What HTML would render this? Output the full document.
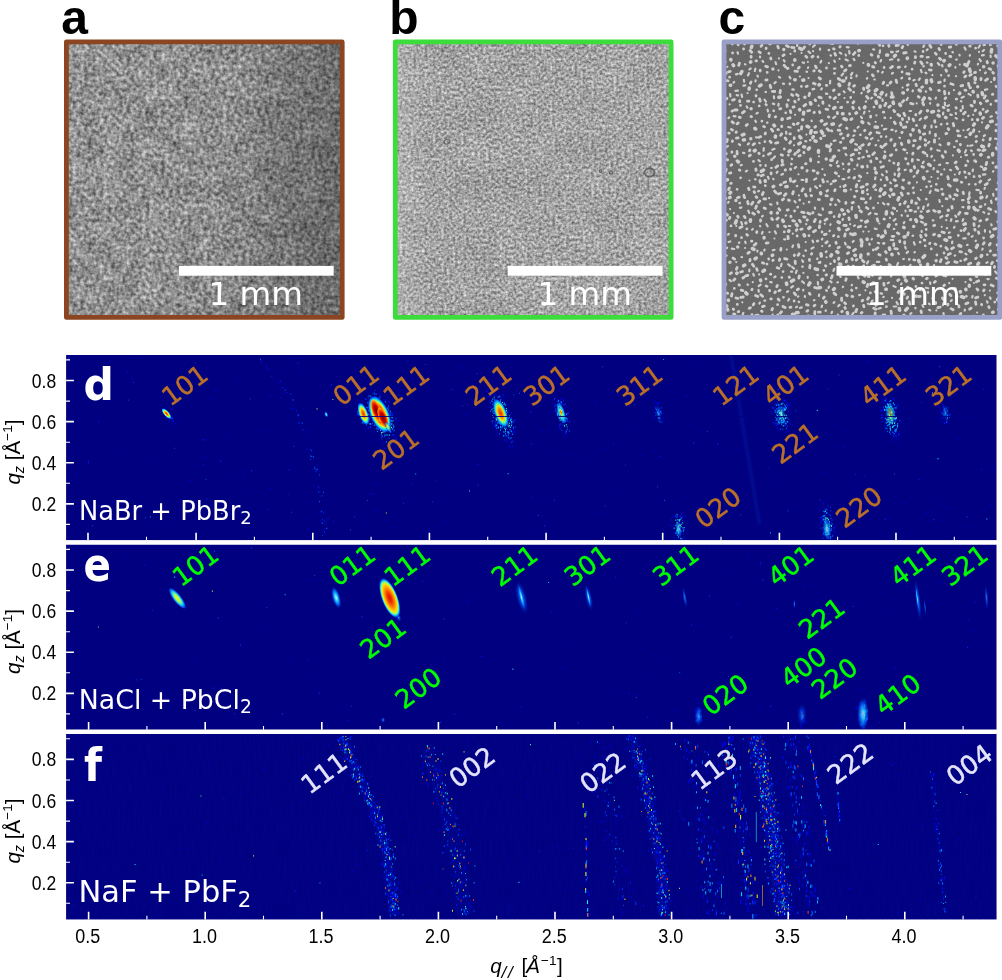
<!DOCTYPE html><html><head><meta charset="utf-8"><title>Figure</title><style>
html,body{margin:0;padding:0;background:#fff;}svg{display:block;}
.lb{font-family:"Liberation Sans",sans-serif;font-weight:bold;font-size:48px;fill:#000;}
.dj{font-family:"DejaVu Sans","Liberation Sans",sans-serif;}
.tk{font-family:"Liberation Sans",sans-serif;font-size:19.4px;fill:#000;}
</style></head><body>
<svg width="1002" height="980" viewBox="0 0 1002 980">
<defs>
<filter id="na" x="0" y="0" width="100%" height="100%" color-interpolation-filters="sRGB">
<feTurbulence type="fractalNoise" baseFrequency="0.26" numOctaves="2" seed="3"/>
<feColorMatrix values="1 0 0 0 0  1 0 0 0 0  1 0 0 0 0  0 0 0 0 1" result="f"/>
<feTurbulence type="fractalNoise" baseFrequency="0.05" numOctaves="2" seed="8"/>
<feColorMatrix values="1 0 0 0 0  1 0 0 0 0  1 0 0 0 0  0 0 0 0 1" result="c"/>
<feComposite in="f" in2="c" operator="arithmetic" k1="0" k2="0.75" k3="0.2" k4="0.10"/></filter>
<filter id="nb" x="0" y="0" width="100%" height="100%" color-interpolation-filters="sRGB">
<feTurbulence type="fractalNoise" baseFrequency="0.36" numOctaves="2" seed="11"/>
<feColorMatrix values="1 0 0 0 0  1 0 0 0 0  1 0 0 0 0  0 0 0 0 1" result="f"/>
<feTurbulence type="fractalNoise" baseFrequency="0.03" numOctaves="2" seed="4"/>
<feColorMatrix values="1 0 0 0 0  1 0 0 0 0  1 0 0 0 0  0 0 0 0 1" result="c"/>
<feComposite in="f" in2="c" operator="arithmetic" k1="0" k2="0.7" k3="0.1" k4="0.24"/></filter>
<filter id="nf" x="0" y="0" width="100%" height="100%" color-interpolation-filters="sRGB">
<feTurbulence type="fractalNoise" baseFrequency="0.6 0.05" numOctaves="1" seed="2"/>
<feColorMatrix values="0 0 0 0 0.05  0 0 0 0 0.08  0 0 0 0 0.62  0.9 0 0 0 -0.2"/></filter>
<radialGradient id="gHot"><stop offset="0" stop-color="#800000" stop-opacity="1"/><stop offset="0.33" stop-color="#d00000" stop-opacity="1"/><stop offset="0.5" stop-color="#ff5000" stop-opacity="1"/><stop offset="0.62" stop-color="#ffd000" stop-opacity="1"/><stop offset="0.72" stop-color="#80ff80" stop-opacity="1"/><stop offset="0.82" stop-color="#00d0ff" stop-opacity="1"/><stop offset="0.92" stop-color="#0050ff" stop-opacity="0.9"/><stop offset="1" stop-color="#0010a0" stop-opacity="0"/></radialGradient>
<radialGradient id="gWarm"><stop offset="0" stop-color="#ff2000" stop-opacity="1"/><stop offset="0.28" stop-color="#ff8000" stop-opacity="1"/><stop offset="0.48" stop-color="#ffe000" stop-opacity="1"/><stop offset="0.63" stop-color="#80ff80" stop-opacity="1"/><stop offset="0.77" stop-color="#00c8ff" stop-opacity="1"/><stop offset="0.9" stop-color="#0050ff" stop-opacity="0.85"/><stop offset="1" stop-color="#0010a0" stop-opacity="0"/></radialGradient>
<radialGradient id="gHot2"><stop offset="0" stop-color="#d81800" stop-opacity="1"/><stop offset="0.22" stop-color="#f03000" stop-opacity="1"/><stop offset="0.45" stop-color="#ff8000" stop-opacity="1"/><stop offset="0.66" stop-color="#ffd800" stop-opacity="1"/><stop offset="0.76" stop-color="#b0ff50" stop-opacity="1"/><stop offset="0.84" stop-color="#30e0e0" stop-opacity="1"/><stop offset="0.92" stop-color="#0060ff" stop-opacity="0.9"/><stop offset="1" stop-color="#0010a0" stop-opacity="0"/></radialGradient>
<radialGradient id="gCore"><stop offset="0" stop-color="#800000" stop-opacity="1"/><stop offset="0.45" stop-color="#c80000" stop-opacity="1"/><stop offset="0.7" stop-color="#ff4000" stop-opacity="1"/><stop offset="0.88" stop-color="#ffb000" stop-opacity="0.85"/><stop offset="1" stop-color="#ffe000" stop-opacity="0"/></radialGradient>
<radialGradient id="gYel"><stop offset="0" stop-color="#fff000" stop-opacity="1"/><stop offset="0.35" stop-color="#a0ff60" stop-opacity="1"/><stop offset="0.6" stop-color="#20d0f0" stop-opacity="1"/><stop offset="0.85" stop-color="#0058ff" stop-opacity="0.8"/><stop offset="1" stop-color="#0010a0" stop-opacity="0"/></radialGradient>
<radialGradient id="gCy"><stop offset="0" stop-color="#d0ffff" stop-opacity="1"/><stop offset="0.3" stop-color="#30d0ff" stop-opacity="1"/><stop offset="0.65" stop-color="#0070ff" stop-opacity="0.85"/><stop offset="1" stop-color="#0018b0" stop-opacity="0"/></radialGradient>
<radialGradient id="gBl"><stop offset="0" stop-color="#40a0ff" stop-opacity="0.95"/><stop offset="0.5" stop-color="#0050f0" stop-opacity="0.7"/><stop offset="1" stop-color="#0018b0" stop-opacity="0"/></radialGradient>
<linearGradient id="vb" x1="0" y1="0" x2="1" y2="0"><stop offset="0" stop-color="#fff" stop-opacity="0.18"/><stop offset="0.12" stop-color="#fff" stop-opacity="0"/><stop offset="1" stop-color="#fff" stop-opacity="0"/></linearGradient><linearGradient id="va" x1="0" y1="0" x2="1" y2="0.1"><stop offset="0" stop-color="#000" stop-opacity="0"/><stop offset="0.6" stop-color="#000" stop-opacity="0.03"/><stop offset="0.85" stop-color="#000" stop-opacity="0.2"/><stop offset="1" stop-color="#000" stop-opacity="0.28"/></linearGradient>
<clipPath id="cc"><rect x="723.3" y="41.5" width="276.6" height="276.3"/></clipPath>
<filter id="ncb" x="0" y="0" width="100%" height="100%" color-interpolation-filters="sRGB"><feTurbulence type="fractalNoise" baseFrequency="0.5" numOctaves="1" seed="5"/><feColorMatrix values="0 0 0 0 0.5  0 0 0 0 0.5  0 0 0 0 0.5  0.5 0 0 0 -0.2"/></filter>
</defs>
<rect width="1002" height="980" fill="#fff"/>
<rect x="66.0" y="41.5" width="276.6" height="276.3" fill="#808080"/>
<rect x="66.0" y="41.5" width="276.6" height="276.3" filter="url(#na)"/>
<rect x="66" y="41.5" width="276.6" height="276.3" fill="url(#va)"/>
<rect x="66.4" y="41.9" width="275.8" height="275.5" fill="none" stroke="#8b4520" stroke-width="4.8" stroke-linejoin="round"/>
<rect x="178.9" y="265.9" width="154.8" height="9.8" fill="#fff"/>
<text class="dj" x="255.8" y="305.3" font-size="32.6" fill="#fff" text-anchor="middle">1 mm</text>
<text class="lb" x="61.3" y="34.3">a</text>
<rect x="394.9" y="41.5" width="276.6" height="276.3" fill="#a6a6a6"/>
<rect x="394.9" y="41.5" width="276.6" height="276.3" filter="url(#nb)"/>
<g fill="none" stroke="#555" stroke-width="1.2" opacity="0.8"><ellipse cx="447" cy="141.5" rx="3" ry="2.4" transform="rotate(-30 447 141.5)"/><ellipse cx="649.5" cy="172.5" rx="5" ry="4" stroke-width="1.8"/><circle cx="611" cy="172.5" r="1.6"/><circle cx="600.5" cy="171" r="1.3"/></g><circle cx="544.5" cy="304" r="2.2" fill="#fff" opacity="0.8"/><rect x="395" y="41.5" width="276.6" height="276.3" fill="url(#vb)"/>
<rect x="395.29999999999995" y="41.9" width="275.8" height="275.5" fill="none" stroke="#3ddc3d" stroke-width="4.8" stroke-linejoin="round"/>
<rect x="507.79999999999995" y="265.9" width="154.8" height="9.8" fill="#fff"/>
<text class="dj" x="584.7" y="305.3" font-size="32.6" fill="#fff" text-anchor="middle">1 mm</text>
<text class="lb" x="389.3" y="34.3">b</text>
<rect x="723.6" y="41.5" width="276.6" height="276.3" fill="#676767"/>
<rect x="723.6" y="41.5" width="276.6" height="276.3" filter="url(#ncb)"/>
<g clip-path="url(#cc)" stroke="#cfcfcf" stroke-linecap="round" fill="none"><path stroke-width="2.2" d="M829.8 230.7l-0.3 0.4M872.6 300.6l-0.9 0.5M972.5 145.3l-2.3 0.5M766.4 224.2l1.2 2.1M984.9 187.9l-0.4 0.9M835.2 116.6l-1.9 1.4M942.3 206.2l0.0 0.0M815.2 186.4l1.8 1.6M764.5 99.6l1.4 2.0M775.6 62.4l0.5 1.7M803.6 203.6l0.0 0.0M834.3 268.7l-0.9 2.2M904.4 222.2l-0.6 0.8M947.1 227.9l-0.2 0.4M974.0 283.0l-0.0 0.0M941.3 189.1l0.9 0.3M966.9 155.1l-1.4 0.1M905.5 210.5l0.1 1.0M829.0 286.6l-0.5 1.3M915.4 307.8l0.1 0.5M905.2 246.8l0.5 1.7M962.7 106.1l0.0 2.4M940.3 164.6l-1.3 0.4M927.7 171.2l-1.0 0.3M870.5 212.9l-1.8 1.5M898.2 252.9l0.7 1.2M936.0 97.6l-0.4 0.9M985.3 204.2l-0.3 0.4M839.5 304.9l-1.3 1.3M951.8 300.2l-1.1 0.9M770.1 204.2l1.3 0.4M737.6 52.4l0.4 1.3M818.7 105.7l0.0 0.0M933.3 220.3l-0.5 0.1M770.3 282.0l1.3 0.4M921.7 211.6l-1.0 0.0M818.7 214.4l2.3 0.8M755.1 179.1l0.4 0.3M727.9 146.1l-1.6 0.9M949.2 283.2l-0.0 0.0M955.1 255.4l-0.4 0.3M758.5 160.1l1.3 1.2M891.3 129.8l1.4 0.1M952.5 52.0l0.4 0.3M729.6 279.9l1.3 1.3M865.4 290.3l0.0 0.0M902.6 87.6l-0.0 0.0M880.0 50.4l-0.3 2.4M886.3 136.4l-0.2 0.4M749.5 180.5l0.0 0.0M844.5 98.0l0.0 0.0M944.7 79.5l-0.2 1.4M955.7 113.0l0.3 0.9M868.7 231.5l-0.0 0.0M840.3 186.7l0.0 0.0M741.6 94.6l0.5 2.3M798.3 296.4l-0.4 0.3M794.6 201.2l0.9 1.1M805.7 242.1l0.0 0.0M755.9 137.3l2.4 0.2M796.1 166.9l-1.3 1.2M984.0 50.0l-1.3 1.2M954.1 146.9l0.5 0.1M772.9 103.6l1.3 0.5M965.4 253.6l1.1 0.8M973.2 114.8l-0.0 0.0M846.8 47.1l1.8 0.3M829.9 245.4l-0.7 0.7M972.6 236.1l-0.9 0.5M812.7 316.5l0.4 0.3M803.3 255.7l0.4 0.3M849.3 177.3l-0.9 0.4M803.4 272.9l-0.0 0.0M949.7 232.4l-0.8 0.5M999.0 236.6l-1.0 1.0M753.3 274.0l0.6 1.7M869.3 111.3l0.0 0.0M995.8 86.0l0.3 1.0M799.9 76.5l-0.0 0.0M784.3 316.6l-1.3 0.4M939.4 200.1l0.3 1.8M817.4 258.5l-0.2 0.4M727.4 66.8l0.0 0.0M749.0 73.2l-1.0 2.2M806.4 134.6l-0.0 0.0M975.8 276.5l1.3 0.4M890.8 240.0l2.4 0.1M877.8 242.8l1.3 0.5M956.9 189.3l0.9 1.6M730.1 209.1l-0.0 0.0M987.1 196.0l-0.7 1.7M953.9 90.1l0.0 0.0M913.9 242.3l0.8 2.3M977.1 312.5l-0.0 0.0M789.6 76.7l0.8 1.6M760.0 225.9l0.2 0.4M991.3 224.4l0.3 0.9M875.2 189.6l0.9 0.4M763.7 155.6l-0.4 0.4M876.4 115.4l0.0 0.0M822.1 305.7l-0.5 1.3M989.9 297.4l0.7 1.2M822.2 246.1l0.0 0.0M952.3 241.7l-0.2 1.4M980.8 166.5l1.3 0.6M843.1 286.7l-0.2 0.5M875.6 121.8l-0.0 0.0M826.6 251.4l-0.8 0.7M914.6 51.3l0.9 0.4M872.0 97.7l-0.8 0.6M837.9 314.6l-0.0 0.0M788.2 291.2l-1.2 0.7M965.7 238.3l-2.4 0.1M967.7 145.5l-0.0 0.5M955.3 215.7l0.8 1.1M925.7 91.3l0.4 0.3M783.8 60.2l0.8 1.1M786.1 215.4l-0.4 0.3M767.6 109.7l0.4 1.8M923.8 66.2l-0.5 0.1M914.6 79.8l-1.3 0.6M857.5 164.6l-0.2 1.0M774.9 231.3l1.1 2.1M858.5 206.3l0.7 1.6M989.9 290.6l-0.0 0.0M968.9 129.0l-1.4 1.1M886.4 94.4l-0.4 1.3M987.0 254.6l0.5 0.1M855.5 270.4l-1.9 1.5M987.1 268.6l2.2 1.0M802.2 266.6l0.5 0.1M825.9 93.7l1.4 0.1M825.0 135.7l-1.8 0.3M929.0 303.6l0.7 0.7M956.1 44.5l0.5 0.2M853.6 58.9l0.8 1.1M843.2 73.6l-1.6 1.8M830.2 80.9l-0.2 2.4M801.7 307.4l-1.7 0.6M786.8 249.5l-0.0 0.0M965.0 309.7l-0.4 0.9M772.6 314.5l0.3 1.8M745.0 64.2l0.4 0.2M830.5 55.4l0.5 0.2M773.9 96.4l0.2 1.8M892.9 72.9l-0.8 0.6M961.0 157.0l0.0 0.0M856.6 75.3l-0.1 1.0M959.8 64.6l-0.0 0.0M791.1 271.6l1.0 0.1M929.1 309.8l1.2 0.6M867.2 78.2l-0.3 0.4M936.4 310.4l0.0 0.0M963.3 219.2l-0.7 1.7M864.5 111.8l-0.6 1.7M939.2 138.5l-0.0 0.0M931.2 186.0l-0.3 0.4M831.5 183.6l-0.8 0.6M858.2 43.3l-0.4 0.3M879.3 261.8l-2.4 0.1M908.5 273.2l0.0 0.0M975.9 240.6l-0.3 0.4M747.5 93.1l-0.0 0.0M806.5 71.7l0.5 0.1M794.0 145.3l-0.0 0.0M828.9 63.2l0.0 0.0M866.1 101.3l-0.3 0.4M867.5 189.4l-0.5 0.9M729.6 104.4l0.0 0.0M881.9 174.3l0.9 1.1M932.0 156.0l-0.6 0.8M854.5 169.0l0.0 0.0M950.1 169.9l1.0 0.3M798.5 174.3l0.0 0.0M784.1 239.3l1.4 0.0M739.0 144.2l1.1 0.8M902.1 77.7l-0.7 0.7M934.1 265.1l-0.3 1.4M814.4 300.1l-0.4 0.2M893.5 162.7l0.7 0.7M972.9 169.7l-0.2 1.4M989.9 231.4l0.2 1.0M967.5 160.7l0.6 0.8M965.4 137.2l1.0 0.0M830.0 165.1l1.3 0.5M963.0 42.7l0.0 0.0M808.2 67.4l-0.2 0.5M760.0 56.7l0.1 0.5M817.8 274.9l-0.4 0.2M774.4 238.5l0.0 0.0M725.4 50.8l0.0 0.0M955.7 117.8l1.1 0.8M876.1 145.1l-0.5 0.2M883.7 296.9l-0.4 0.3M797.2 186.0l-0.4 0.2M956.0 76.2l0.0 0.0M788.2 127.0l2.3 0.5M913.1 235.7l-0.5 0.1M757.5 75.7l0.3 0.9M835.4 68.5l-1.4 0.2M892.1 297.9l-0.0 0.0M885.0 314.5l-2.4 0.4M860.1 294.8l-0.9 0.3M954.5 226.8l-0.5 0.9M737.9 90.6l-2.4 0.2M834.2 60.6l0.7 1.2M930.1 282.4l0.2 1.4M757.7 112.8l-1.2 0.7M995.2 138.6l1.7 0.4M814.2 88.9l-1.7 0.5M792.8 233.7l0.0 0.0M743.9 79.8l0.2 1.8M985.0 230.2l-0.1 1.4M928.7 181.5l1.4 0.1M976.4 189.9l2.4 0.2M837.9 199.8l1.6 1.8M965.5 282.1l-0.0 0.0M792.2 267.0l1.8 1.6M852.3 72.8l-1.2 2.1M920.8 190.0l-0.0 0.0M813.5 247.4l-2.0 1.3M979.5 59.2l1.3 2.0M790.5 53.9l0.0 0.0M807.7 276.8l0.0 1.0M995.2 271.4l1.5 1.9M872.5 138.1l-1.5 1.0M853.6 240.9l-0.9 1.0M929.8 131.7l-0.1 1.8M821.2 60.8l-0.7 1.7M796.7 270.6l-0.8 2.3M959.8 172.1l-0.6 1.7M749.4 269.5l-0.1 1.8M907.5 44.1l0.4 0.9M789.1 299.0l-0.9 1.5M816.2 178.5l-2.1 1.1M874.8 228.6l1.8 0.4M875.1 213.7l1.8 0.4M741.3 207.5l-1.3 0.4M820.1 48.7l-0.1 1.0M968.6 93.9l2.1 1.2M773.3 178.8l0.2 0.4M826.1 290.2l0.8 0.6M861.6 92.8l-0.2 0.5M774.5 148.8l-2.2 1.0M949.0 92.6l0.0 1.4M797.0 306.7l-0.9 0.5M802.2 281.4l1.8 1.6M764.6 249.6l-0.3 0.9M759.9 302.7l-0.5 0.8M765.5 91.9l0.5 0.1M983.8 55.1l-1.8 0.2M914.8 252.1l-0.4 0.3M858.6 126.7l-1.0 1.0M955.4 67.1l0.0 0.5M874.3 79.5l0.5 0.0M870.7 197.6l-0.4 1.3M907.8 97.9l-1.1 2.1M901.5 283.5l-0.4 0.9M979.9 45.5l-1.3 2.0M913.0 90.4l-0.4 0.9M745.1 248.0l-0.0 0.0M890.7 117.9l-0.0 0.0M774.5 249.8l-1.7 0.5M863.3 231.6l0.0 0.0M991.8 116.3l-1.3 0.5M920.9 70.0l0.7 2.3M867.3 165.7l0.2 1.4M743.0 152.7l1.3 0.4M913.5 187.3l-0.6 0.8M881.1 60.1l-0.5 1.3M964.5 47.4l1.1 2.1M968.5 115.7l-0.3 0.4M869.4 243.7l0.2 1.0M811.6 120.6l0.1 0.5M967.6 244.8l-0.5 0.2M843.6 169.0l-0.0 0.0M827.2 181.4l0.5 0.2M859.1 107.5l0.6 1.7M880.7 308.0l-2.3 0.7M886.3 128.8l-2.3 0.6M947.9 163.1l-1.4 0.0M952.9 155.4l0.0 0.0M944.8 102.7l0.2 2.4M868.2 261.3l-1.1 2.2M779.0 76.8l1.1 0.8M899.5 137.7l0.5 0.2M801.6 179.9l1.8 0.1M741.7 164.9l-0.9 0.4M922.5 305.2l0.8 1.6M928.6 57.1l-1.8 0.3M925.9 287.7l2.3 0.6M819.2 294.6l-0.3 1.4M747.1 170.6l-1.2 0.8M841.1 124.5l-1.8 1.6M777.5 171.6l-0.8 1.2M825.8 310.3l-0.1 0.5M845.6 153.9l0.8 1.2M985.3 174.3l-2.4 0.3M745.3 85.4l-1.8 0.3M893.7 306.5l2.4 0.0M829.2 105.5l0.4 0.3M765.7 165.0l-0.1 1.0M839.6 58.8l-0.0 0.0M762.6 232.0l-0.7 1.7M803.3 289.9l-0.1 0.5M863.3 62.9l-0.0 0.0M759.3 142.9l0.4 0.3M872.9 273.4l-0.5 2.3M957.7 221.2l-1.8 0.2M769.5 232.2l-0.0 0.0M966.0 150.2l-1.0 2.2M763.8 148.2l-0.2 2.4M850.8 189.6l0.0 0.0M765.3 300.6l-1.0 0.0M888.9 282.6l-1.2 0.6M969.5 192.4l-0.3 2.4M806.2 224.2l0.0 0.0M853.4 312.8l-1.2 2.1M894.7 173.5l0.1 1.4M897.0 211.0l-0.0 0.0M861.0 116.6l0.9 1.5M822.6 208.4l0.4 1.3M991.0 200.7l0.6 2.3M937.3 150.2l2.3 0.6M793.1 245.4l-0.7 1.6M934.4 160.4l0.0 0.0M824.8 223.8l-0.0 0.0M837.4 161.3l-0.6 1.7M927.0 62.5l0.5 0.2M748.9 143.4l-1.0 1.0M984.9 135.2l-1.1 0.8M768.0 176.9l0.6 1.7M830.5 224.3l-0.2 0.5M982.6 248.7l-0.3 1.0M891.4 275.4l-0.3 1.0M918.0 197.9l1.5 1.9M798.8 98.8l-0.2 1.0M729.2 117.5l-0.8 0.6M737.7 73.9l-1.7 0.5M943.6 302.8l-0.7 2.3M931.4 177.0l0.0 0.0M969.9 55.1l-0.1 0.5M867.8 71.5l-0.0 0.0M930.7 190.9l-1.0 2.2M730.1 94.0l0.3 2.4M918.4 207.4l-0.1 1.0M824.6 174.7l0.3 0.4M942.3 216.1l-1.9 1.4M790.2 226.0l-1.4 0.0M842.7 163.4l0.4 0.9M896.6 302.1l1.2 2.1M980.0 70.2l0.0 0.0M783.0 173.9l-1.6 0.8M791.7 158.6l0.3 0.4M982.0 122.4l-0.0 0.0M728.8 234.0l-0.8 0.6M808.5 78.1l-0.0 0.0M979.3 131.6l0.0 0.0M908.7 117.6l0.4 1.8M951.4 219.2l-0.5 1.7M854.2 135.4l-0.9 0.5M897.4 315.9l0.1 1.8M907.1 152.9l0.0 0.0M747.5 284.5l0.4 0.3M745.2 241.7l0.4 1.3M941.7 226.8l0.0 0.0M801.5 53.0l0.0 0.0M919.9 78.3l-1.0 1.5M781.5 263.9l-0.5 2.3M969.2 184.1l-0.4 0.3M863.9 265.3l-1.2 1.3M759.1 274.4l0.0 0.0M924.2 45.4l-0.9 1.5M846.3 77.3l-0.2 1.4M857.8 276.6l0.7 1.7M979.2 225.7l-0.5 0.8M949.0 105.2l-1.7 0.7M880.6 293.4l1.4 0.3M893.8 228.9l0.5 0.1M991.1 82.0l-0.0 0.0M908.0 251.6l-1.3 1.3M798.7 301.6l0.3 0.4M762.5 60.8l0.8 1.1M882.5 99.4l0.1 1.4M867.3 173.2l-0.0 0.0M755.3 120.7l0.7 1.2M896.1 131.0l-0.4 0.3M942.2 65.0l0.2 1.4M952.6 278.8l-0.0 0.0M810.3 188.7l-0.0 2.4M817.8 282.1l0.3 2.4M916.0 211.7l-1.4 0.0M883.0 203.0l1.3 1.3M838.3 150.3l1.0 0.3M962.1 200.1l1.4 0.1M905.6 66.5l-0.4 0.4M845.0 242.8l0.7 1.7M987.6 262.2l-1.2 0.7M914.4 176.1l-0.7 0.7M731.8 248.7l2.4 0.3M920.9 118.6l-1.2 1.3M743.3 313.0l-0.6 1.7M910.5 264.9l-0.7 1.6M959.5 54.9l0.1 0.5M868.3 122.9l1.3 1.3M726.5 255.5l-1.1 0.8M775.5 276.5l-1.2 0.8M792.3 89.4l1.4 0.3M886.4 171.2l0.4 0.9M866.7 150.8l0.2 1.0M878.0 203.1l-0.0 0.0M892.4 59.3l-2.3 0.5M911.4 313.1l-1.1 0.8M834.4 302.2l-0.8 0.6M822.3 238.7l-0.4 0.9M875.4 177.4l-0.4 1.8M898.1 262.9l-1.0 2.2M960.4 260.8l0.5 0.1M793.0 286.1l-1.9 1.5M826.6 257.3l-0.0 0.0M871.9 239.0l-0.3 0.4M741.3 222.1l0.8 2.3M807.9 62.0l-0.0 0.0M937.9 178.4l-0.0 0.0M859.6 180.7l-1.0 0.3M903.8 258.9l-0.5 0.2M830.7 263.6l-0.4 0.3M734.2 81.8l-0.6 0.8M783.0 83.7l1.0 0.1M956.7 59.5l-0.5 0.2M842.9 219.0l-0.3 1.0M927.1 154.8l0.1 1.4M997.1 124.5l-1.0 0.1M932.4 75.2l-0.0 0.0M972.5 296.0l-0.3 1.4M798.9 195.4l-0.0 0.0M993.3 171.2l-0.2 0.5M941.1 75.0l0.1 0.5M778.5 70.4l-0.0 0.0M838.6 176.1l0.4 0.2M850.2 224.2l0.0 0.0M963.5 130.3l-0.0 0.0M889.9 217.9l0.0 0.0M937.8 63.1l1.6 1.8M813.1 51.2l0.0 0.0M760.6 284.7l-1.9 1.4M777.3 202.5l0.1 1.4M746.7 106.5l0.7 1.2M739.3 242.5l-0.4 0.3M821.8 88.5l-0.6 0.8M724.6 271.9l-0.4 1.3M771.7 167.9l-0.5 0.2M880.9 179.5l-0.0 0.5M975.8 269.9l1.0 0.2M867.5 194.1l0.4 0.2M778.6 103.8l-0.2 1.8M954.8 174.5l0.0 0.0M889.1 195.4l1.0 1.5M840.2 276.7l0.5 0.2M884.8 151.5l0.2 0.5M877.1 304.7l-1.5 1.0M767.5 122.7l-0.5 0.0M843.7 91.3l0.9 1.1M893.4 286.0l2.2 0.9M931.5 125.7l0.0 1.8M921.6 230.8l0.1 1.0M736.3 226.0l0.0 0.0M851.9 284.8l-0.2 0.5M757.4 250.6l-0.0 1.0M736.7 95.1l1.4 0.3M728.7 201.8l-0.6 0.8M917.4 159.7l1.4 0.4M890.2 182.5l0.7 0.7M873.2 49.3l0.9 0.3M860.7 220.6l1.4 0.0M985.0 45.0l-1.4 0.1M881.9 125.7l-0.0 0.0M849.2 51.1l0.3 2.4M930.0 103.2l0.2 0.5M987.3 89.3l-2.3 0.6M916.7 103.4l-0.0 0.0M985.8 72.5l-0.8 0.6M742.3 302.3l-0.0 0.0M822.4 169.2l-0.0 0.0M786.1 131.9l0.2 1.8M812.6 240.6l0.5 1.7M999.2 91.0l-0.2 0.5M732.0 44.1l0.5 0.2M865.2 316.2l0.9 1.1M943.5 313.0l0.2 2.4M839.8 52.6l1.5 1.0M736.2 262.1l-0.0 0.0M961.0 101.1l0.4 0.3M878.4 140.5l-0.0 0.0M978.0 63.9l-0.1 0.5M909.6 111.0l1.4 0.0M882.8 71.9l-0.6 0.8M778.9 58.4l-0.0 0.0M895.5 219.0l-1.8 1.6M998.4 182.2l-0.6 0.8M925.6 72.7l0.8 0.5M775.7 82.1l-1.3 1.2M742.0 257.2l-0.5 0.0M971.0 150.4l0.8 0.6M837.4 282.3l0.5 0.1M916.9 182.4l0.0 0.0M808.5 51.5l1.8 1.6M939.5 144.4l1.1 0.8M999.2 158.1l-0.6 0.8M837.8 102.2l-0.0 0.0M838.2 271.5l-0.4 0.3M748.3 210.7l0.9 2.2M832.1 311.8l-0.6 1.3M845.6 59.5l2.2 1.0M983.4 212.1l0.9 0.5M762.8 215.8l-0.7 0.7M814.9 207.7l0.2 1.0M733.9 213.1l0.0 0.0M854.9 225.3l-0.8 0.6M950.3 114.6l1.4 0.3M730.3 241.5l-1.7 0.5M901.6 215.2l0.2 0.5M844.3 179.2l-1.8 0.0M795.1 114.8l0.0 0.0M988.8 279.1l-1.4 0.0M905.7 169.7l-1.0 0.3M889.2 160.6l0.5 0.1M943.3 112.5l-0.3 1.8M987.1 301.3l0.4 1.3M830.2 281.2l1.4 1.1M797.6 317.3l-0.0 1.0M990.5 55.5l0.2 1.4M929.3 141.8l-1.2 1.3M802.2 260.3l0.9 1.6M758.5 289.9l0.3 1.8M835.6 140.5l-1.8 0.4M863.7 157.0l-1.3 0.5M962.4 207.0l1.0 0.2M879.4 223.5l0.0 0.0M810.0 140.1l0.5 0.1M923.7 161.6l-1.0 1.5M887.4 301.4l-1.8 0.4M788.2 264.3l1.9 1.5M927.5 49.5l-0.8 0.6M769.1 198.2l0.0 0.0M923.7 206.6l-0.6 2.3M733.7 116.1l1.8 0.3M946.2 220.2l-0.0 0.0M819.0 156.3l0.0 0.0M944.3 169.4l-0.0 0.0M750.6 68.5l-1.2 0.8M759.0 190.8l-0.8 0.6M898.2 51.2l-1.7 0.5M973.6 315.8l0.9 0.3M933.7 168.2l-0.2 1.0M984.8 295.2l-0.0 0.0M755.6 80.4l-0.1 1.0M814.8 45.2l-1.8 1.6M804.9 296.1l-0.0 1.0M802.6 62.5l1.4 0.3M845.6 54.6l0.4 0.9M855.3 144.0l1.6 0.8M774.9 156.4l-1.6 1.8M979.0 51.9l0.0 0.0M993.2 193.9l0.2 1.8M755.4 68.7l-0.6 2.3M752.8 229.0l-0.7 0.7M995.4 211.2l0.6 0.8M963.8 96.7l-2.2 1.0M797.4 43.6l-0.3 2.4M852.0 207.1l-0.3 2.4M865.9 226.7l-0.5 0.2M887.1 85.3l1.0 0.1M921.0 221.7l2.2 1.0M928.3 204.3l-0.5 1.3M752.8 282.2l0.0 0.0M867.9 303.6l1.3 0.6M990.0 179.3l-1.4 1.1M805.3 141.2l1.0 0.1"/><path stroke-width="2.8" d="M835.6 97.5l-1.4 1.1M773.7 110.8l-0.0 0.0M859.1 158.5l-0.5 0.1M958.2 135.7l1.8 0.2M937.5 171.5l0.5 0.2M996.6 189.4l0.0 0.0M851.6 290.1l0.3 0.4M891.0 311.1l0.4 2.4M822.8 101.9l0.2 1.4M994.8 302.1l0.0 0.0M906.1 52.7l-2.4 0.3M730.9 172.8l-1.4 0.3M841.5 66.2l0.6 0.8M809.7 44.1l0.0 0.0M779.7 259.0l-0.3 1.4M739.7 100.6l0.1 1.0M795.3 153.6l-0.6 0.8M934.5 139.8l0.0 2.4M891.7 154.8l-1.2 0.7M751.0 82.0l-0.6 1.3M772.4 91.4l2.4 0.1M878.8 254.4l1.3 0.6M756.7 268.6l0.5 1.7M826.5 68.0l0.0 0.0M966.4 296.3l0.0 0.0M923.0 152.1l2.1 1.1M846.6 128.1l0.4 0.3M922.7 102.6l0.9 2.2M793.2 124.0l0.9 0.5M844.9 307.5l0.4 0.9M795.0 180.9l-1.6 0.8M802.1 229.0l-1.4 0.3M907.9 163.5l0.3 0.4M819.5 225.9l-0.1 1.8M777.7 225.4l0.1 1.0M771.7 218.5l0.8 1.1M834.5 73.4l0.0 0.0M870.7 42.9l-0.0 0.0M930.1 88.5l0.8 1.1M781.0 248.4l-0.3 1.8M730.2 71.4l-1.8 0.4M809.1 202.1l0.0 0.0M988.8 157.1l-0.5 0.2M826.0 195.7l1.4 0.1M805.7 250.6l0.0 0.0M997.3 260.7l0.0 0.0M834.1 89.9l-0.6 0.8M851.2 77.8l-0.0 0.0M760.4 165.3l-0.0 0.0M958.3 235.5l-0.0 0.0M799.7 200.0l0.0 0.0M856.3 288.1l0.0 0.0M969.0 173.5l0.5 0.2M790.4 169.0l0.3 0.4M728.7 133.2l0.5 0.0M860.4 134.8l-0.0 0.0M926.3 199.1l-0.0 0.0M845.2 233.8l-0.5 2.3M756.7 89.8l-0.0 0.0M878.4 97.0l1.7 0.5M904.0 266.7l0.0 0.0M746.9 228.9l-0.0 0.0M923.8 269.4l-0.8 0.6M765.8 66.3l1.7 0.6M933.7 210.5l1.6 0.9M818.0 57.0l0.0 0.0M990.3 243.4l-0.9 1.6M912.1 69.2l0.0 0.0M943.1 107.2l0.9 0.5M846.6 260.6l-0.3 1.4M827.1 128.7l1.7 1.7M737.0 151.5l0.2 2.4M807.2 86.2l-1.0 0.3M984.0 284.8l1.0 0.0M947.2 123.8l-0.0 0.0M816.5 132.4l-1.8 0.1M803.9 152.4l0.1 0.5M997.2 100.8l-1.4 0.1M880.5 162.0l0.0 0.0M780.1 290.2l-1.2 0.7M996.5 112.5l0.4 0.3M725.4 219.5l1.1 0.8M862.8 300.2l-0.7 0.7M760.8 294.7l1.8 1.6M788.5 200.0l0.9 0.4M781.8 277.6l0.0 0.0M873.9 107.1l-0.0 0.0M744.4 111.4l-1.9 1.5M935.5 134.4l0.0 1.4M732.6 53.0l0.0 0.0M738.2 123.0l-1.2 0.8M763.6 126.4l0.9 0.5M788.2 209.8l-1.0 0.3M827.7 190.5l-0.8 0.6M938.9 48.4l0.6 1.3M743.9 42.7l0.6 1.3M920.3 264.8l0.5 0.0M980.3 102.9l0.6 0.8M814.2 70.7l-0.4 0.3M965.5 213.4l1.8 0.1M791.4 164.1l-0.0 0.0M841.6 298.1l0.1 2.4M964.2 71.6l-0.5 0.9M743.2 297.0l-2.4 0.4M898.9 279.7l-1.2 0.8M777.4 285.4l-0.6 1.3M905.4 201.7l-0.9 1.5M784.5 226.1l1.2 0.7M997.7 46.0l0.0 0.0M931.2 148.7l-0.1 0.5M751.0 116.5l0.5 0.2M930.4 270.3l0.0 0.0M936.1 126.8l0.0 0.0M899.0 168.8l-0.6 1.3M765.5 133.0l-0.4 0.9M759.9 180.7l0.4 1.8M893.3 208.0l1.3 0.6M743.9 195.3l0.7 2.3M834.4 260.7l0.2 1.0M850.4 65.5l-1.0 0.1M778.2 299.1l0.9 1.1M756.0 243.6l-1.8 1.6M877.1 218.8l0.8 2.3M731.4 272.8l-1.2 0.8M793.3 191.6l-0.6 2.3M820.6 138.2l0.3 0.4M736.3 131.9l-0.3 0.4M975.5 301.9l0.4 2.4M947.5 215.2l-0.8 0.6M988.6 208.5l2.2 1.0M819.1 77.8l1.4 1.1M737.1 189.3l-0.0 0.0M814.9 305.2l-0.8 0.6M818.9 97.1l2.3 0.8M749.9 150.0l-0.4 0.9M963.1 192.3l0.4 1.3M827.0 218.9l-2.0 1.4M907.1 122.1l-0.0 0.0M994.4 78.2l-0.2 1.4M935.6 302.5l0.1 1.0M843.9 148.1l1.8 0.1M971.0 105.3l1.2 0.7M903.6 179.9l-0.4 0.3M784.1 54.8l-1.1 0.8M923.1 51.5l0.0 0.0M934.7 120.7l0.2 1.4M724.5 89.8l-0.0 0.0M729.4 187.9l-0.8 1.6M785.7 112.8l0.0 0.0M770.1 85.3l0.7 2.3M852.0 118.8l-1.2 0.7M908.2 84.7l-0.9 0.5M987.7 100.8l-1.4 0.4M756.9 231.6l-0.2 1.0M995.5 255.1l-1.8 0.1M870.8 132.8l-1.2 1.3M853.9 101.7l-0.9 1.1M992.9 162.9l0.0 0.0M863.6 305.4l0.3 1.4M988.7 213.8l-0.0 0.0M763.9 198.9l1.8 0.1M859.2 147.3l1.2 1.3M965.9 76.0l-1.1 0.9M974.7 160.7l1.1 0.9M873.3 250.0l-0.0 0.0M794.3 137.6l-0.1 1.0M935.4 53.2l0.8 1.1M781.3 184.7l-1.0 0.2M726.3 169.4l-0.7 2.3M791.6 47.3l2.4 0.3M848.8 88.5l1.7 1.7M910.5 134.4l0.3 0.9M807.4 219.8l-0.3 0.4M902.8 46.5l-0.7 1.2M981.5 304.3l0.1 0.5M920.2 296.5l-1.8 0.0M798.6 130.5l-0.0 0.0M978.1 149.8l1.4 0.3M890.3 106.0l-1.4 1.1M809.4 293.2l0.7 1.2M872.6 66.6l1.3 0.5M857.0 259.5l-0.8 0.6M831.4 130.7l0.4 0.3M954.9 194.7l2.3 0.7M945.3 151.6l0.2 0.5M798.4 244.7l0.5 2.4M883.8 283.3l0.2 1.8M733.6 313.9l1.3 0.5M790.3 110.8l0.5 1.7M889.0 264.5l1.5 1.0M966.0 165.2l-0.3 0.4M799.3 275.8l-0.5 2.3M938.8 90.4l0.5 0.2M851.9 296.4l1.0 0.2M822.0 232.0l-0.0 0.0M905.8 127.0l-2.4 0.4M771.6 159.7l0.0 0.0M935.7 189.8l2.3 0.7M891.8 212.8l0.9 1.1M931.3 248.9l-0.0 0.0M885.5 251.6l0.8 1.1M804.5 47.0l-0.8 1.1M958.7 305.6l0.3 1.4M785.6 182.0l-1.7 0.5M752.4 264.3l1.4 2.0M984.1 289.9l-0.5 0.9M799.3 67.3l-1.0 1.0M826.8 85.4l-0.5 0.0M731.2 183.2l-0.4 0.2M843.8 225.4l2.4 0.1M885.2 185.4l-0.5 0.1M747.6 201.5l0.6 2.3M886.1 143.9l-1.8 1.6M819.3 70.8l1.2 0.8M910.8 219.4l-0.3 0.4M844.7 214.0l-0.9 0.4M782.1 160.1l0.3 1.8M969.3 270.3l-2.0 1.3M940.3 82.2l-1.8 0.4M847.9 246.9l1.7 0.6M792.7 220.7l1.8 0.4M973.9 223.6l0.3 1.8M929.8 45.3l1.2 2.1M896.2 150.0l0.0 0.0M940.8 246.2l-0.0 0.0M951.0 308.6l2.1 1.2M973.9 129.8l-0.6 1.7M854.5 85.6l-0.8 0.6M803.7 216.8l1.4 0.3M884.0 243.3l-0.5 0.1M748.5 188.3l0.5 1.3M920.3 289.9l-0.0 0.0M999.2 309.2l-1.0 0.1M880.3 277.7l-0.8 0.6M899.7 240.9l0.2 1.0M818.5 162.1l-0.0 0.0M922.2 274.8l0.4 0.9M769.6 290.4l0.1 0.5M874.5 152.8l-1.7 1.6M968.5 83.3l0.5 2.3M803.3 188.8l-1.3 2.0M767.1 79.9l-1.4 0.1M783.1 271.6l-0.0 0.0M886.5 177.4l0.7 2.3M768.9 53.4l-0.0 0.0M847.6 102.2l0.0 0.0M778.9 208.6l0.9 1.5M809.4 259.3l0.1 1.0M938.5 110.7l0.4 0.4M908.0 287.1l-0.5 0.2M753.9 303.6l-0.6 1.3M774.6 191.1l1.6 1.8M921.0 111.2l-1.4 2.0M845.9 202.3l-0.1 1.0M758.9 153.2l0.3 0.4M925.6 234.6l0.5 0.9M780.4 90.4l-0.4 2.4M751.1 56.3l0.0 1.0M777.7 165.9l-1.9 1.4M739.2 197.1l-1.7 0.6M885.0 230.8l0.6 2.3M891.4 52.0l1.0 0.2M740.6 177.8l0.0 0.0M961.3 182.1l0.5 0.2M920.5 137.3l-0.3 1.8M777.9 142.6l-2.3 0.5M894.2 179.8l1.2 0.7M878.0 71.3l0.0 0.0M854.5 130.7l0.4 0.3M872.4 74.8l0.9 1.1M726.3 159.5l1.3 0.4M951.9 206.4l0.3 1.8M898.5 163.4l-0.4 1.4M941.2 42.7l-0.0 1.8M890.9 316.9l-0.0 0.0M874.8 168.0l0.3 1.4M945.9 247.5l1.5 1.8M939.4 58.2l1.3 1.2M942.4 298.1l1.5 1.8M888.7 45.3l0.3 0.9M838.4 236.7l0.0 0.0M863.3 186.7l-2.3 0.7M809.0 235.7l0.0 0.0M811.7 253.6l-0.2 0.5M781.2 154.7l1.3 0.5M750.4 307.7l-1.2 0.7M979.4 176.0l0.3 0.4M862.4 260.2l1.7 1.7M789.9 84.0l-0.0 0.0M942.0 232.0l2.3 0.7M850.7 97.5l-0.0 0.0M956.7 99.1l-0.5 0.0M913.0 278.3l0.6 0.8M783.1 164.6l-1.3 0.4M830.5 149.4l-0.4 1.8M840.2 46.5l-0.3 0.4M945.2 290.4l1.1 0.8M898.4 60.0l0.0 0.0M955.3 288.4l-0.1 1.0M847.7 210.5l0.9 1.1M873.7 282.6l-1.0 0.2M738.1 137.8l-1.7 0.4M856.8 184.6l-0.6 2.3M886.4 306.7l0.0 0.0M901.2 193.0l1.1 2.2M739.0 284.8l0.4 0.3M811.1 195.5l0.5 0.2M784.3 231.9l0.0 0.0M945.9 257.4l1.0 1.0M764.9 141.7l0.0 0.0M750.1 50.5l1.6 1.8M994.6 266.5l-0.2 1.0M785.2 138.0l1.0 1.5M805.8 104.5l-1.9 1.4M948.6 75.6l0.0 0.0M949.7 195.8l0.5 1.3M794.7 101.2l0.5 0.9M965.2 112.3l-1.7 1.7M859.3 153.1l0.0 0.0M990.4 44.9l-0.0 0.0M759.2 105.9l0.0 0.0M985.4 95.9l-1.2 2.1M914.3 166.5l0.3 1.4M998.9 75.2l1.0 1.0M814.3 112.3l-0.3 0.4M903.7 100.6l-1.2 1.3M765.3 185.7l0.0 0.0M806.4 304.7l1.7 0.4M768.7 259.0l-0.0 0.0M913.7 192.8l0.0 0.0M734.3 99.5l-1.7 0.6M756.5 206.0l-0.9 2.2M807.8 213.0l2.1 1.1M907.7 215.9l-0.0 0.0M868.6 297.8l-1.0 1.5M732.5 110.9l-0.4 0.3M952.9 271.9l1.7 0.4M985.1 149.9l-2.3 0.7M794.6 211.0l-0.0 0.0M846.2 278.7l-0.5 1.7M741.2 290.1l1.7 0.5M853.4 202.4l-1.3 0.4M914.9 62.2l-0.3 0.9M855.5 249.3l-1.9 1.4M761.9 45.2l-0.8 1.1M950.5 267.9l-0.0 0.0M803.4 316.8l-1.2 2.1M744.3 216.4l0.8 1.1M833.9 235.5l-0.4 0.3M922.0 283.1l0.0 0.0M896.1 80.2l0.6 2.3M924.3 240.0l0.5 0.2M945.6 53.5l-0.0 0.0M755.9 168.9l0.1 1.4M734.9 279.0l-1.3 1.2M880.2 196.2l-0.5 0.2M834.8 53.5l0.8 1.6M788.0 68.3l-0.5 0.2M772.5 308.5l-0.6 1.3M758.1 315.2l-2.4 0.3M848.6 252.8l-1.2 0.7M729.9 217.2l-0.5 1.3M849.1 163.8l-0.4 0.3M738.7 311.5l-0.5 0.2M875.2 312.9l-0.1 1.4M980.7 181.1l-0.9 1.1M747.3 124.5l-1.1 0.9M953.2 123.5l0.6 2.3M997.8 221.8l1.9 1.4M983.4 315.0l0.0 0.5M835.9 242.3l0.3 1.0M766.2 48.1l-0.1 0.5M954.8 261.8l2.3 0.6M864.9 130.3l-0.3 0.4M871.2 54.5l0.7 0.7M913.0 153.2l-0.3 0.9M809.6 110.5l-1.8 0.4M830.4 204.5l0.0 0.0M838.1 130.2l1.8 0.2M884.8 117.8l-0.0 0.0M724.6 314.5l0.0 0.0M780.8 108.6l-1.0 0.3M842.2 311.3l-0.4 0.3M828.4 116.9l0.5 0.1M817.7 241.0l-0.5 0.1M874.8 93.9l1.0 1.0M996.2 147.8l0.5 1.3M790.4 133.9l-0.5 0.0M908.3 232.7l-0.7 2.3M894.3 122.1l1.0 1.5M766.0 278.9l0.0 0.0M758.0 211.6l0.7 0.7M761.9 121.2l-0.0 0.0M983.6 117.4l-1.1 0.9M794.1 301.0l-0.0 0.0M909.2 301.8l0.6 2.3M972.2 119.7l-0.0 0.0M974.7 82.7l0.5 0.1M936.9 255.0l-0.0 0.0M941.2 259.6l-0.8 2.2M815.5 66.1l0.8 1.6M753.6 186.9l1.4 0.2M887.9 204.1l0.4 0.2M968.5 202.2l0.3 0.4M901.3 143.3l0.5 1.3M899.1 290.9l-1.0 1.5M869.5 143.7l-0.8 1.1M733.2 309.1l0.4 0.3M843.4 138.2l-0.5 0.1M904.6 242.0l0.1 1.4M787.9 236.3l0.4 2.4M947.8 176.6l0.5 2.3M814.7 287.5l2.3 0.7M783.5 297.3l0.0 0.0M813.1 56.2l-1.1 0.8M891.6 92.6l0.5 2.3M753.5 161.4l0.0 0.0M741.5 237.7l0.0 0.0M796.6 94.6l1.5 1.1M798.5 289.0l-1.2 0.7M834.1 216.7l-0.0 0.0M756.1 196.8l0.7 0.7M770.7 58.0l0.2 1.0M926.6 117.1l-1.4 1.1M960.0 212.3l-1.4 2.0M992.8 94.2l-0.4 0.2M875.1 185.0l-1.5 1.8M895.1 144.0l-0.7 1.7M810.5 159.0l0.2 1.8M848.5 229.0l-2.1 1.1M978.2 210.2l-0.4 0.3M828.9 50.1l-0.0 0.0M773.2 260.2l-0.4 0.3M969.5 197.3l-1.3 2.0M900.5 122.8l0.7 2.3M944.5 91.5l0.4 2.4M950.8 83.7l2.3 0.8M925.0 125.9l-0.5 1.7M831.2 316.3l-0.0 0.0M925.9 224.2l-0.9 0.5M763.3 175.0l-2.2 0.8M973.3 42.8l-1.4 0.2M974.0 176.7l-0.0 0.0M856.7 309.4l-0.9 2.2M965.4 228.5l-1.4 1.9M795.1 261.1l0.2 2.4M854.6 177.4l-0.6 0.8M822.7 179.7l0.7 2.3M791.6 94.6l1.2 0.8M978.4 232.0l0.5 1.3M805.5 194.4l0.7 1.6M881.1 136.6l-0.0 0.0M835.3 172.8l1.2 0.6M797.1 236.0l0.0 0.0M746.8 234.5l0.7 0.7M783.0 306.5l2.1 1.1M825.5 265.7l0.3 0.4M826.0 109.1l1.8 0.4M747.5 101.2l1.4 0.0M922.6 86.9l-0.9 0.4M806.5 179.3l-0.1 2.4M801.4 86.4l0.0 0.0M929.9 243.1l-0.2 0.5M737.7 216.3l0.5 0.9M859.3 175.7l1.4 1.2M956.0 107.6l0.2 0.5M848.7 317.2l0.0 0.0M977.7 95.1l0.3 1.8M831.1 144.0l-0.1 0.5M794.1 106.9l-1.0 0.3M886.2 259.2l0.3 1.0M778.4 129.7l-0.5 0.0M786.4 45.6l2.1 1.1M983.6 238.0l-0.0 0.0M953.6 199.2l-0.0 0.0M989.4 144.3l-0.6 1.7M764.2 306.1l-1.7 0.5M921.0 310.9l0.4 1.8M987.5 78.9l-1.9 1.4M762.5 262.8l1.3 0.5M807.8 310.6l-0.8 0.6M729.6 77.2l-0.0 0.0M883.4 166.5l-2.2 0.8M949.8 294.3l1.1 1.4M759.1 51.8l1.2 0.8M926.5 186.8l0.0 0.0M739.3 117.1l0.9 0.4M906.8 73.6l2.4 0.4M739.7 203.1l0.0 0.0M919.1 130.5l0.7 1.6M950.4 237.3l-1.4 0.1M893.9 236.3l-1.8 0.0M832.3 275.8l-0.9 2.2M870.2 316.8l1.1 1.4M724.6 126.7l0.0 0.0M956.2 162.0l-1.1 0.8M867.9 284.2l-0.8 2.3M875.3 291.5l0.9 1.1M990.8 104.4l-0.0 0.0M894.9 248.7l2.4 0.2M833.6 48.8l0.5 0.2M801.7 212.1l2.4 0.5M945.7 97.8l-0.6 0.8M810.0 265.5l-0.3 2.4M819.5 111.8l0.4 0.9M915.9 114.5l-0.1 0.5M740.5 105.4l-0.0 0.0M863.5 88.1l0.3 1.4M751.9 241.1l-0.5 0.1M974.5 101.2l0.0 1.4M975.6 48.2l0.0 0.0M755.6 295.5l2.2 1.0M902.3 118.6l0.2 1.0M777.8 314.8l0.0 0.0M900.2 298.8l0.5 0.2M732.1 121.7l1.3 1.2M918.0 170.8l-1.0 2.2M839.3 247.1l-1.2 0.7M913.1 119.1l0.7 1.6M848.9 217.8l0.3 1.8M795.0 71.2l2.4 0.2M860.6 226.3l-2.3 0.7M987.3 183.5l-2.0 1.3M948.3 128.6l0.4 0.9M770.0 141.2l1.2 1.3M786.9 104.6l0.3 1.8M891.0 82.0l-0.9 1.1M784.6 258.7l2.4 0.4M797.7 207.2l0.0 0.0M855.2 149.8l1.8 0.1M734.3 288.4l-0.0 0.0M813.5 83.3l1.7 0.7M737.1 110.0l-2.4 0.0M752.0 314.6l0.0 0.0M921.9 166.5l1.6 0.7M806.0 163.6l-0.5 0.2M815.4 219.4l-1.1 2.2M957.4 130.8l1.0 0.3M726.8 247.8l0.0 0.0M944.5 285.0l-0.7 0.7M870.4 292.9l-0.0 0.0M996.1 228.6l-2.3 0.6M900.1 204.1l-0.2 0.5M880.8 146.3l1.4 1.1M977.0 288.9l0.9 1.1M893.9 243.7l-0.2 1.8M742.4 271.5l-1.7 0.5M911.3 210.4l-1.4 0.1M789.2 277.1l0.3 0.4M908.3 206.4l-0.2 0.5M767.0 264.1l0.0 0.0M892.5 269.6l-0.4 0.3M770.4 274.1l0.4 0.2M863.3 144.7l-1.6 0.9M760.5 220.0l0.1 1.0M769.4 114.9l-0.3 1.8M962.7 85.5l-1.8 0.3M897.3 232.9l1.5 0.9M934.5 234.3l-0.9 0.5M960.9 110.3l0.0 0.5M838.9 258.0l-0.4 1.4M956.6 141.2l-0.0 0.0M849.2 169.9l-0.8 1.6M903.7 149.5l1.4 0.3M910.7 103.4l2.3 0.6M866.4 207.6l1.5 1.0M926.2 229.5l0.0 0.0M941.2 124.3l0.0 0.0M861.3 198.7l2.4 0.2M799.4 220.3l1.0 1.5M986.7 162.4l-0.6 2.3M916.0 84.3l0.4 1.3M777.6 304.7l-0.0 0.0M899.5 67.1l-1.4 0.2M902.2 187.2l1.2 1.3M971.1 308.1l-1.4 1.1M980.7 220.6l-0.8 0.5M878.4 56.0l-0.1 1.0M878.5 43.2l1.2 2.1M876.4 158.3l0.4 0.3M884.1 67.5l0.0 0.0M726.6 80.7l1.4 0.2M742.0 226.7l-2.2 1.0M835.1 189.6l-0.4 1.3M752.1 289.3l-0.2 0.5M805.8 56.3l1.0 0.9M815.6 230.5l-2.1 1.2M813.0 212.5l-0.3 0.4M867.4 184.1l-0.9 0.4M956.3 167.0l1.4 1.9M849.6 113.7l0.1 0.5M989.2 68.6l1.6 0.8M913.8 259.8l1.0 0.2M780.7 193.2l-2.3 0.8M815.0 99.8l0.6 0.8M997.1 244.7l1.7 1.7M987.1 61.5l0.3 1.4M989.9 317.4l-0.9 1.6M820.3 312.2l-1.8 0.0M920.6 235.4l0.6 1.7M790.9 307.1l-0.9 0.3M826.5 274.8l-0.4 0.2M841.4 133.7l-0.9 0.4M749.4 252.3l-1.5 0.9M941.3 174.4l0.0 0.0M777.7 46.3l0.7 1.6M977.9 297.1l-2.3 0.7M784.3 149.0l0.0 0.0M940.2 307.2l-2.4 0.4M990.4 138.4l-0.4 1.3M756.0 95.6l-0.0 0.5M760.2 70.1l0.0 1.0M808.0 315.8l0.5 0.0M790.3 178.7l0.3 2.4M970.2 279.2l0.7 0.7M997.6 292.8l-0.0 0.0M777.2 267.7l1.7 0.6M743.7 277.5l-0.8 0.5M915.3 140.6l-1.4 0.1M807.2 170.5l-0.2 0.5M884.0 219.0l0.5 0.1M736.0 298.0l1.8 0.4M796.9 229.6l-0.6 0.8M911.8 200.7l-0.3 1.8M839.3 94.4l-0.4 0.3M915.5 56.7l-0.1 1.0M852.7 107.3l0.7 1.2M727.2 293.0l0.4 0.3M902.1 132.2l-0.3 0.4M849.5 83.4l-0.5 1.7M968.0 302.9l-2.2 0.8M924.8 133.9l-1.4 0.2M883.8 112.1l-0.5 0.1M790.7 141.6l-1.0 1.5M963.1 119.9l-0.0 0.0M995.9 130.4l0.1 0.5M981.0 78.3l-0.0 1.4M725.2 191.6l-0.0 0.0M854.5 196.5l0.4 0.2M770.5 153.1l-2.0 1.3M960.8 313.4l-0.8 1.2M851.9 258.8l0.5 0.9M860.1 210.7l1.4 1.1M855.0 52.6l-1.6 1.8M987.3 219.2l-0.8 0.6M920.2 242.2l-0.0 0.0M784.1 65.3l1.6 1.8M761.6 311.1l0.4 0.3M781.5 311.8l-1.2 1.3M827.2 241.7l-1.3 1.2M928.7 211.0l-1.3 0.5M909.5 78.4l-0.1 0.5M764.6 317.3l-0.3 2.4M813.1 170.7l1.0 0.2M905.6 158.5l0.3 0.4M798.2 123.2l-0.8 0.6M885.9 103.3l-1.1 2.2M902.1 72.0l-0.0 0.0M841.7 107.3l-1.0 0.3M756.5 60.8l-0.5 0.1M820.2 221.4l-0.2 1.0M877.9 247.8l-1.9 1.4M844.6 302.7l1.0 1.0M927.3 278.3l-0.9 0.4M973.6 154.5l-0.0 0.0M788.3 100.2l0.0 0.0M975.5 72.3l-1.0 0.3M840.9 142.3l-0.5 0.0M990.5 250.8l-0.3 0.4M752.8 213.1l1.5 1.1M731.0 225.9l-0.0 0.0M961.0 230.7l0.0 0.0M790.0 117.8l-2.3 0.7M976.4 141.3l-0.3 0.4M768.0 242.8l-1.8 0.4M893.8 110.4l0.8 1.2M946.1 198.7l1.0 0.1M794.8 50.7l-0.0 0.5M953.6 247.6l-2.1 1.1M918.3 96.6l0.8 0.6M976.4 258.0l-0.8 0.6M735.7 235.4l-0.1 0.5M739.4 170.0l0.5 0.2M883.7 82.2l-0.6 1.3M946.8 133.4l-0.9 0.3M950.4 253.6l-2.2 1.0M908.0 193.5l0.5 0.1M853.4 154.3l-2.2 1.0M948.4 184.7l1.9 1.4M818.4 199.5l1.0 0.2M731.8 164.7l-0.8 0.6M909.2 259.4l-0.0 0.0M949.8 56.4l1.0 0.1M771.2 172.8l-0.1 1.0M820.1 185.8l-0.0 0.0M764.1 207.9l1.3 0.6M936.8 275.7l-1.0 0.3M936.3 184.3l-0.0 0.0M970.7 263.1l-2.2 1.1M732.0 293.7l-0.5 2.4M984.2 242.6l-0.9 1.5M750.4 155.1l-1.1 0.8M753.6 102.1l-0.0 0.0M731.9 151.8l0.0 0.5M983.2 140.0l-0.0 0.0M732.4 141.0l0.0 0.5M846.0 69.8l-1.4 1.1M759.6 98.9l0.6 2.3M965.8 177.4l0.0 0.0M738.0 43.5l0.2 1.4M781.7 126.2l0.0 0.5M727.3 139.4l-0.5 2.3M733.1 258.1l1.5 1.0M873.7 308.2l2.2 1.1M991.1 285.0l2.2 1.0M956.9 268.8l-1.0 0.0M869.3 90.5l-1.3 1.3M929.4 69.8l1.8 0.4M826.2 234.2l-1.8 0.4M916.5 125.5l-0.0 0.0M907.7 89.6l-0.3 0.4M969.7 46.1l0.5 0.1M853.4 306.0l-0.0 0.0M933.6 317.1l-0.1 0.5M725.1 197.8l0.8 0.7M928.0 292.4l0.0 0.0M792.7 65.0l0.0 0.0M737.1 267.5l-0.7 1.7M873.5 208.0l0.0 0.0M737.3 304.4l0.0 0.0M974.7 229.2l0.4 0.9M752.9 202.3l-1.3 2.0M851.2 159.2l0.9 1.0M853.2 265.9l1.0 1.0M925.2 245.8l0.0 0.0M786.0 193.7l-1.6 1.8M848.2 134.9l-0.4 0.9M754.1 191.6l0.5 0.9M896.8 185.5l-1.3 0.5M856.9 191.1l-0.5 0.0M903.9 113.3l1.0 2.2M826.6 123.6l-2.1 1.2M870.7 116.2l-0.1 1.0M948.0 304.1l-0.2 1.0M809.6 93.3l-0.6 2.3M883.0 45.8l-0.0 0.0M985.3 273.6l0.2 1.0M766.1 285.9l0.9 0.5M726.3 153.7l0.0 0.0M834.0 293.2l1.8 1.5M935.4 281.5l-1.2 0.8M907.7 297.0l-0.7 1.2M866.1 202.4l-0.4 0.3M969.0 61.5l-1.0 2.2M950.7 47.0l-1.4 0.2M916.7 272.1l0.5 0.9M835.6 204.8l-0.0 0.0M846.4 295.1l0.8 0.6M814.9 311.6l-0.1 2.4M800.2 155.5l-1.3 0.5M858.8 55.5l-0.0 0.0M880.8 266.5l-0.0 0.0M968.6 233.7l-0.1 0.5M966.1 258.9l-1.4 1.1M799.1 150.2l-1.6 1.8M965.0 90.1l0.9 0.3M920.7 61.9l1.5 1.9M896.2 224.4l-0.0 0.0M912.4 159.4l-0.2 1.8M925.0 139.7l0.6 0.8M983.1 109.3l-0.0 0.0M760.7 136.6l-1.3 0.6M866.6 96.4l1.5 1.9M944.5 86.2l-0.0 0.0M996.5 278.3l2.2 0.8M913.6 145.4l-0.2 0.4M739.4 63.1l-0.6 2.3M971.2 74.4l-1.4 1.1M865.9 137.6l1.2 0.7M830.4 43.2l2.4 0.3M935.0 243.9l0.8 0.5M976.5 136.4l-0.5 0.1M725.3 284.0l0.5 0.2M763.3 192.4l-1.0 2.2M862.0 312.4l-0.7 0.7M964.7 171.9l0.3 0.4M988.8 306.6l0.3 1.0M897.8 114.4l1.9 1.5M778.2 217.9l-1.3 1.3M799.1 253.8l-0.9 1.5M992.8 72.4l0.6 0.8M875.2 62.6l0.3 0.4M934.6 225.3l-0.9 0.3M892.5 66.5l-2.0 1.3M850.5 233.7l0.1 0.5M929.3 98.1l1.1 0.9M978.7 280.8l-2.2 1.0M959.8 251.6l1.8 0.4M837.3 112.3l0.2 1.4M970.5 87.6l-0.5 0.2M783.5 199.0l-1.1 0.9M790.8 216.2l0.2 0.4M771.4 129.2l1.4 1.9M820.1 262.3l-1.0 0.3M771.3 298.8l-0.5 0.1M775.7 116.7l-0.4 0.3M944.0 253.0l-0.0 0.0M839.6 214.8l-0.6 1.7M785.5 169.8l-0.3 0.4M869.3 276.6l-1.0 0.0M747.8 275.3l-2.3 0.7M794.2 292.9l1.5 1.9M788.4 155.2l-0.0 0.0M815.6 126.6l-0.7 0.7M945.9 69.9l0.6 1.3M987.5 110.9l-1.4 1.1M838.0 166.2l0.5 0.0M838.2 78.5l1.9 1.4M754.6 143.7l-1.5 1.0M868.3 156.2l1.0 0.0M758.3 174.8l-0.4 0.2M775.4 291.8l-0.6 0.8M975.5 184.3l-0.0 0.0M975.6 109.9l-0.5 0.9M981.0 206.5l-0.9 0.3M998.3 249.5l0.1 0.5M823.9 270.4l0.0 0.0M992.5 262.3l-1.1 1.5M767.2 72.4l0.0 0.0M919.8 146.8l-1.8 1.6M898.4 45.1l-2.4 0.4M845.4 185.3l-1.4 1.1M738.8 317.1l1.4 1.2M829.9 97.0l0.3 0.4M877.0 132.5l2.3 0.5M960.3 144.3l0.1 0.5M891.3 139.5l-0.5 0.8M824.3 297.1l-0.9 1.1M848.2 266.2l-1.4 1.1M915.9 286.5l-0.0 0.0M975.9 201.3l0.4 0.3M942.2 155.8l0.9 1.5M743.6 49.0l-0.0 0.0M870.8 160.9l0.1 1.0M853.6 92.2l-0.0 0.0M995.5 317.1l-0.3 0.4M794.5 255.0l-0.2 0.5M801.8 126.6l-0.4 2.4M750.1 259.4l-0.2 1.4M948.6 262.3l-2.1 1.1M980.7 192.1l-0.1 1.0M962.6 268.4l0.0 1.0M922.3 56.3l-1.4 0.1M899.3 173.8l-0.8 2.3M759.8 201.1l-1.3 1.3M932.8 298.3l0.3 0.4M765.9 104.5l0.4 0.3M835.6 180.7l-2.3 0.7M731.3 129.4l1.2 0.7M781.7 133.8l-1.0 1.5"/><path stroke-width="3.5" d="M933.5 111.6l-1.7 0.4M893.1 102.1l0.3 1.4M726.6 98.5l0.0 0.0M977.7 86.7l-0.0 0.0M949.9 64.8l-0.7 0.7M915.6 296.1l0.5 0.1M760.5 280.1l0.2 0.5M889.4 248.0l0.3 1.4M943.9 275.2l1.8 0.4M834.3 156.4l-1.0 0.9M809.9 282.9l-1.2 2.1M931.2 64.5l0.1 0.5M980.2 113.1l0.1 1.0M809.9 227.4l-1.1 0.9M884.8 156.3l-0.5 1.3M839.4 264.0l1.3 0.5M800.3 142.9l-1.5 1.0M878.2 235.5l0.0 0.0M964.9 64.5l2.1 1.1M744.4 139.8l-1.0 0.1M948.3 210.3l-0.0 0.0M787.2 186.6l-1.4 0.1M773.9 125.1l0.6 0.8M993.1 62.9l-0.0 0.0M927.5 110.8l0.0 0.0M903.7 227.4l0.4 0.3M863.2 281.9l0.9 0.5M826.2 159.0l-0.0 0.0M799.6 109.5l0.2 0.4M890.9 189.5l0.1 0.5M998.4 65.9l0.6 1.3M730.0 197.4l-0.4 0.3M729.9 262.3l0.0 0.0M968.8 206.9l-0.1 1.0M919.2 90.1l1.1 0.8M736.3 220.9l-0.9 2.2M981.1 154.7l-0.4 0.3M861.1 240.0l0.8 2.3M891.9 254.3l0.2 0.4M820.4 287.5l-1.4 0.2M815.2 268.9l2.3 0.6M838.6 228.6l0.5 0.9M988.0 125.9l-1.4 1.9M992.8 235.6l-1.4 1.1M792.5 314.3l1.4 0.2M903.9 315.4l0.3 0.4M844.0 118.7l2.2 1.0M730.8 59.5l0.1 0.5M913.1 129.6l-0.1 0.5M867.1 239.1l0.0 0.5M943.7 267.5l0.4 1.8M745.8 292.7l1.2 1.3M761.0 85.0l-1.5 0.9M782.2 119.0l-0.1 0.5M728.4 300.1l0.0 0.5M882.1 92.5l-0.9 1.5M809.5 147.8l-1.1 1.4M804.9 97.3l-0.0 0.0M885.8 289.2l0.5 0.1M763.5 170.1l-2.1 1.2M916.1 203.3l-0.0 0.0M811.2 130.8l-0.6 2.3M959.0 245.5l1.7 0.6M862.0 166.8l0.5 0.0M745.9 223.0l0.0 0.0M999.3 175.9l1.7 0.4M843.0 113.7l-0.5 0.1M807.1 126.3l1.6 0.7M772.9 69.0l-0.0 0.0M724.5 61.0l0.3 1.4M908.7 141.1l0.1 1.0M755.2 150.4l-0.9 0.5M965.8 289.2l0.1 0.5M958.3 150.2l0.9 1.1M905.1 236.8l-1.0 0.1M750.8 138.8l0.0 0.0M790.1 150.7l-1.1 0.9M902.9 92.9l0.5 0.1M751.1 108.8l-0.0 0.0M744.8 265.1l-1.2 0.7M754.9 128.4l0.8 0.6M999.3 116.3l-0.9 1.6M913.7 226.6l0.0 0.0M756.3 258.0l-1.2 0.8M899.3 308.4l0.3 1.8M969.6 250.6l1.1 0.9M725.5 305.3l1.2 0.7M773.6 186.4l-0.4 0.3M969.3 285.2l0.0 1.0M764.5 270.2l-1.5 1.0M942.8 194.3l0.0 0.0M870.8 268.7l-1.5 0.9M865.0 106.9l-0.5 0.8M985.4 168.7l-1.3 0.6M847.3 312.6l0.3 1.0M741.9 71.5l-1.2 2.1M846.9 272.6l0.0 0.0M815.0 140.9l1.0 0.3M973.1 91.5l0.1 0.5M855.1 234.1l-2.4 0.4M907.4 58.0l-0.2 0.4M802.7 119.7l-0.0 0.0M868.2 254.0l0.0 0.0M844.6 190.5l1.0 0.3M954.5 180.1l2.4 0.0M978.6 263.2l-0.8 1.1M876.7 89.5l-1.3 1.2M735.9 200.5l0.0 0.0M836.9 251.6l1.0 0.9M907.3 308.3l-1.6 1.8M998.5 143.3l-0.2 1.0M818.5 150.4l0.0 1.8M761.3 253.3l0.1 0.5M750.5 219.8l-0.2 1.4M886.7 55.0l1.0 0.1M822.5 279.4l-0.5 0.2M839.0 84.3l0.7 1.2M992.7 153.5l-0.1 1.4M737.7 247.1l-0.0 0.0M909.1 183.1l-0.0 0.0M881.0 189.0l-0.7 1.6M880.1 106.0l-0.0 1.0M830.9 212.4l-1.0 0.2M956.7 296.6l-0.0 0.0M996.7 167.0l-0.5 0.1M975.1 77.7l0.2 1.8M920.7 216.4l1.4 1.1M998.9 204.1l-0.0 0.0M852.7 140.1l-1.7 1.7M842.6 80.9l1.4 0.1M993.1 312.1l-0.4 0.3M904.0 293.9l-0.0 0.0M983.7 66.8l0.0 0.0M969.5 69.1l0.7 2.3M893.1 97.1l-1.8 0.0M868.8 85.7l-1.4 1.9M775.5 136.1l-0.2 1.0M928.7 164.4l1.5 1.0M996.5 199.1l-0.0 0.0M794.8 59.7l0.0 0.5M948.7 143.6l-0.2 0.4M977.4 245.2l-1.0 2.2M803.7 146.8l1.0 0.1M981.4 268.6l0.5 0.1M749.2 88.1l-0.1 1.0M927.6 264.3l-0.1 0.5M810.4 102.7l0.5 1.3M813.2 136.7l-0.4 0.9M875.1 127.1l2.4 0.1M886.5 211.7l-0.3 2.4M799.7 136.5l1.1 1.4M923.5 177.7l0.5 0.9M798.1 312.6l-1.8 0.1M799.7 48.2l2.1 1.2M937.9 104.9l0.0 0.0M945.6 117.4l0.4 0.3M910.9 170.5l0.0 0.5M725.4 214.1l1.7 0.7M764.1 237.5l0.0 0.5M855.9 215.5l0.3 1.8M833.4 124.0l-1.4 0.3M831.5 254.8l-0.6 1.2M936.1 260.8l0.0 0.0M970.6 133.3l-0.5 0.9M795.2 79.8l-0.5 0.0M819.4 84.6l-0.3 0.4M730.2 85.3l0.5 0.0M876.0 172.6l0.2 0.4M856.4 112.8l-0.4 0.3M889.0 224.8l-0.7 1.7M841.9 209.9l0.5 0.2M981.6 255.5l-0.4 0.9M999.1 297.8l-1.5 1.8M878.6 270.8l0.6 1.3M974.0 207.7l1.4 1.9M752.4 248.6l1.6 0.8M931.2 79.9l0.5 1.7M893.8 194.3l-1.0 0.1M821.8 120.8l-0.5 0.2M995.9 55.9l1.9 1.4M771.1 42.9l-1.2 0.7M977.6 119.8l-0.0 0.0M838.1 221.9l1.2 0.7M867.4 221.2l-1.6 0.8M733.0 64.8l0.6 0.8M918.7 260.5l0.5 1.3M796.3 224.4l0.8 1.2M826.8 145.9l2.3 0.7M939.0 235.7l0.5 0.1M898.9 197.7l-0.9 2.2M903.5 274.5l1.1 2.2M981.9 197.3l-0.9 0.5M782.7 220.2l0.6 1.3M771.1 212.4l-0.0 0.5M982.1 92.8l0.5 1.7M725.4 73.2l0.5 0.0M924.7 255.6l-1.6 1.8M961.5 296.7l2.3 0.8M939.4 211.7l-0.5 0.1M727.5 179.7l-2.4 0.5M777.4 213.1l0.0 0.0M925.5 144.9l0.0 0.0M743.9 134.3l-1.6 0.7M834.4 288.5l-0.9 1.1M974.1 217.8l0.9 1.1M899.8 104.2l0.7 1.2M959.8 93.2l-0.3 0.4M944.9 239.7l1.7 0.7M905.6 280.2l0.7 0.7M860.9 254.9l-0.2 2.4M859.3 50.6l-0.5 0.1M863.6 274.6l1.3 1.2M727.6 309.5l0.1 0.5M992.2 121.2l-1.7 0.4M830.8 160.2l1.4 0.0M926.5 80.3l-0.1 2.4M831.8 199.2l-0.2 0.5M737.4 161.0l1.0 1.0M981.8 146.1l1.6 0.8M862.0 121.8l0.7 0.7M895.4 55.3l-1.0 1.0M783.8 49.6l0.0 0.0M803.7 112.3l-0.2 1.8M991.6 49.6l-0.3 2.4M965.3 223.9l-1.3 0.4M861.6 244.8l-0.1 1.0M922.7 316.5l0.8 0.5M737.1 273.0l-0.4 0.3M948.2 110.3l0.0 0.0M750.8 61.8l-0.3 0.4M765.2 180.8l0.1 0.5M915.8 219.8l0.8 1.6M820.6 192.7l0.1 1.0M835.0 107.6l-1.2 0.7M825.7 301.7l0.2 0.4M730.6 192.4l-0.6 0.8M734.8 156.2l-0.0 0.0M772.7 255.2l-0.4 0.2M944.2 60.5l-0.3 0.4M804.1 234.9l0.5 0.9M862.7 191.6l0.0 1.0M821.3 131.2l1.3 2.0M883.1 236.0l-1.5 1.0M821.0 253.7l0.3 2.4M876.0 101.4l0.4 1.8M802.1 167.8l0.0 0.0M817.7 172.9l0.0 0.0M751.8 46.2l-0.4 1.3M788.9 230.8l-0.2 0.5M854.9 255.2l0.5 0.2M868.3 64.6l0.2 0.5M974.4 123.9l-0.8 1.2M780.3 97.0l-1.4 0.2M924.3 97.9l-1.4 2.0M803.8 80.0l-1.0 0.2M938.1 115.4l1.1 0.8M885.0 192.9l-1.3 1.3M793.6 280.1l-2.1 1.2M786.4 283.1l0.4 1.3M874.2 265.5l-1.6 0.8M960.4 291.6l-0.0 0.5"/></g>
<rect x="724.0" y="41.9" width="275.8" height="275.5" fill="none" stroke="#99a0c8" stroke-width="4.8" stroke-linejoin="round"/>
<rect x="836.5" y="265.9" width="154.8" height="9.8" fill="#fff"/>
<text class="dj" x="913.4000000000001" y="305.3" font-size="32.6" fill="#fff" text-anchor="middle">1 mm</text>
<text class="lb" x="718.6" y="34.3">c</text>
<rect x="66.1" y="355.0" width="930.4" height="185.29999999999995" fill="#000080"/>
<rect x="66.1" y="544.5" width="930.4" height="185.20000000000005" fill="#000080"/>
<rect x="66.1" y="733.9" width="930.4" height="185.5" fill="#000080"/>
<path d="M730.9 355L759.6 524.7" stroke="#0c28b8" stroke-width="4.5" opacity="0.22" fill="none"/>
<path d="M341 735L359.9 777.9L377.4 817.8L387.3 857.8L393.6 915" stroke="#1434d8" stroke-width="9" opacity="0.11" fill="none" stroke-linejoin="round"/>
<path d="M426 745L442.2 795.4L452.2 832.8L459.7 870.2L463.4 915" stroke="#1434d8" stroke-width="14" opacity="0.06" fill="none" stroke-linejoin="round"/>
<path d="M631 735L644.8 782.9L654.8 832.8L661 870.2L663.5 915" stroke="#1434d8" stroke-width="9" opacity="0.11" fill="none" stroke-linejoin="round"/>
<path d="M753.5 735L764.6 782.9L772 832.8L778.3 872.7L783.3 915" stroke="#1434d8" stroke-width="15" opacity="0.14" fill="none" stroke-linejoin="round"/>
<rect x="755.8" y="812" width="1" height="30" fill="#19ffe5" opacity="0.6"/>
<rect x="762" y="885" width="1" height="21" fill="#ffb200" opacity="0.6"/>
<rect x="721" y="884" width="1" height="14" fill="#19ffe5" opacity="0.6"/>
<rect x="66.1" y="733.9" width="930.4" height="185.5" filter="url(#nf)" opacity="0.35"/>
<path fill="#00e5ff" d="M168.6 416.4h0.9v1.4h-0.9zM366.5 417.8h0.9v1.4h-0.9zM366.8 421.3h0.9v1.4h-0.9zM362.2 408.0h0.9v1.4h-0.9zM361.8 403.9h0.9v1.4h-0.9zM363.0 419.2h0.9v1.4h-0.9zM385.7 425.0h0.9v1.4h-0.9zM390.5 423.8h0.9v1.4h-0.9zM380.7 423.3h0.9v1.4h-0.9zM375.2 408.8h0.9v1.4h-0.9zM381.0 416.3h0.9v1.4h-0.9zM391.5 420.5h0.9v1.4h-0.9zM384.6 434.4h0.9v1.4h-0.9zM386.4 422.1h0.9v1.4h-0.9zM383.3 422.7h0.9v1.4h-0.9zM377.8 419.3h0.9v1.4h-0.9zM370.5 409.1h0.9v1.4h-0.9zM386.6 434.3h0.9v1.4h-0.9zM387.4 425.4h0.9v1.4h-0.9zM375.5 415.2h0.9v1.4h-0.9zM373.3 415.9h0.9v1.4h-0.9zM372.1 401.1h0.9v1.4h-0.9zM377.9 424.8h0.9v1.4h-0.9zM499.8 417.8h0.9v1.4h-0.9zM505.2 430.4h0.9v1.4h-0.9zM509.0 416.0h0.9v1.4h-0.9zM500.1 410.7h0.9v1.4h-0.9zM496.5 414.5h0.9v1.4h-0.9zM501.8 420.5h0.9v1.4h-0.9zM504.9 413.8h0.9v1.4h-0.9zM508.5 432.4h0.9v1.4h-0.9zM492.3 398.4h0.9v1.4h-0.9zM504.3 414.3h0.9v1.4h-0.9zM509.1 422.6h0.9v1.4h-0.9zM508.4 425.9h0.9v1.4h-0.9zM502.3 426.2h0.9v1.4h-0.9zM499.1 422.4h0.9v1.4h-0.9zM500.3 411.3h0.9v1.4h-0.9zM496.3 417.1h0.9v1.4h-0.9zM511.0 421.3h0.9v1.4h-0.9zM557.2 413.9h0.9v1.4h-0.9zM565.4 417.1h0.9v1.4h-0.9zM563.5 412.8h0.9v1.4h-0.9zM563.2 420.1h0.9v1.4h-0.9zM557.4 412.5h0.9v1.4h-0.9zM557.4 413.8h0.9v1.4h-0.9zM781.5 413.9h0.9v1.4h-0.9zM784.5 407.5h0.9v1.4h-0.9zM780.7 403.4h0.9v1.4h-0.9zM778.1 404.2h0.9v1.4h-0.9zM782.9 418.2h0.9v1.4h-0.9zM781.6 403.2h0.9v1.4h-0.9zM779.3 422.4h0.9v1.4h-0.9zM895.1 429.2h0.9v1.4h-0.9zM895.9 416.9h0.9v1.4h-0.9zM895.4 418.2h0.9v1.4h-0.9zM886.0 407.2h0.9v1.4h-0.9zM895.7 429.1h0.9v1.4h-0.9zM891.1 412.1h0.9v1.4h-0.9zM896.9 424.4h0.9v1.4h-0.9zM890.5 417.6h0.9v1.4h-0.9zM885.8 422.3h0.9v1.4h-0.9zM887.5 413.7h0.9v1.4h-0.9zM887.4 424.8h0.9v1.4h-0.9zM945.3 413.2h0.9v1.4h-0.9zM943.6 414.0h0.9v1.4h-0.9zM682.2 522.2h0.9v1.4h-0.9zM678.0 536.4h0.9v1.4h-0.9zM679.1 528.1h0.9v1.4h-0.9zM824.6 528.2h0.9v1.4h-0.9zM825.1 510.5h0.9v1.4h-0.9zM828.3 532.0h0.9v1.4h-0.9zM826.0 517.4h0.9v1.4h-0.9zM770.0 532.5h0.9v1.1h-0.9zM864.3 710.7h1.0v2.6h-1.0zM548.2 581.9h0.9v1.1h-0.9zM385.7 856.5h0.9v1.5h-0.9zM383.8 840.2h0.9v1.5h-0.9zM392.0 909.0h0.9v1.9h-0.9zM344.6 749.1h0.9v1.5h-0.9zM392.1 863.5h0.9v1.0h-0.9zM384.7 860.0h0.9v1.1h-0.9zM359.8 785.7h0.9v1.5h-0.9zM358.9 792.5h0.9v1.9h-0.9zM380.9 833.9h0.9v1.3h-0.9zM448.2 828.8h0.9v1.3h-0.9zM459.6 867.2h0.9v1.5h-0.9zM465.0 873.0h0.9v1.1h-0.9zM446.2 828.4h0.9v1.0h-0.9zM653.2 831.9h0.9v2.1h-0.9zM633.6 750.2h0.9v1.4h-0.9zM661.6 905.2h0.9v1.3h-0.9zM654.4 796.6h0.9v1.3h-0.9zM637.8 762.3h0.9v1.0h-0.9zM658.4 832.3h0.9v1.3h-0.9zM764.3 829.5h0.9v1.8h-0.9zM775.2 845.5h0.9v1.1h-0.9zM766.5 795.2h0.9v1.2h-0.9zM777.3 865.9h0.9v1.6h-0.9zM778.5 856.1h0.9v1.1h-0.9zM767.9 799.3h0.9v1.3h-0.9zM769.5 785.1h0.9v1.2h-0.9zM754.6 754.8h0.9v2.1h-0.9zM772.2 800.5h0.9v1.6h-0.9zM780.1 845.2h0.9v2.2h-0.9zM781.6 889.0h0.9v1.3h-0.9zM780.4 901.0h0.9v1.2h-0.9zM758.8 799.4h0.9v1.7h-0.9zM772.0 855.7h0.9v1.2h-0.9zM762.8 774.2h0.9v1.9h-0.9zM784.7 902.0h0.9v1.1h-0.9zM824.9 824.0h1.0v2.1h-1.0zM839.2 819.0h1.0v2.2h-1.0zM585.2 888.3h1.0v4.6h-1.0zM742.6 837.2h1.0v1.0h-1.0zM749.9 882.0h1.0v1.5h-1.0zM741.3 848.9h1.0v4.2h-1.0zM734.8 785.6h1.0v2.7h-1.0zM741.9 849.2h1.0v2.0h-1.0zM732.0 753.7h1.0v3.5h-1.0zM745.3 886.4h1.0v3.4h-1.0zM725.7 759.6h1.0v4.3h-1.0zM735.9 808.0h1.0v4.0h-1.0zM743.5 847.0h1.0v1.7h-1.0zM741.1 892.3h1.0v4.0h-1.0zM744.4 860.0h1.0v1.1h-1.0z"/>
<path fill="#0000ff" d="M171.2 420.2h0.9v1.4h-0.9zM357.2 414.9h0.9v1.4h-0.9zM368.0 420.3h0.9v1.4h-0.9zM360.4 403.8h0.9v1.4h-0.9zM372.1 414.6h0.9v1.4h-0.9zM398.6 420.0h0.9v1.4h-0.9zM380.6 431.6h0.9v1.4h-0.9zM389.8 445.7h0.9v1.4h-0.9zM367.6 418.4h0.9v1.4h-0.9zM375.5 397.4h0.9v1.4h-0.9zM364.8 389.3h0.9v1.4h-0.9zM370.6 398.4h0.9v1.4h-0.9zM367.4 407.2h0.9v1.4h-0.9zM380.0 395.8h0.9v1.4h-0.9zM393.3 419.2h0.9v1.4h-0.9zM397.2 436.5h0.9v1.4h-0.9zM506.5 436.6h0.9v1.4h-0.9zM513.3 428.4h0.9v1.4h-0.9zM515.0 420.2h0.9v1.4h-0.9zM504.2 435.0h0.9v1.4h-0.9zM512.0 445.8h0.9v1.4h-0.9zM509.0 446.0h0.9v1.4h-0.9zM514.8 430.2h0.9v1.4h-0.9zM493.8 398.6h0.9v1.4h-0.9zM513.6 431.9h0.9v1.4h-0.9zM490.8 405.7h0.9v1.4h-0.9zM503.1 400.7h0.9v1.4h-0.9zM506.4 435.9h0.9v1.4h-0.9zM492.5 389.7h0.9v1.4h-0.9zM513.1 430.5h0.9v1.4h-0.9zM489.6 401.8h0.9v1.4h-0.9zM559.8 423.1h0.9v1.4h-0.9zM553.4 403.4h0.9v1.4h-0.9zM563.0 403.1h0.9v1.4h-0.9zM557.9 399.4h0.9v1.4h-0.9zM562.0 398.0h0.9v1.4h-0.9zM566.1 430.5h0.9v1.4h-0.9zM559.9 398.9h0.9v1.4h-0.9zM567.3 414.7h0.9v1.4h-0.9zM656.4 402.6h0.9v1.4h-0.9zM657.6 403.6h0.9v1.4h-0.9zM657.9 418.8h0.9v1.4h-0.9zM654.4 405.2h0.9v1.4h-0.9zM662.4 415.6h0.9v1.4h-0.9zM653.6 411.2h0.9v1.4h-0.9zM655.0 407.0h0.9v1.4h-0.9zM659.7 418.4h0.9v1.4h-0.9zM773.8 410.2h0.9v1.4h-0.9zM785.2 431.4h0.9v1.4h-0.9zM787.9 407.3h0.9v1.4h-0.9zM789.0 404.6h0.9v1.4h-0.9zM788.4 429.9h0.9v1.4h-0.9zM781.7 399.1h0.9v1.4h-0.9zM788.2 404.7h0.9v1.4h-0.9zM776.8 424.7h0.9v1.4h-0.9zM783.6 424.7h0.9v1.4h-0.9zM771.0 411.2h0.9v1.4h-0.9zM773.3 422.3h0.9v1.4h-0.9zM785.1 399.8h0.9v1.4h-0.9zM775.7 425.0h0.9v1.4h-0.9zM900.1 416.3h0.9v1.4h-0.9zM895.9 437.7h0.9v1.4h-0.9zM890.8 400.3h0.9v1.4h-0.9zM893.5 398.3h0.9v1.4h-0.9zM897.5 432.5h0.9v1.4h-0.9zM885.6 402.6h0.9v1.4h-0.9zM881.0 414.0h0.9v1.4h-0.9zM880.5 409.3h0.9v1.4h-0.9zM882.5 409.0h0.9v1.4h-0.9zM883.2 401.7h0.9v1.4h-0.9zM881.4 417.1h0.9v1.4h-0.9zM895.7 411.0h0.9v1.4h-0.9zM884.1 396.8h0.9v1.4h-0.9zM886.1 401.1h0.9v1.4h-0.9zM881.8 399.4h0.9v1.4h-0.9zM882.9 394.1h0.9v1.4h-0.9zM894.0 404.7h0.9v1.4h-0.9zM946.7 421.4h0.9v1.4h-0.9zM944.7 422.5h0.9v1.4h-0.9zM940.2 408.7h0.9v1.4h-0.9zM680.9 513.4h0.9v1.4h-0.9zM674.5 531.8h0.9v1.4h-0.9zM682.6 530.2h0.9v1.4h-0.9zM683.4 527.6h0.9v1.4h-0.9zM681.2 512.8h0.9v1.4h-0.9zM674.0 537.3h0.9v1.4h-0.9zM831.1 521.6h0.9v1.4h-0.9zM833.2 534.1h0.9v1.4h-0.9zM820.0 516.9h0.9v1.4h-0.9zM821.0 520.1h0.9v1.4h-0.9zM829.0 536.8h0.9v1.4h-0.9zM834.6 530.9h0.9v1.4h-0.9zM821.8 518.3h0.9v1.4h-0.9zM822.8 517.8h0.9v1.4h-0.9zM319.7 520.2h0.9v1.2h-0.9zM291.1 407.6h0.9v1.2h-0.9zM314.2 484.7h0.9v1.2h-0.9zM291.6 404.4h0.9v1.2h-0.9zM317.0 464.6h0.9v1.2h-0.9zM261.2 361.4h0.9v1.2h-0.9zM790.6 468.9h0.9v1.1h-0.9zM370.9 493.2h0.9v1.1h-0.9zM932.5 498.6h0.9v1.1h-0.9zM542.6 429.9h0.9v1.1h-0.9zM108.9 361.6h0.9v1.1h-0.9zM757.1 399.8h0.9v1.1h-0.9zM243.4 473.8h0.9v1.1h-0.9zM399.2 389.7h0.9v1.1h-0.9zM165.1 387.6h0.9v1.1h-0.9zM738.5 449.7h0.9v1.1h-0.9zM823.4 472.4h0.9v1.1h-0.9zM944.7 508.2h0.9v1.1h-0.9zM191.6 494.0h0.9v1.1h-0.9zM594.8 401.8h0.9v1.1h-0.9zM855.8 403.6h0.9v1.1h-0.9zM460.8 367.1h0.9v1.1h-0.9zM772.8 476.6h0.9v1.1h-0.9zM270.6 487.8h0.9v1.1h-0.9zM281.0 396.8h0.9v1.1h-0.9zM904.3 503.1h0.9v1.1h-0.9zM536.8 531.5h0.9v1.1h-0.9zM68.7 477.5h0.9v1.1h-0.9zM565.7 454.9h0.9v1.1h-0.9zM867.3 360.6h0.9v1.1h-0.9zM377.0 509.6h0.9v1.1h-0.9zM610.4 392.8h0.9v1.1h-0.9zM549.5 449.9h0.9v1.1h-0.9zM215.2 390.8h0.9v1.1h-0.9zM900.0 362.5h0.9v1.1h-0.9zM395.1 445.5h0.9v1.1h-0.9zM566.1 430.9h0.9v1.1h-0.9zM309.8 419.7h0.9v1.1h-0.9zM829.7 434.4h0.9v1.1h-0.9zM926.7 512.5h0.9v1.1h-0.9zM745.8 417.7h0.9v1.1h-0.9zM170.7 408.1h0.9v1.1h-0.9zM921.2 410.9h0.9v1.1h-0.9zM472.9 443.7h0.9v1.1h-0.9zM614.9 400.7h0.9v1.1h-0.9zM991.1 505.6h0.9v1.1h-0.9zM379.8 375.4h0.9v1.1h-0.9zM964.8 526.3h0.9v1.1h-0.9zM189.8 480.1h0.9v1.1h-0.9zM714.8 447.4h0.9v1.1h-0.9zM375.4 483.6h0.9v1.1h-0.9zM428.1 530.3h0.9v1.1h-0.9zM446.6 521.2h0.9v1.1h-0.9zM671.4 398.7h0.9v1.1h-0.9zM752.7 364.7h0.9v1.1h-0.9zM112.6 501.8h0.9v1.1h-0.9zM723.8 481.4h0.9v1.1h-0.9zM969.9 416.2h0.9v1.1h-0.9zM303.5 408.9h0.9v1.1h-0.9zM698.4 707.0h1.0v2.4h-1.0zM697.4 711.4h1.0v2.4h-1.0zM698.3 707.7h1.0v2.4h-1.0zM801.2 709.9h1.0v2.4h-1.0zM857.9 718.1h1.0v2.6h-1.0zM859.7 714.2h1.0v2.6h-1.0zM864.7 720.3h1.0v2.6h-1.0zM561.6 667.2h0.9v1.1h-0.9zM760.6 705.8h0.9v1.1h-0.9zM443.5 661.1h0.9v1.1h-0.9zM466.7 600.8h0.9v1.1h-0.9zM220.2 567.6h0.9v1.1h-0.9zM803.4 585.0h0.9v1.1h-0.9zM497.4 569.9h0.9v1.1h-0.9zM952.5 583.2h0.9v1.1h-0.9zM637.4 610.0h0.9v1.1h-0.9zM879.9 591.6h0.9v1.1h-0.9zM747.7 554.8h0.9v1.1h-0.9zM760.2 564.3h0.9v1.1h-0.9zM644.7 673.5h0.9v1.1h-0.9zM744.2 714.9h0.9v1.1h-0.9zM634.0 694.6h0.9v1.1h-0.9zM478.7 687.5h0.9v1.1h-0.9zM941.2 581.9h0.9v1.1h-0.9zM559.3 572.5h0.9v1.1h-0.9zM314.5 579.6h0.9v1.1h-0.9zM655.2 655.3h0.9v1.1h-0.9zM398.2 881.9h0.9v2.0h-0.9zM390.2 892.2h0.9v1.2h-0.9zM387.4 861.5h0.9v1.3h-0.9zM392.5 908.0h0.9v1.2h-0.9zM373.4 810.7h0.9v1.2h-0.9zM365.4 792.4h0.9v1.8h-0.9zM378.6 817.0h0.9v2.2h-0.9zM392.1 901.3h0.9v2.0h-0.9zM383.4 829.8h0.9v2.0h-0.9zM355.2 764.8h0.9v2.0h-0.9zM390.0 873.1h0.9v2.0h-0.9zM384.4 887.0h0.9v2.1h-0.9zM396.7 897.1h0.9v2.2h-0.9zM388.3 875.2h0.9v1.1h-0.9zM344.9 756.7h0.9v1.5h-0.9zM370.8 817.8h0.9v2.0h-0.9zM382.1 837.4h0.9v1.3h-0.9zM386.9 847.1h0.9v1.8h-0.9zM357.3 767.0h0.9v1.1h-0.9zM352.8 772.9h0.9v1.8h-0.9zM382.0 833.2h0.9v1.3h-0.9zM391.3 906.3h0.9v1.3h-0.9zM382.4 813.2h0.9v2.1h-0.9zM386.4 891.7h0.9v1.3h-0.9zM346.9 742.1h0.9v1.6h-0.9zM385.5 876.6h0.9v2.0h-0.9zM358.5 772.4h0.9v1.9h-0.9zM363.2 786.9h0.9v1.0h-0.9zM375.5 818.0h0.9v1.5h-0.9zM395.4 908.8h0.9v2.0h-0.9zM396.7 894.2h0.9v1.9h-0.9zM385.4 849.0h0.9v1.0h-0.9zM378.2 807.5h0.9v2.1h-0.9zM378.4 832.2h0.9v1.8h-0.9zM399.8 891.0h0.9v1.4h-0.9zM389.0 834.9h0.9v2.0h-0.9zM372.1 812.0h0.9v1.1h-0.9zM371.0 802.8h0.9v1.7h-0.9zM370.7 797.1h0.9v1.3h-0.9zM342.3 737.1h0.9v1.8h-0.9zM352.0 775.0h0.9v1.7h-0.9zM390.9 899.3h0.9v1.0h-0.9zM386.8 858.6h0.9v2.2h-0.9zM357.7 778.1h0.9v1.1h-0.9zM366.4 781.5h0.9v1.8h-0.9zM393.5 876.0h0.9v1.4h-0.9zM377.8 840.9h0.9v2.1h-0.9zM367.4 791.9h0.9v1.9h-0.9zM392.0 874.2h0.9v1.8h-0.9zM362.3 780.5h0.9v1.8h-0.9zM343.7 746.0h0.9v1.2h-0.9zM368.7 796.7h0.9v1.8h-0.9zM391.9 895.7h0.9v1.2h-0.9zM347.9 754.7h0.9v1.5h-0.9zM368.3 785.0h0.9v1.2h-0.9zM391.4 857.7h0.9v1.7h-0.9zM349.6 745.4h0.9v2.0h-0.9zM358.6 777.0h0.9v1.3h-0.9zM345.6 757.3h0.9v1.9h-0.9zM361.8 778.9h0.9v1.4h-0.9zM349.0 747.1h0.9v2.0h-0.9zM373.7 805.1h0.9v1.5h-0.9zM390.2 843.8h0.9v1.3h-0.9zM394.5 909.1h0.9v1.6h-0.9zM382.4 862.6h0.9v1.8h-0.9zM372.5 820.4h0.9v1.9h-0.9zM395.2 896.8h0.9v1.1h-0.9zM455.0 817.3h0.9v1.8h-0.9zM447.6 845.3h0.9v1.6h-0.9zM440.1 790.4h0.9v1.3h-0.9zM469.8 906.2h0.9v1.6h-0.9zM434.4 775.5h0.9v2.1h-0.9zM461.5 833.6h0.9v2.2h-0.9zM455.4 815.3h0.9v1.9h-0.9zM442.4 804.8h0.9v1.7h-0.9zM455.4 888.0h0.9v1.4h-0.9zM463.0 881.3h0.9v2.0h-0.9zM436.6 797.6h0.9v1.2h-0.9zM449.6 823.5h0.9v1.8h-0.9zM461.7 857.0h0.9v1.1h-0.9zM462.3 913.4h0.9v2.1h-0.9zM450.2 827.3h0.9v1.7h-0.9zM446.4 892.5h0.9v1.2h-0.9zM423.0 762.5h0.9v1.5h-0.9zM438.0 775.6h0.9v2.1h-0.9zM451.4 847.5h0.9v1.0h-0.9zM455.9 867.4h0.9v1.5h-0.9zM455.4 875.1h0.9v1.6h-0.9zM455.6 884.5h0.9v2.0h-0.9zM459.6 848.2h0.9v1.3h-0.9zM466.5 870.4h0.9v1.1h-0.9zM441.8 790.5h0.9v1.3h-0.9zM442.2 794.6h0.9v1.1h-0.9zM437.3 800.2h0.9v2.1h-0.9zM465.4 859.4h0.9v1.7h-0.9zM649.4 813.3h0.9v1.0h-0.9zM660.0 914.4h0.9v1.9h-0.9zM661.3 856.4h0.9v2.2h-0.9zM656.4 859.9h0.9v2.1h-0.9zM642.1 767.4h0.9v2.0h-0.9zM665.0 897.8h0.9v2.1h-0.9zM649.1 830.8h0.9v2.1h-0.9zM646.0 765.0h0.9v1.8h-0.9zM644.8 773.4h0.9v2.1h-0.9zM651.3 813.5h0.9v1.0h-0.9zM657.1 836.7h0.9v1.1h-0.9zM660.9 885.1h0.9v1.5h-0.9zM650.1 816.7h0.9v1.8h-0.9zM646.6 785.3h0.9v1.3h-0.9zM645.2 767.6h0.9v2.0h-0.9zM648.0 812.6h0.9v2.1h-0.9zM639.3 760.4h0.9v2.1h-0.9zM661.0 907.1h0.9v1.8h-0.9zM667.3 887.1h0.9v1.4h-0.9zM648.0 797.7h0.9v1.2h-0.9zM655.9 859.6h0.9v1.1h-0.9zM644.5 795.5h0.9v1.8h-0.9zM653.6 826.9h0.9v1.3h-0.9zM647.6 849.9h0.9v1.8h-0.9zM639.8 758.2h0.9v2.0h-0.9zM660.9 869.3h0.9v1.7h-0.9zM651.6 805.0h0.9v1.1h-0.9zM654.8 798.6h0.9v1.6h-0.9zM655.6 838.5h0.9v2.2h-0.9zM662.6 855.8h0.9v2.2h-0.9zM664.7 875.2h0.9v1.8h-0.9zM659.5 837.8h0.9v1.9h-0.9zM657.4 891.3h0.9v1.9h-0.9zM650.5 831.1h0.9v1.4h-0.9zM661.2 849.6h0.9v1.3h-0.9zM657.9 834.0h0.9v1.3h-0.9zM646.0 804.4h0.9v2.1h-0.9zM630.8 737.6h0.9v1.2h-0.9zM667.5 869.9h0.9v2.0h-0.9zM666.0 895.8h0.9v1.0h-0.9zM659.6 909.0h0.9v1.4h-0.9zM660.2 877.0h0.9v2.0h-0.9zM643.0 781.3h0.9v2.2h-0.9zM657.2 895.7h0.9v1.7h-0.9zM664.7 913.3h0.9v1.1h-0.9zM655.6 817.4h0.9v1.1h-0.9zM640.1 755.2h0.9v1.2h-0.9zM665.2 871.5h0.9v1.4h-0.9zM661.9 908.4h0.9v1.1h-0.9zM662.1 872.6h0.9v1.1h-0.9zM658.7 840.0h0.9v1.3h-0.9zM640.4 758.7h0.9v1.5h-0.9zM657.7 865.6h0.9v2.2h-0.9zM632.6 744.7h0.9v2.2h-0.9zM653.1 827.8h0.9v1.4h-0.9zM651.0 811.3h0.9v2.1h-0.9zM671.3 899.8h0.9v2.1h-0.9zM666.2 868.3h0.9v1.4h-0.9zM644.5 802.3h0.9v1.0h-0.9zM640.2 744.5h0.9v1.7h-0.9zM636.3 763.8h0.9v2.2h-0.9zM646.5 779.7h0.9v1.7h-0.9zM658.2 828.5h0.9v1.0h-0.9zM656.0 876.0h0.9v1.7h-0.9zM644.7 772.7h0.9v2.0h-0.9zM626.9 747.5h0.9v1.3h-0.9zM775.9 882.7h0.9v1.5h-0.9zM782.8 902.9h0.9v1.2h-0.9zM774.8 848.2h0.9v1.5h-0.9zM776.3 832.7h0.9v1.5h-0.9zM793.3 906.6h0.9v1.5h-0.9zM760.0 758.1h0.9v1.0h-0.9zM764.1 768.7h0.9v1.4h-0.9zM759.8 745.7h0.9v1.1h-0.9zM787.8 886.0h0.9v1.6h-0.9zM774.6 893.5h0.9v1.8h-0.9zM780.7 880.9h0.9v1.8h-0.9zM756.7 736.3h0.9v2.1h-0.9zM774.5 837.1h0.9v1.5h-0.9zM769.5 839.4h0.9v2.0h-0.9zM761.3 846.6h0.9v1.9h-0.9zM767.4 787.2h0.9v2.0h-0.9zM777.2 878.9h0.9v1.8h-0.9zM764.9 823.3h0.9v1.5h-0.9zM783.3 886.2h0.9v1.5h-0.9zM781.8 873.9h0.9v1.3h-0.9zM754.6 742.2h0.9v1.0h-0.9zM762.0 809.6h0.9v1.4h-0.9zM773.6 852.8h0.9v1.6h-0.9zM787.2 881.0h0.9v1.4h-0.9zM779.5 871.2h0.9v2.1h-0.9zM759.6 776.0h0.9v2.2h-0.9zM774.6 869.0h0.9v1.4h-0.9zM777.6 873.6h0.9v1.4h-0.9zM778.5 903.3h0.9v1.2h-0.9zM781.2 843.6h0.9v1.8h-0.9zM769.3 792.6h0.9v1.7h-0.9zM780.8 846.9h0.9v2.1h-0.9zM783.3 873.3h0.9v1.3h-0.9zM760.6 805.6h0.9v1.6h-0.9zM785.6 889.1h0.9v1.7h-0.9zM777.9 880.5h0.9v1.6h-0.9zM753.3 736.2h0.9v1.1h-0.9zM791.0 905.7h0.9v2.1h-0.9zM777.5 855.8h0.9v1.6h-0.9zM772.4 842.4h0.9v1.5h-0.9zM772.7 806.4h0.9v2.2h-0.9zM756.8 740.3h0.9v1.7h-0.9zM769.4 812.6h0.9v2.0h-0.9zM756.5 745.1h0.9v1.2h-0.9zM784.5 909.3h0.9v1.3h-0.9zM783.3 881.3h0.9v1.7h-0.9zM774.9 844.0h0.9v1.7h-0.9zM766.5 832.4h0.9v2.1h-0.9zM769.8 878.5h0.9v1.6h-0.9zM752.8 751.7h0.9v2.2h-0.9zM767.8 781.4h0.9v1.3h-0.9zM780.1 895.2h0.9v1.5h-0.9zM765.7 793.8h0.9v1.2h-0.9zM765.1 766.6h0.9v1.3h-0.9zM769.7 853.8h0.9v1.1h-0.9zM771.0 860.3h0.9v1.3h-0.9zM770.9 773.8h0.9v2.1h-0.9zM763.6 741.0h0.9v1.2h-0.9zM778.2 904.4h0.9v1.6h-0.9zM764.0 765.2h0.9v1.1h-0.9zM775.6 815.0h0.9v1.5h-0.9zM769.8 846.4h0.9v1.6h-0.9zM778.0 890.5h0.9v2.1h-0.9zM759.5 754.7h0.9v2.2h-0.9zM786.8 901.3h0.9v2.0h-0.9zM782.2 879.8h0.9v1.3h-0.9zM790.2 913.4h0.9v1.2h-0.9zM752.3 738.7h0.9v1.8h-0.9zM766.6 757.8h0.9v1.2h-0.9zM773.0 783.6h0.9v1.4h-0.9zM770.2 795.9h0.9v1.1h-0.9zM755.7 749.3h0.9v2.0h-0.9zM767.0 777.8h0.9v1.6h-0.9zM773.7 851.6h0.9v1.3h-0.9zM783.1 812.5h0.9v1.8h-0.9zM767.9 842.1h0.9v1.6h-0.9zM764.5 768.6h0.9v1.4h-0.9zM774.6 830.8h0.9v1.6h-0.9zM780.6 841.9h0.9v1.9h-0.9zM759.7 780.1h0.9v1.2h-0.9zM772.9 810.6h0.9v1.1h-0.9zM771.7 837.4h0.9v1.9h-0.9zM778.5 892.1h0.9v1.2h-0.9zM763.5 743.9h0.9v1.5h-0.9zM761.3 827.3h0.9v1.1h-0.9zM788.8 909.5h0.9v1.6h-0.9zM767.3 831.0h0.9v1.9h-0.9zM772.6 849.6h0.9v1.1h-0.9zM781.7 878.0h0.9v1.1h-0.9zM772.1 815.9h0.9v1.5h-0.9zM779.6 853.1h0.9v1.3h-0.9zM749.8 765.2h0.9v2.2h-0.9zM774.9 837.6h0.9v1.4h-0.9zM764.5 811.5h0.9v1.2h-0.9zM763.2 788.2h0.9v1.1h-0.9zM781.1 886.7h0.9v2.2h-0.9zM765.4 763.9h0.9v1.7h-0.9zM828.2 841.0h1.0v2.0h-1.0zM822.7 805.3h1.0v1.1h-1.0zM812.1 762.8h1.0v3.1h-1.0zM808.5 751.2h1.0v1.1h-1.0zM815.7 777.8h1.0v3.6h-1.0zM808.9 743.5h1.0v3.9h-1.0zM825.4 823.6h1.0v1.1h-1.0zM825.3 830.6h1.0v3.3h-1.0zM812.8 768.8h1.0v1.5h-1.0zM826.9 843.0h1.0v1.5h-1.0zM824.2 820.4h1.0v2.4h-1.0zM839.6 818.9h1.0v1.9h-1.0zM838.0 801.6h1.0v3.4h-1.0zM839.4 813.8h1.0v3.3h-1.0zM838.1 804.4h1.0v3.6h-1.0zM943.2 896.2h0.9v1.5h-0.9zM941.6 876.9h0.9v2.2h-0.9zM934.8 786.2h0.9v1.5h-0.9zM939.3 865.5h0.9v1.0h-0.9zM938.8 845.4h0.9v1.7h-0.9zM932.8 785.4h0.9v1.0h-0.9zM932.6 775.6h0.9v1.1h-0.9zM939.3 840.4h0.9v2.2h-0.9zM937.4 833.0h0.9v1.8h-0.9zM933.2 773.3h0.9v2.1h-0.9zM931.9 788.9h0.9v1.8h-0.9zM684.3 737.9h1.0v4.0h-1.0zM703.4 869.5h1.0v1.9h-1.0zM703.1 894.3h1.0v3.8h-1.0zM703.3 817.9h1.0v2.8h-1.0zM718.0 764.5h1.0v3.1h-1.0zM684.2 819.3h1.0v1.9h-1.0zM712.7 873.5h1.0v2.1h-1.0zM700.2 813.1h1.0v3.2h-1.0zM717.6 896.0h1.0v1.7h-1.0zM689.7 762.6h1.0v1.7h-1.0zM711.1 886.0h1.0v1.2h-1.0zM708.6 913.0h1.0v1.7h-1.0zM717.2 830.3h1.0v3.1h-1.0zM710.6 862.9h1.0v2.5h-1.0zM712.2 772.9h1.0v1.4h-1.0zM692.6 771.1h1.0v2.3h-1.0zM704.7 808.7h1.0v1.4h-1.0zM686.2 748.1h1.0v3.9h-1.0zM717.1 882.2h1.0v1.8h-1.0zM708.5 781.4h1.0v1.8h-1.0zM688.5 751.9h1.0v1.7h-1.0zM702.2 836.1h1.0v2.2h-1.0zM587.6 889.7h1.0v3.3h-1.0zM586.1 842.3h1.0v4.1h-1.0zM586.4 845.4h1.0v3.8h-1.0zM588.5 893.8h1.0v2.3h-1.0zM622.1 815.5h0.9v2.0h-0.9zM616.0 764.5h0.9v1.0h-0.9zM595.0 837.2h0.9v1.1h-0.9zM617.5 897.7h0.9v2.2h-0.9zM600.4 820.8h0.9v1.9h-0.9zM612.6 844.7h0.9v1.7h-0.9zM635.6 903.1h0.9v1.7h-0.9zM616.6 860.8h0.9v2.1h-0.9zM600.1 770.4h0.9v1.1h-0.9zM609.6 744.7h0.9v1.9h-0.9zM621.1 911.9h0.9v1.2h-0.9zM604.2 799.5h0.9v2.0h-0.9zM747.5 909.5h1.0v2.2h-1.0zM742.5 822.7h1.0v2.9h-1.0zM746.5 874.0h1.0v2.1h-1.0zM738.7 754.5h1.0v1.2h-1.0zM752.0 881.4h1.0v2.9h-1.0zM740.2 899.1h1.0v4.7h-1.0zM739.1 795.4h1.0v4.3h-1.0zM745.0 883.2h1.0v2.3h-1.0zM742.7 845.5h1.0v1.1h-1.0zM738.9 819.6h1.0v1.6h-1.0zM724.8 765.6h1.0v1.2h-1.0zM732.6 735.9h1.0v4.6h-1.0zM735.3 767.5h1.0v1.4h-1.0zM740.4 818.3h1.0v3.3h-1.0zM724.8 742.2h1.0v3.2h-1.0zM735.6 802.4h1.0v4.9h-1.0zM734.8 776.5h1.0v2.4h-1.0zM722.1 743.2h1.0v4.2h-1.0zM739.6 791.1h1.0v4.9h-1.0zM727.3 785.9h1.0v1.7h-1.0zM743.6 837.9h1.0v3.3h-1.0zM782.4 755.8h1.0v3.5h-1.0zM790.4 761.8h1.0v2.8h-1.0zM809.4 852.0h1.0v3.5h-1.0zM787.3 739.1h1.0v3.0h-1.0zM814.7 890.1h1.0v1.7h-1.0zM789.0 735.5h1.0v1.5h-1.0zM802.0 824.4h1.0v2.5h-1.0zM796.5 837.5h1.0v3.4h-1.0zM812.9 894.5h1.0v2.6h-1.0zM806.4 878.3h1.0v1.7h-1.0zM795.0 766.1h1.0v2.9h-1.0zM808.8 827.2h1.0v1.6h-1.0zM352.0 870.9h0.9v1.1h-0.9zM726.8 764.5h0.9v1.1h-0.9zM921.3 824.9h0.9v1.1h-0.9zM602.2 863.8h0.9v1.1h-0.9zM965.0 852.0h0.9v1.1h-0.9zM862.9 748.9h0.9v1.1h-0.9zM836.0 789.0h0.9v1.1h-0.9zM484.6 809.5h0.9v1.1h-0.9zM328.4 867.0h0.9v1.1h-0.9zM415.2 835.9h0.9v1.1h-0.9zM874.8 829.0h0.9v1.1h-0.9zM963.3 739.9h0.9v1.1h-0.9zM468.5 737.3h0.9v1.1h-0.9zM522.0 880.5h0.9v1.1h-0.9zM739.8 878.7h0.9v1.1h-0.9zM262.1 768.1h0.9v1.1h-0.9zM897.8 911.8h0.9v1.1h-0.9zM898.2 774.4h0.9v1.1h-0.9zM328.2 744.1h0.9v1.1h-0.9zM389.0 796.2h0.9v1.1h-0.9zM556.1 845.8h0.9v1.1h-0.9zM951.8 783.7h0.9v1.1h-0.9zM301.3 799.7h0.9v1.1h-0.9zM869.5 863.2h0.9v1.1h-0.9zM302.9 758.9h0.9v1.1h-0.9zM564.5 887.9h0.9v1.1h-0.9zM258.9 873.5h0.9v1.1h-0.9zM460.9 872.0h0.9v1.1h-0.9zM920.2 899.1h0.9v1.1h-0.9zM581.3 757.1h0.9v1.1h-0.9zM475.4 784.4h0.9v1.1h-0.9zM350.3 795.7h0.9v1.1h-0.9zM734.3 769.6h0.9v1.1h-0.9zM79.0 810.4h0.9v1.1h-0.9zM332.0 780.1h0.9v1.1h-0.9zM445.2 743.3h0.9v1.1h-0.9zM187.8 848.5h0.9v1.1h-0.9zM891.0 789.0h0.9v1.1h-0.9zM429.2 756.6h0.9v1.1h-0.9zM849.0 888.1h0.9v1.1h-0.9zM714.8 779.0h0.9v1.1h-0.9zM698.2 827.4h0.9v1.1h-0.9zM74.2 791.1h0.9v1.1h-0.9zM668.9 889.9h0.9v1.1h-0.9zM90.1 777.7h0.9v1.1h-0.9zM851.0 887.6h0.9v1.1h-0.9zM557.2 768.7h0.9v1.1h-0.9zM430.1 891.0h0.9v1.1h-0.9zM114.1 850.3h0.9v1.1h-0.9zM895.3 762.3h0.9v1.1h-0.9zM221.9 900.4h0.9v1.1h-0.9zM875.5 807.4h0.9v1.1h-0.9zM185.7 889.8h0.9v1.1h-0.9zM526.0 796.6h0.9v1.1h-0.9zM629.9 822.9h0.9v1.1h-0.9zM906.6 819.2h0.9v1.1h-0.9zM180.2 847.8h0.9v1.1h-0.9z"/>
<path fill="#0019ff" d="M167.1 415.5h0.9v1.4h-0.9zM165.9 416.4h0.9v1.4h-0.9zM173.2 420.7h0.9v1.4h-0.9zM168.6 415.4h0.9v1.4h-0.9zM361.4 421.9h0.9v1.4h-0.9zM367.8 427.0h0.9v1.4h-0.9zM365.7 424.2h0.9v1.4h-0.9zM384.6 404.7h0.9v1.4h-0.9zM366.4 408.9h0.9v1.4h-0.9zM385.5 407.6h0.9v1.4h-0.9zM381.6 435.2h0.9v1.4h-0.9zM372.4 418.5h0.9v1.4h-0.9zM388.5 414.1h0.9v1.4h-0.9zM390.7 431.3h0.9v1.4h-0.9zM371.8 393.4h0.9v1.4h-0.9zM381.9 442.4h0.9v1.4h-0.9zM505.9 403.7h0.9v1.4h-0.9zM503.3 405.9h0.9v1.4h-0.9zM509.6 420.0h0.9v1.4h-0.9zM509.9 430.3h0.9v1.4h-0.9zM504.8 439.4h0.9v1.4h-0.9zM490.7 389.2h0.9v1.4h-0.9zM508.4 409.7h0.9v1.4h-0.9zM489.6 406.5h0.9v1.4h-0.9zM500.0 395.8h0.9v1.4h-0.9zM511.0 441.0h0.9v1.4h-0.9zM496.7 427.0h0.9v1.4h-0.9zM493.9 394.5h0.9v1.4h-0.9zM496.9 421.6h0.9v1.4h-0.9zM490.4 394.8h0.9v1.4h-0.9zM491.7 420.0h0.9v1.4h-0.9zM503.0 394.2h0.9v1.4h-0.9zM509.6 437.7h0.9v1.4h-0.9zM491.9 422.0h0.9v1.4h-0.9zM511.2 442.1h0.9v1.4h-0.9zM495.0 423.6h0.9v1.4h-0.9zM494.4 412.8h0.9v1.4h-0.9zM510.8 412.3h0.9v1.4h-0.9zM563.1 399.8h0.9v1.4h-0.9zM566.7 412.8h0.9v1.4h-0.9zM554.4 407.2h0.9v1.4h-0.9zM559.7 427.7h0.9v1.4h-0.9zM565.4 419.7h0.9v1.4h-0.9zM553.9 405.2h0.9v1.4h-0.9zM559.0 426.3h0.9v1.4h-0.9zM558.4 417.8h0.9v1.4h-0.9zM555.5 414.1h0.9v1.4h-0.9zM659.8 411.7h0.9v1.4h-0.9zM657.2 411.6h0.9v1.4h-0.9zM773.6 421.8h0.9v1.4h-0.9zM784.6 407.0h0.9v1.4h-0.9zM789.7 422.9h0.9v1.4h-0.9zM773.1 407.6h0.9v1.4h-0.9zM771.5 413.1h0.9v1.4h-0.9zM777.9 407.6h0.9v1.4h-0.9zM778.4 423.5h0.9v1.4h-0.9zM777.6 419.7h0.9v1.4h-0.9zM776.9 427.4h0.9v1.4h-0.9zM786.9 405.5h0.9v1.4h-0.9zM776.9 401.1h0.9v1.4h-0.9zM881.7 398.2h0.9v1.4h-0.9zM884.6 418.0h0.9v1.4h-0.9zM895.4 408.7h0.9v1.4h-0.9zM884.8 418.8h0.9v1.4h-0.9zM880.4 410.2h0.9v1.4h-0.9zM881.8 420.7h0.9v1.4h-0.9zM884.9 406.9h0.9v1.4h-0.9zM895.0 416.6h0.9v1.4h-0.9zM889.3 424.9h0.9v1.4h-0.9zM887.3 392.0h0.9v1.4h-0.9zM886.0 424.6h0.9v1.4h-0.9zM893.2 435.0h0.9v1.4h-0.9zM897.5 403.9h0.9v1.4h-0.9zM898.9 433.0h0.9v1.4h-0.9zM894.6 431.0h0.9v1.4h-0.9zM892.8 397.8h0.9v1.4h-0.9zM944.2 422.3h0.9v1.4h-0.9zM942.8 416.8h0.9v1.4h-0.9zM949.0 414.3h0.9v1.4h-0.9zM674.7 515.9h0.9v1.4h-0.9zM682.0 516.6h0.9v1.4h-0.9zM684.1 537.0h0.9v1.4h-0.9zM676.5 516.1h0.9v1.4h-0.9zM683.0 533.1h0.9v1.4h-0.9zM677.9 537.7h0.9v1.4h-0.9zM682.0 519.6h0.9v1.4h-0.9zM824.7 513.5h0.9v1.4h-0.9zM830.7 521.9h0.9v1.4h-0.9zM820.9 516.6h0.9v1.4h-0.9zM820.5 521.8h0.9v1.4h-0.9zM822.2 529.7h0.9v1.4h-0.9zM833.7 528.3h0.9v1.4h-0.9zM833.8 526.6h0.9v1.4h-0.9zM827.2 505.4h0.9v1.4h-0.9zM831.7 523.4h0.9v1.4h-0.9zM825.9 512.1h0.9v1.4h-0.9zM828.4 513.9h0.9v1.4h-0.9zM265.9 366.4h0.9v1.2h-0.9zM286.7 391.9h0.9v1.2h-0.9zM296.1 409.9h0.9v1.2h-0.9zM260.7 360.8h0.9v1.2h-0.9zM324.6 523.3h0.9v1.2h-0.9zM297.6 413.5h0.9v1.2h-0.9zM280.1 380.7h0.9v1.2h-0.9zM306.6 448.4h0.9v1.2h-0.9zM281.5 387.2h0.9v1.2h-0.9zM327.7 518.0h0.9v1.2h-0.9zM267.5 369.1h0.9v1.2h-0.9zM298.7 420.9h0.9v1.2h-0.9zM323.1 512.1h0.9v1.2h-0.9zM804.7 389.0h0.9v1.1h-0.9zM983.1 388.7h0.9v1.1h-0.9zM373.2 492.9h0.9v1.1h-0.9zM307.9 529.0h0.9v1.1h-0.9zM407.4 361.0h0.9v1.1h-0.9zM410.7 482.9h0.9v1.1h-0.9zM921.0 401.9h0.9v1.1h-0.9zM98.2 421.1h0.9v1.1h-0.9zM477.4 464.0h0.9v1.1h-0.9zM685.6 395.1h0.9v1.1h-0.9zM215.3 518.2h0.9v1.1h-0.9zM435.6 479.7h0.9v1.1h-0.9zM531.2 497.5h0.9v1.1h-0.9zM333.3 521.1h0.9v1.1h-0.9zM981.0 469.2h0.9v1.1h-0.9zM855.0 473.9h0.9v1.1h-0.9zM768.6 467.9h0.9v1.1h-0.9zM87.9 460.4h0.9v1.1h-0.9zM131.6 378.4h0.9v1.1h-0.9zM331.0 384.1h0.9v1.1h-0.9zM508.0 381.2h0.9v1.1h-0.9zM876.0 401.2h0.9v1.1h-0.9zM112.7 518.7h0.9v1.1h-0.9zM269.8 396.0h0.9v1.1h-0.9zM203.0 464.3h0.9v1.1h-0.9zM287.7 494.4h0.9v1.1h-0.9zM918.6 478.8h0.9v1.1h-0.9zM127.2 371.2h0.9v1.1h-0.9zM845.4 515.7h0.9v1.1h-0.9zM267.7 508.9h0.9v1.1h-0.9zM843.3 445.8h0.9v1.1h-0.9zM863.9 475.7h0.9v1.1h-0.9zM885.8 413.6h0.9v1.1h-0.9zM659.7 455.8h0.9v1.1h-0.9zM613.3 443.7h0.9v1.1h-0.9zM786.4 403.7h0.9v1.1h-0.9zM908.6 418.1h0.9v1.1h-0.9zM695.4 714.6h1.0v2.4h-1.0zM866.8 715.5h1.0v2.6h-1.0zM859.8 701.8h1.0v2.6h-1.0zM861.0 714.6h1.0v2.6h-1.0zM864.8 699.5h1.0v2.6h-1.0zM862.0 704.6h1.0v2.6h-1.0zM131.6 698.1h0.9v1.1h-0.9zM879.3 722.1h0.9v1.1h-0.9zM520.4 706.4h0.9v1.1h-0.9zM894.3 667.0h0.9v1.1h-0.9zM760.1 562.1h0.9v1.1h-0.9zM220.9 687.5h0.9v1.1h-0.9zM71.3 647.7h0.9v1.1h-0.9zM422.0 580.8h0.9v1.1h-0.9zM906.3 586.0h0.9v1.1h-0.9zM144.4 564.4h0.9v1.1h-0.9zM967.8 619.4h0.9v1.1h-0.9zM481.4 656.1h0.9v1.1h-0.9zM708.8 546.5h0.9v1.1h-0.9zM347.8 719.8h0.9v1.1h-0.9zM974.5 601.6h0.9v1.1h-0.9zM410.5 617.2h0.9v1.1h-0.9zM628.7 692.5h0.9v1.1h-0.9zM307.8 659.9h0.9v1.1h-0.9zM737.2 602.7h0.9v1.1h-0.9zM152.1 610.0h0.9v1.1h-0.9zM550.7 610.9h0.9v1.1h-0.9zM647.0 716.8h0.9v1.1h-0.9zM775.7 607.8h0.9v1.1h-0.9zM380.1 828.0h0.9v1.2h-0.9zM367.5 795.5h0.9v1.1h-0.9zM374.1 806.4h0.9v1.9h-0.9zM363.0 779.2h0.9v2.0h-0.9zM381.2 863.4h0.9v1.8h-0.9zM350.7 751.6h0.9v1.7h-0.9zM371.5 819.1h0.9v2.0h-0.9zM359.7 774.6h0.9v1.7h-0.9zM351.0 774.5h0.9v2.0h-0.9zM393.3 896.6h0.9v1.7h-0.9zM338.9 738.3h0.9v2.1h-0.9zM380.7 836.9h0.9v1.7h-0.9zM385.9 848.5h0.9v1.9h-0.9zM388.3 837.5h0.9v1.3h-0.9zM392.4 897.3h0.9v2.1h-0.9zM357.1 758.7h0.9v1.0h-0.9zM390.9 872.2h0.9v1.0h-0.9zM392.2 891.4h0.9v1.7h-0.9zM367.6 791.7h0.9v1.0h-0.9zM394.8 900.3h0.9v1.4h-0.9zM365.1 794.3h0.9v1.3h-0.9zM378.2 829.2h0.9v2.1h-0.9zM380.5 829.3h0.9v2.2h-0.9zM346.9 742.5h0.9v1.7h-0.9zM355.2 774.9h0.9v2.2h-0.9zM350.4 736.1h0.9v1.6h-0.9zM351.8 760.6h0.9v1.4h-0.9zM386.3 837.7h0.9v2.0h-0.9zM358.4 765.6h0.9v1.7h-0.9zM390.3 876.5h0.9v1.6h-0.9zM392.7 912.7h0.9v1.8h-0.9zM365.2 793.7h0.9v2.0h-0.9zM373.8 811.2h0.9v2.2h-0.9zM369.3 796.5h0.9v1.4h-0.9zM393.5 895.2h0.9v2.1h-0.9zM391.5 869.3h0.9v1.5h-0.9zM385.5 864.5h0.9v1.9h-0.9zM397.1 886.9h0.9v1.6h-0.9zM388.8 852.8h0.9v1.6h-0.9zM370.3 806.4h0.9v1.8h-0.9zM387.8 879.3h0.9v1.6h-0.9zM384.0 826.7h0.9v1.6h-0.9zM390.1 888.1h0.9v1.5h-0.9zM394.2 893.2h0.9v1.4h-0.9zM391.5 876.6h0.9v1.1h-0.9zM390.3 910.9h0.9v1.3h-0.9zM347.2 744.4h0.9v1.6h-0.9zM368.9 815.6h0.9v1.7h-0.9zM378.7 832.7h0.9v2.1h-0.9zM390.2 899.2h0.9v1.4h-0.9zM375.6 815.0h0.9v2.0h-0.9zM345.6 744.9h0.9v1.6h-0.9zM370.3 812.4h0.9v2.0h-0.9zM376.2 805.3h0.9v2.0h-0.9zM362.1 774.6h0.9v2.1h-0.9zM390.1 881.8h0.9v2.2h-0.9zM390.7 898.4h0.9v1.8h-0.9zM437.9 804.1h0.9v1.0h-0.9zM455.3 892.7h0.9v1.5h-0.9zM441.3 811.2h0.9v2.2h-0.9zM445.2 797.8h0.9v1.1h-0.9zM467.9 912.4h0.9v2.1h-0.9zM434.5 769.3h0.9v1.9h-0.9zM427.6 784.7h0.9v1.5h-0.9zM435.8 767.7h0.9v2.1h-0.9zM436.5 778.9h0.9v1.3h-0.9zM422.5 773.0h0.9v2.0h-0.9zM426.4 749.8h0.9v2.0h-0.9zM462.3 883.3h0.9v1.1h-0.9zM452.5 859.6h0.9v1.4h-0.9zM438.8 769.6h0.9v1.1h-0.9zM445.2 828.5h0.9v1.9h-0.9zM455.9 904.3h0.9v1.6h-0.9zM445.5 803.7h0.9v1.1h-0.9zM434.3 776.2h0.9v1.4h-0.9zM440.9 775.3h0.9v1.3h-0.9zM660.3 904.4h0.9v1.2h-0.9zM632.5 736.2h0.9v1.2h-0.9zM661.9 887.2h0.9v1.2h-0.9zM658.9 888.8h0.9v2.0h-0.9zM637.2 786.3h0.9v2.1h-0.9zM660.9 886.6h0.9v1.5h-0.9zM661.7 873.5h0.9v1.7h-0.9zM662.2 899.2h0.9v1.4h-0.9zM647.3 781.1h0.9v2.1h-0.9zM663.9 877.3h0.9v1.3h-0.9zM658.0 836.1h0.9v2.0h-0.9zM631.3 739.6h0.9v1.0h-0.9zM653.1 832.7h0.9v1.7h-0.9zM643.6 769.9h0.9v1.2h-0.9zM660.0 862.2h0.9v1.5h-0.9zM644.6 781.6h0.9v1.2h-0.9zM648.7 759.2h0.9v1.1h-0.9zM649.6 800.3h0.9v1.4h-0.9zM644.3 767.7h0.9v1.5h-0.9zM638.7 759.5h0.9v2.1h-0.9zM656.7 824.2h0.9v2.0h-0.9zM635.0 760.9h0.9v1.0h-0.9zM654.3 823.4h0.9v1.7h-0.9zM634.6 741.4h0.9v2.2h-0.9zM645.6 790.5h0.9v2.1h-0.9zM628.9 735.3h0.9v2.0h-0.9zM658.6 910.5h0.9v1.8h-0.9zM657.0 846.9h0.9v1.1h-0.9zM656.9 829.8h0.9v1.8h-0.9zM647.1 810.0h0.9v1.1h-0.9zM648.0 805.3h0.9v1.9h-0.9zM638.9 751.1h0.9v1.5h-0.9zM662.4 871.7h0.9v1.6h-0.9zM656.4 866.1h0.9v1.1h-0.9zM635.0 758.0h0.9v2.0h-0.9zM659.7 896.2h0.9v1.3h-0.9zM663.0 889.2h0.9v1.2h-0.9zM653.4 810.9h0.9v1.1h-0.9zM653.1 811.6h0.9v1.1h-0.9zM666.0 883.8h0.9v1.7h-0.9zM638.6 773.7h0.9v1.3h-0.9zM659.9 886.0h0.9v1.9h-0.9zM644.4 794.1h0.9v1.6h-0.9zM657.3 862.0h0.9v2.2h-0.9zM635.3 758.4h0.9v2.0h-0.9zM644.2 793.3h0.9v1.3h-0.9zM636.3 766.7h0.9v1.7h-0.9zM646.9 786.6h0.9v1.5h-0.9zM653.1 820.2h0.9v2.0h-0.9zM659.0 852.1h0.9v2.0h-0.9zM660.7 891.2h0.9v1.4h-0.9zM667.6 907.4h0.9v1.3h-0.9zM665.0 905.1h0.9v2.2h-0.9zM655.3 810.0h0.9v2.0h-0.9zM645.6 802.8h0.9v1.7h-0.9zM640.9 789.6h0.9v1.5h-0.9zM635.7 752.6h0.9v1.0h-0.9zM665.9 887.7h0.9v1.7h-0.9zM633.7 740.4h0.9v1.4h-0.9zM777.8 867.6h0.9v1.1h-0.9zM765.3 767.2h0.9v1.2h-0.9zM781.1 873.1h0.9v1.6h-0.9zM761.1 757.5h0.9v2.0h-0.9zM771.4 863.8h0.9v1.4h-0.9zM757.2 749.3h0.9v1.3h-0.9zM762.8 804.0h0.9v1.9h-0.9zM776.7 903.3h0.9v1.3h-0.9zM762.1 793.9h0.9v1.5h-0.9zM773.4 834.2h0.9v1.1h-0.9zM771.3 829.1h0.9v1.0h-0.9zM757.7 738.2h0.9v1.5h-0.9zM774.5 839.3h0.9v1.8h-0.9zM782.0 884.2h0.9v1.4h-0.9zM780.5 880.7h0.9v1.3h-0.9zM764.1 814.8h0.9v2.2h-0.9zM785.1 909.1h0.9v1.3h-0.9zM774.5 898.0h0.9v1.4h-0.9zM767.1 809.4h0.9v1.6h-0.9zM775.6 822.0h0.9v2.1h-0.9zM771.3 827.9h0.9v1.2h-0.9zM788.1 903.6h0.9v2.0h-0.9zM781.2 835.1h0.9v1.1h-0.9zM769.4 758.3h0.9v2.1h-0.9zM770.8 782.1h0.9v1.2h-0.9zM777.2 845.5h0.9v1.3h-0.9zM787.0 911.9h0.9v1.8h-0.9zM757.8 747.9h0.9v1.8h-0.9zM788.7 886.1h0.9v1.3h-0.9zM775.0 866.9h0.9v1.2h-0.9zM782.4 876.0h0.9v1.2h-0.9zM782.3 874.4h0.9v2.0h-0.9zM777.5 825.6h0.9v1.9h-0.9zM781.5 869.8h0.9v1.3h-0.9zM778.3 899.6h0.9v1.1h-0.9zM759.4 737.8h0.9v1.3h-0.9zM757.1 757.5h0.9v1.1h-0.9zM761.7 762.2h0.9v1.7h-0.9zM772.3 837.1h0.9v1.6h-0.9zM750.8 757.3h0.9v1.8h-0.9zM767.9 827.0h0.9v1.2h-0.9zM770.3 820.6h0.9v2.0h-0.9zM769.1 801.5h0.9v1.1h-0.9zM770.3 836.0h0.9v1.5h-0.9zM768.9 807.6h0.9v1.5h-0.9zM764.4 816.9h0.9v2.2h-0.9zM768.1 858.3h0.9v1.3h-0.9zM779.4 901.6h0.9v1.2h-0.9zM776.2 879.1h0.9v1.6h-0.9zM766.8 800.0h0.9v1.9h-0.9zM772.9 888.9h0.9v1.3h-0.9zM778.4 803.9h0.9v1.9h-0.9zM768.6 820.0h0.9v1.8h-0.9zM772.7 878.8h0.9v1.0h-0.9zM769.1 847.7h0.9v1.2h-0.9zM780.8 866.5h0.9v1.7h-0.9zM773.8 872.6h0.9v2.2h-0.9zM760.6 767.8h0.9v1.4h-0.9zM780.8 877.4h0.9v1.6h-0.9zM776.0 852.1h0.9v2.1h-0.9zM777.7 890.6h0.9v2.1h-0.9zM778.2 828.7h0.9v2.1h-0.9zM773.5 822.9h0.9v2.1h-0.9zM751.8 743.4h0.9v1.4h-0.9zM827.0 839.2h1.0v3.4h-1.0zM819.7 800.1h1.0v1.5h-1.0zM814.2 775.4h1.0v3.6h-1.0zM829.4 847.8h1.0v1.6h-1.0zM825.6 831.8h1.0v1.7h-1.0zM815.3 770.6h1.0v3.2h-1.0zM814.2 772.3h1.0v1.9h-1.0zM810.1 751.7h1.0v3.0h-1.0zM810.0 750.4h1.0v3.8h-1.0zM809.5 748.1h1.0v1.2h-1.0zM836.8 792.6h1.0v1.5h-1.0zM838.4 814.4h1.0v3.7h-1.0zM837.7 803.4h1.0v1.9h-1.0zM943.9 876.7h0.9v1.4h-0.9zM942.0 891.6h0.9v1.2h-0.9zM942.1 887.4h0.9v1.6h-0.9zM938.5 863.8h0.9v1.8h-0.9zM935.8 825.0h0.9v2.2h-0.9zM933.8 773.2h0.9v1.6h-0.9zM712.9 820.2h1.0v1.1h-1.0zM707.1 900.3h1.0v2.1h-1.0zM706.6 911.5h1.0v2.6h-1.0zM706.8 900.6h1.0v2.5h-1.0zM696.3 784.0h1.0v1.8h-1.0zM686.8 758.8h1.0v1.3h-1.0zM691.2 768.7h1.0v2.4h-1.0zM704.1 857.7h1.0v1.7h-1.0zM719.1 886.9h1.0v2.3h-1.0zM701.2 839.6h1.0v3.7h-1.0zM690.0 777.7h1.0v1.9h-1.0zM702.4 778.3h1.0v1.6h-1.0zM586.3 874.1h1.0v2.3h-1.0zM586.0 839.8h1.0v4.9h-1.0zM610.0 755.3h0.9v1.3h-0.9zM601.3 789.5h0.9v1.5h-0.9zM614.1 876.9h0.9v1.6h-0.9zM629.9 881.6h0.9v2.1h-0.9zM605.1 813.6h0.9v1.1h-0.9zM611.6 840.6h0.9v1.3h-0.9zM605.7 830.8h0.9v1.0h-0.9zM731.0 768.8h1.0v2.4h-1.0zM732.1 744.6h1.0v1.5h-1.0zM755.9 913.7h1.0v2.3h-1.0zM729.3 736.1h1.0v3.9h-1.0zM737.4 800.2h1.0v4.7h-1.0zM744.7 873.4h1.0v3.4h-1.0zM732.1 760.0h1.0v2.6h-1.0zM734.4 779.6h1.0v1.8h-1.0zM752.6 891.7h1.0v2.2h-1.0zM750.7 863.7h1.0v2.6h-1.0zM743.0 829.9h1.0v2.5h-1.0zM736.0 767.7h1.0v3.1h-1.0zM745.5 902.8h1.0v2.7h-1.0zM743.7 879.1h1.0v3.6h-1.0zM796.3 787.1h1.0v2.4h-1.0zM809.1 899.8h1.0v3.3h-1.0zM806.3 831.5h1.0v4.0h-1.0zM810.2 863.8h1.0v2.1h-1.0zM821.2 907.3h1.0v1.0h-1.0zM808.3 826.0h1.0v1.3h-1.0zM804.1 826.5h1.0v1.7h-1.0zM790.5 764.5h1.0v3.5h-1.0zM790.8 743.3h1.0v3.0h-1.0zM783.2 735.3h1.0v2.5h-1.0zM806.6 880.8h1.0v2.8h-1.0zM792.7 737.9h1.0v2.2h-1.0zM803.1 877.0h1.0v2.3h-1.0zM793.2 743.0h1.0v3.6h-1.0zM800.9 774.4h1.0v2.7h-1.0zM795.3 747.0h1.0v1.7h-1.0zM805.9 894.8h1.0v1.7h-1.0zM810.7 891.3h1.0v2.2h-1.0zM793.5 748.5h1.0v1.5h-1.0zM803.8 820.0h1.0v3.2h-1.0zM792.2 803.6h1.0v3.5h-1.0zM367.1 849.9h0.9v1.1h-0.9zM834.0 756.1h0.9v1.1h-0.9zM539.1 850.6h0.9v1.1h-0.9zM678.2 810.8h0.9v1.1h-0.9zM769.4 852.8h0.9v1.1h-0.9zM604.2 839.6h0.9v1.1h-0.9zM810.0 736.5h0.9v1.1h-0.9zM937.0 809.8h0.9v1.1h-0.9zM975.5 897.1h0.9v1.1h-0.9zM223.5 799.1h0.9v1.1h-0.9zM295.0 890.6h0.9v1.1h-0.9zM802.5 911.1h0.9v1.1h-0.9zM339.7 756.4h0.9v1.1h-0.9zM143.7 904.7h0.9v1.1h-0.9zM891.6 764.5h0.9v1.1h-0.9zM643.0 905.1h0.9v1.1h-0.9zM73.3 904.9h0.9v1.1h-0.9zM84.3 879.9h0.9v1.1h-0.9zM573.1 847.6h0.9v1.1h-0.9zM749.6 833.9h0.9v1.1h-0.9z"/>
<path fill="#0000e5" d="M168.9 419.3h0.9v1.4h-0.9zM171.7 419.3h0.9v1.4h-0.9zM174.8 423.1h0.9v1.4h-0.9zM172.8 421.1h0.9v1.4h-0.9zM162.6 410.2h0.9v1.4h-0.9zM171.8 417.1h0.9v1.4h-0.9zM364.4 429.3h0.9v1.4h-0.9zM371.6 419.2h0.9v1.4h-0.9zM357.1 414.1h0.9v1.4h-0.9zM355.1 401.7h0.9v1.4h-0.9zM361.8 402.7h0.9v1.4h-0.9zM369.3 426.5h0.9v1.4h-0.9zM370.9 410.2h0.9v1.4h-0.9zM372.5 413.9h0.9v1.4h-0.9zM357.5 399.5h0.9v1.4h-0.9zM383.6 399.3h0.9v1.4h-0.9zM363.9 406.3h0.9v1.4h-0.9zM387.8 400.0h0.9v1.4h-0.9zM384.1 392.2h0.9v1.4h-0.9zM377.7 392.8h0.9v1.4h-0.9zM372.0 426.4h0.9v1.4h-0.9zM399.8 433.3h0.9v1.4h-0.9zM384.8 400.3h0.9v1.4h-0.9zM372.5 391.7h0.9v1.4h-0.9zM365.8 398.5h0.9v1.4h-0.9zM388.6 401.1h0.9v1.4h-0.9zM361.6 399.9h0.9v1.4h-0.9zM393.3 434.5h0.9v1.4h-0.9zM384.4 447.4h0.9v1.4h-0.9zM399.5 429.4h0.9v1.4h-0.9zM394.5 448.3h0.9v1.4h-0.9zM395.0 436.7h0.9v1.4h-0.9zM381.5 439.0h0.9v1.4h-0.9zM489.3 391.6h0.9v1.4h-0.9zM493.5 389.8h0.9v1.4h-0.9zM512.2 423.2h0.9v1.4h-0.9zM506.9 440.6h0.9v1.4h-0.9zM494.2 424.4h0.9v1.4h-0.9zM493.8 389.7h0.9v1.4h-0.9zM495.3 427.6h0.9v1.4h-0.9zM498.3 392.4h0.9v1.4h-0.9zM494.3 393.7h0.9v1.4h-0.9zM486.5 390.5h0.9v1.4h-0.9zM491.3 398.7h0.9v1.4h-0.9zM487.5 395.7h0.9v1.4h-0.9zM488.8 396.0h0.9v1.4h-0.9zM564.1 433.1h0.9v1.4h-0.9zM557.3 397.6h0.9v1.4h-0.9zM552.7 399.4h0.9v1.4h-0.9zM566.3 433.8h0.9v1.4h-0.9zM552.6 395.0h0.9v1.4h-0.9zM563.4 429.7h0.9v1.4h-0.9zM553.8 410.3h0.9v1.4h-0.9zM553.9 416.4h0.9v1.4h-0.9zM564.3 407.6h0.9v1.4h-0.9zM556.7 400.1h0.9v1.4h-0.9zM654.5 417.2h0.9v1.4h-0.9zM654.7 400.6h0.9v1.4h-0.9zM656.8 401.8h0.9v1.4h-0.9zM660.8 410.5h0.9v1.4h-0.9zM660.1 412.9h0.9v1.4h-0.9zM777.7 430.1h0.9v1.4h-0.9zM776.6 402.9h0.9v1.4h-0.9zM774.8 394.2h0.9v1.4h-0.9zM786.2 401.8h0.9v1.4h-0.9zM773.8 406.5h0.9v1.4h-0.9zM892.6 436.8h0.9v1.4h-0.9zM894.2 432.9h0.9v1.4h-0.9zM882.6 409.8h0.9v1.4h-0.9zM898.1 438.0h0.9v1.4h-0.9zM882.8 407.0h0.9v1.4h-0.9zM881.4 414.5h0.9v1.4h-0.9zM901.0 421.8h0.9v1.4h-0.9zM884.2 425.5h0.9v1.4h-0.9zM889.3 398.5h0.9v1.4h-0.9zM884.4 424.7h0.9v1.4h-0.9zM940.8 417.8h0.9v1.4h-0.9zM944.0 410.9h0.9v1.4h-0.9zM943.1 404.8h0.9v1.4h-0.9zM942.7 403.9h0.9v1.4h-0.9zM948.9 413.7h0.9v1.4h-0.9zM939.4 406.5h0.9v1.4h-0.9zM681.1 538.1h0.9v1.4h-0.9zM683.7 516.1h0.9v1.4h-0.9zM833.8 530.2h0.9v1.4h-0.9zM823.0 502.6h0.9v1.4h-0.9zM832.7 518.7h0.9v1.4h-0.9zM827.7 505.8h0.9v1.4h-0.9zM830.5 538.3h0.9v1.4h-0.9zM819.5 509.3h0.9v1.4h-0.9zM305.2 430.1h0.9v1.2h-0.9zM279.0 382.1h0.9v1.2h-0.9zM283.1 387.2h0.9v1.2h-0.9zM323.3 529.1h0.9v1.2h-0.9zM305.9 436.3h0.9v1.2h-0.9zM291.6 407.9h0.9v1.2h-0.9zM275.8 381.8h0.9v1.2h-0.9zM273.0 377.8h0.9v1.2h-0.9zM77.1 474.5h0.9v1.1h-0.9zM209.3 398.8h0.9v1.1h-0.9zM386.8 520.5h0.9v1.1h-0.9zM958.7 438.3h0.9v1.1h-0.9zM157.0 525.9h0.9v1.1h-0.9zM641.2 454.7h0.9v1.1h-0.9zM302.9 371.5h0.9v1.1h-0.9zM238.9 377.9h0.9v1.1h-0.9zM709.7 397.2h0.9v1.1h-0.9zM951.6 508.7h0.9v1.1h-0.9zM305.1 519.1h0.9v1.1h-0.9zM818.9 401.5h0.9v1.1h-0.9zM860.5 510.3h0.9v1.1h-0.9zM70.9 479.7h0.9v1.1h-0.9zM137.2 357.3h0.9v1.1h-0.9zM225.9 433.3h0.9v1.1h-0.9zM684.1 495.8h0.9v1.1h-0.9zM308.3 373.6h0.9v1.1h-0.9zM930.2 520.6h0.9v1.1h-0.9zM464.8 414.6h0.9v1.1h-0.9zM391.7 526.3h0.9v1.1h-0.9zM731.2 447.9h0.9v1.1h-0.9zM769.9 483.7h0.9v1.1h-0.9zM102.8 505.0h0.9v1.1h-0.9zM116.8 449.9h0.9v1.1h-0.9zM151.6 456.2h0.9v1.1h-0.9zM203.7 457.2h0.9v1.1h-0.9zM696.9 365.5h0.9v1.1h-0.9zM854.7 382.4h0.9v1.1h-0.9zM700.3 431.1h0.9v1.1h-0.9zM770.1 442.2h0.9v1.1h-0.9zM857.9 487.1h0.9v1.1h-0.9zM164.6 524.6h0.9v1.1h-0.9zM885.2 461.4h0.9v1.1h-0.9zM887.7 517.1h0.9v1.1h-0.9zM787.2 382.9h0.9v1.1h-0.9zM273.3 393.9h0.9v1.1h-0.9zM712.6 506.1h0.9v1.1h-0.9zM205.6 439.1h0.9v1.1h-0.9zM380.4 400.8h0.9v1.1h-0.9zM673.5 439.5h0.9v1.1h-0.9zM806.6 368.5h0.9v1.1h-0.9zM201.6 456.7h0.9v1.1h-0.9zM453.9 483.7h0.9v1.1h-0.9zM83.2 511.9h0.9v1.1h-0.9zM365.8 520.9h0.9v1.1h-0.9zM941.8 504.5h0.9v1.1h-0.9zM603.9 447.9h0.9v1.1h-0.9zM233.1 474.5h0.9v1.1h-0.9zM298.9 367.6h0.9v1.1h-0.9zM395.2 434.4h0.9v1.1h-0.9zM942.7 520.2h0.9v1.1h-0.9zM697.3 711.6h1.0v2.4h-1.0zM697.3 714.5h1.0v2.4h-1.0zM695.0 709.1h1.0v2.4h-1.0zM801.7 716.8h1.0v2.4h-1.0zM802.9 714.9h1.0v2.4h-1.0zM802.0 711.2h1.0v2.4h-1.0zM805.6 720.5h1.0v2.4h-1.0zM802.9 716.0h1.0v2.4h-1.0zM800.5 724.6h1.0v2.4h-1.0zM802.7 719.6h1.0v2.4h-1.0zM856.6 706.8h1.0v2.6h-1.0zM858.6 706.0h1.0v2.6h-1.0zM859.6 722.9h1.0v2.6h-1.0zM859.3 713.0h1.0v2.6h-1.0zM862.7 724.8h1.0v2.6h-1.0zM861.2 708.1h1.0v2.6h-1.0zM865.4 721.6h1.0v2.6h-1.0zM862.7 704.5h1.0v2.6h-1.0zM864.9 722.3h1.0v2.6h-1.0zM726.6 568.7h0.9v1.1h-0.9zM438.4 655.3h0.9v1.1h-0.9zM778.6 616.1h0.9v1.1h-0.9zM674.9 710.8h0.9v1.1h-0.9zM682.1 722.5h0.9v1.1h-0.9zM288.4 660.6h0.9v1.1h-0.9zM547.3 570.4h0.9v1.1h-0.9zM137.0 567.5h0.9v1.1h-0.9zM468.8 594.7h0.9v1.1h-0.9zM110.6 693.4h0.9v1.1h-0.9zM609.7 691.7h0.9v1.1h-0.9zM691.0 647.5h0.9v1.1h-0.9zM823.7 558.9h0.9v1.1h-0.9zM188.4 694.5h0.9v1.1h-0.9zM343.0 679.3h0.9v1.1h-0.9zM974.5 631.1h0.9v1.1h-0.9zM565.1 642.5h0.9v1.1h-0.9zM890.8 613.0h0.9v1.1h-0.9zM929.1 600.1h0.9v1.1h-0.9zM195.1 660.1h0.9v1.1h-0.9zM351.6 763.2h0.9v1.8h-0.9zM369.3 790.6h0.9v1.6h-0.9zM379.2 806.7h0.9v1.1h-0.9zM386.4 844.7h0.9v1.9h-0.9zM375.1 811.3h0.9v1.2h-0.9zM349.8 764.4h0.9v1.4h-0.9zM381.8 848.2h0.9v1.7h-0.9zM384.8 834.0h0.9v1.4h-0.9zM396.2 885.5h0.9v1.4h-0.9zM374.7 823.8h0.9v1.6h-0.9zM392.1 906.2h0.9v1.3h-0.9zM390.9 897.8h0.9v1.2h-0.9zM383.0 825.1h0.9v1.1h-0.9zM386.0 877.0h0.9v1.2h-0.9zM337.7 738.2h0.9v1.5h-0.9zM367.3 799.7h0.9v2.0h-0.9zM342.9 758.3h0.9v1.5h-0.9zM388.6 881.7h0.9v2.1h-0.9zM393.7 896.6h0.9v1.3h-0.9zM387.7 871.6h0.9v1.2h-0.9zM347.8 735.9h0.9v1.4h-0.9zM392.4 894.5h0.9v1.1h-0.9zM361.9 793.3h0.9v1.6h-0.9zM384.2 849.4h0.9v1.8h-0.9zM352.5 759.7h0.9v1.6h-0.9zM388.2 894.2h0.9v2.0h-0.9zM388.6 886.6h0.9v1.2h-0.9zM373.7 809.1h0.9v1.1h-0.9zM386.3 873.2h0.9v1.6h-0.9zM398.1 888.5h0.9v1.4h-0.9zM390.5 868.6h0.9v1.9h-0.9zM385.4 863.3h0.9v1.8h-0.9zM384.1 832.9h0.9v1.6h-0.9zM381.9 842.0h0.9v1.6h-0.9zM360.0 780.8h0.9v1.5h-0.9zM350.9 773.9h0.9v1.2h-0.9zM346.7 751.5h0.9v1.4h-0.9zM378.6 825.3h0.9v2.0h-0.9zM393.5 887.7h0.9v1.5h-0.9zM343.2 737.0h0.9v1.3h-0.9zM389.2 862.2h0.9v1.4h-0.9zM354.9 765.0h0.9v1.1h-0.9zM349.8 757.3h0.9v1.4h-0.9zM389.4 909.5h0.9v1.5h-0.9zM398.5 906.7h0.9v1.2h-0.9zM390.2 898.9h0.9v1.2h-0.9zM389.1 854.4h0.9v1.9h-0.9zM378.6 845.3h0.9v1.1h-0.9zM386.5 866.0h0.9v1.5h-0.9zM368.2 793.1h0.9v2.1h-0.9zM387.3 847.9h0.9v1.6h-0.9zM391.0 884.9h0.9v1.5h-0.9zM338.2 742.6h0.9v1.0h-0.9zM345.0 759.0h0.9v1.6h-0.9zM388.4 900.6h0.9v1.4h-0.9zM384.6 849.4h0.9v1.0h-0.9zM378.2 810.3h0.9v1.1h-0.9zM392.7 904.9h0.9v1.3h-0.9zM361.9 786.5h0.9v2.2h-0.9zM382.8 875.8h0.9v1.9h-0.9zM389.9 889.6h0.9v2.1h-0.9zM367.8 798.1h0.9v1.5h-0.9zM388.7 853.9h0.9v2.1h-0.9zM355.8 775.5h0.9v1.6h-0.9zM386.1 893.8h0.9v1.9h-0.9zM385.3 841.8h0.9v1.3h-0.9zM397.4 912.9h0.9v2.1h-0.9zM364.6 797.1h0.9v2.0h-0.9zM387.3 847.5h0.9v1.1h-0.9zM341.1 736.7h0.9v1.3h-0.9zM341.3 746.3h0.9v1.1h-0.9zM380.7 827.8h0.9v2.1h-0.9zM397.3 907.7h0.9v1.5h-0.9zM366.5 794.5h0.9v1.4h-0.9zM387.9 873.5h0.9v2.0h-0.9zM388.0 858.1h0.9v1.6h-0.9zM387.1 848.5h0.9v1.3h-0.9zM389.7 909.2h0.9v2.1h-0.9zM363.7 802.1h0.9v1.1h-0.9zM375.3 818.9h0.9v1.2h-0.9zM364.8 790.2h0.9v1.3h-0.9zM351.0 756.7h0.9v1.5h-0.9zM378.7 826.0h0.9v1.8h-0.9zM373.8 801.7h0.9v2.1h-0.9zM391.4 892.3h0.9v1.4h-0.9zM382.1 824.9h0.9v1.6h-0.9zM366.2 801.0h0.9v1.1h-0.9zM381.0 815.9h0.9v2.0h-0.9zM355.8 764.0h0.9v1.8h-0.9zM378.8 827.6h0.9v1.1h-0.9zM383.5 849.2h0.9v1.1h-0.9zM391.3 893.0h0.9v2.2h-0.9zM340.6 738.0h0.9v1.8h-0.9zM342.8 749.6h0.9v2.1h-0.9zM351.1 756.1h0.9v2.1h-0.9zM386.3 874.6h0.9v1.9h-0.9zM382.8 863.2h0.9v2.0h-0.9zM379.2 853.4h0.9v1.7h-0.9zM464.1 866.6h0.9v1.6h-0.9zM438.1 764.8h0.9v2.1h-0.9zM438.9 829.1h0.9v2.1h-0.9zM461.8 879.8h0.9v1.4h-0.9zM447.6 817.8h0.9v1.1h-0.9zM420.2 767.5h0.9v1.8h-0.9zM459.5 885.5h0.9v1.4h-0.9zM465.1 867.0h0.9v2.0h-0.9zM440.9 770.6h0.9v1.3h-0.9zM464.9 831.3h0.9v2.1h-0.9zM451.1 874.3h0.9v1.1h-0.9zM458.2 882.7h0.9v1.6h-0.9zM457.3 910.0h0.9v1.6h-0.9zM423.0 765.8h0.9v1.9h-0.9zM436.0 778.4h0.9v1.6h-0.9zM465.3 884.9h0.9v1.4h-0.9zM453.9 853.3h0.9v2.1h-0.9zM460.7 902.1h0.9v1.3h-0.9zM466.1 906.6h0.9v2.1h-0.9zM436.4 750.4h0.9v1.3h-0.9zM469.7 901.4h0.9v2.2h-0.9zM450.0 837.6h0.9v1.2h-0.9zM455.0 849.3h0.9v1.2h-0.9zM451.4 806.3h0.9v2.2h-0.9zM463.7 876.4h0.9v1.2h-0.9zM442.4 825.7h0.9v1.3h-0.9zM438.2 777.1h0.9v2.1h-0.9zM468.5 903.1h0.9v2.1h-0.9zM437.3 772.6h0.9v1.7h-0.9zM456.1 824.2h0.9v1.5h-0.9zM437.5 787.6h0.9v1.4h-0.9zM455.4 849.7h0.9v1.9h-0.9zM469.1 905.2h0.9v1.7h-0.9zM461.5 886.6h0.9v1.7h-0.9zM453.1 835.9h0.9v1.3h-0.9zM462.3 856.5h0.9v1.5h-0.9zM445.4 822.4h0.9v1.1h-0.9zM454.0 906.5h0.9v1.1h-0.9zM464.0 889.9h0.9v1.0h-0.9zM466.3 895.9h0.9v1.6h-0.9zM423.6 761.8h0.9v1.4h-0.9zM456.3 842.7h0.9v1.7h-0.9zM448.7 796.7h0.9v1.4h-0.9zM455.5 829.1h0.9v1.5h-0.9zM649.3 805.3h0.9v1.1h-0.9zM667.1 892.3h0.9v2.1h-0.9zM666.5 870.1h0.9v2.1h-0.9zM663.7 875.4h0.9v1.7h-0.9zM647.8 782.8h0.9v1.3h-0.9zM658.9 857.8h0.9v1.4h-0.9zM631.6 774.6h0.9v1.6h-0.9zM639.7 775.6h0.9v1.0h-0.9zM664.3 859.1h0.9v2.0h-0.9zM657.9 854.9h0.9v1.6h-0.9zM665.5 905.7h0.9v1.9h-0.9zM646.4 776.3h0.9v1.3h-0.9zM631.1 749.2h0.9v2.2h-0.9zM642.0 778.0h0.9v1.4h-0.9zM644.5 802.4h0.9v1.4h-0.9zM654.1 825.9h0.9v1.8h-0.9zM655.2 850.2h0.9v2.2h-0.9zM632.2 746.2h0.9v1.1h-0.9zM662.2 893.5h0.9v1.6h-0.9zM645.7 797.1h0.9v1.9h-0.9zM641.1 757.8h0.9v1.4h-0.9zM652.6 805.3h0.9v2.0h-0.9zM636.7 758.2h0.9v1.9h-0.9zM663.6 893.9h0.9v1.1h-0.9zM643.8 797.3h0.9v1.8h-0.9zM634.6 766.0h0.9v2.1h-0.9zM632.9 746.3h0.9v1.9h-0.9zM640.3 761.7h0.9v1.0h-0.9zM665.0 885.8h0.9v1.4h-0.9zM648.7 800.2h0.9v1.8h-0.9zM661.8 888.6h0.9v1.9h-0.9zM644.2 796.5h0.9v2.2h-0.9zM632.6 737.0h0.9v1.2h-0.9zM663.7 870.7h0.9v1.5h-0.9zM656.5 850.5h0.9v2.1h-0.9zM632.9 751.1h0.9v1.8h-0.9zM653.7 818.0h0.9v1.4h-0.9zM660.0 888.7h0.9v1.5h-0.9zM626.9 747.5h0.9v1.7h-0.9zM657.8 860.8h0.9v1.4h-0.9zM663.4 887.8h0.9v1.0h-0.9zM666.8 901.9h0.9v1.4h-0.9zM658.7 907.4h0.9v1.3h-0.9zM662.4 877.0h0.9v2.1h-0.9zM652.5 836.6h0.9v1.5h-0.9zM643.1 786.9h0.9v2.2h-0.9zM657.1 880.3h0.9v1.4h-0.9zM644.6 772.8h0.9v1.6h-0.9zM653.6 831.6h0.9v2.0h-0.9zM655.8 848.8h0.9v2.0h-0.9zM663.2 863.2h0.9v1.3h-0.9zM658.7 846.9h0.9v2.1h-0.9zM669.2 904.2h0.9v1.3h-0.9zM635.5 735.9h0.9v1.0h-0.9zM662.8 877.5h0.9v1.9h-0.9zM662.2 858.2h0.9v2.1h-0.9zM647.6 803.4h0.9v1.2h-0.9zM650.5 828.9h0.9v1.1h-0.9zM646.6 802.7h0.9v1.4h-0.9zM659.9 893.6h0.9v1.2h-0.9zM640.9 784.8h0.9v1.3h-0.9zM664.9 872.2h0.9v1.5h-0.9zM654.9 834.3h0.9v2.1h-0.9zM644.7 774.5h0.9v1.5h-0.9zM657.8 870.7h0.9v1.3h-0.9zM655.5 853.1h0.9v2.1h-0.9zM658.8 862.0h0.9v1.3h-0.9zM645.4 772.7h0.9v1.2h-0.9zM658.7 854.0h0.9v1.4h-0.9zM645.4 762.8h0.9v2.0h-0.9zM662.5 865.8h0.9v1.1h-0.9zM667.7 909.1h0.9v1.7h-0.9zM657.6 836.5h0.9v1.5h-0.9zM633.5 738.9h0.9v1.5h-0.9zM774.2 843.7h0.9v1.7h-0.9zM761.8 796.8h0.9v2.2h-0.9zM781.6 888.1h0.9v1.0h-0.9zM758.6 772.4h0.9v1.0h-0.9zM764.5 794.7h0.9v1.7h-0.9zM775.2 826.0h0.9v2.0h-0.9zM761.9 785.0h0.9v1.4h-0.9zM764.4 792.7h0.9v1.3h-0.9zM763.1 827.7h0.9v2.2h-0.9zM760.3 760.8h0.9v2.0h-0.9zM779.4 845.0h0.9v2.0h-0.9zM763.2 825.4h0.9v1.2h-0.9zM777.8 822.9h0.9v2.1h-0.9zM763.5 820.7h0.9v2.0h-0.9zM758.8 777.4h0.9v1.5h-0.9zM762.2 758.9h0.9v1.4h-0.9zM760.9 825.1h0.9v1.4h-0.9zM759.4 793.7h0.9v1.5h-0.9zM780.0 886.6h0.9v1.4h-0.9zM778.2 891.2h0.9v1.5h-0.9zM745.9 746.9h0.9v2.2h-0.9zM779.9 909.1h0.9v1.4h-0.9zM764.0 747.4h0.9v1.9h-0.9zM769.6 777.1h0.9v1.4h-0.9zM761.4 772.4h0.9v2.0h-0.9zM760.0 757.8h0.9v2.1h-0.9zM766.0 817.5h0.9v1.4h-0.9zM761.2 766.6h0.9v2.1h-0.9zM779.9 870.1h0.9v1.6h-0.9zM769.7 833.6h0.9v1.8h-0.9zM783.6 872.1h0.9v1.5h-0.9zM751.1 741.1h0.9v2.0h-0.9zM776.0 835.9h0.9v1.4h-0.9zM782.4 863.9h0.9v1.6h-0.9zM755.2 738.1h0.9v1.3h-0.9zM755.2 760.0h0.9v1.3h-0.9zM783.2 893.9h0.9v2.1h-0.9zM778.3 852.8h0.9v2.2h-0.9zM765.8 773.8h0.9v2.1h-0.9zM777.3 850.0h0.9v1.1h-0.9zM771.8 834.3h0.9v1.1h-0.9zM752.4 738.8h0.9v1.6h-0.9zM777.2 824.5h0.9v1.6h-0.9zM757.5 760.9h0.9v1.7h-0.9zM754.0 750.0h0.9v1.0h-0.9zM784.6 902.7h0.9v1.3h-0.9zM780.7 860.6h0.9v1.4h-0.9zM754.0 772.2h0.9v1.7h-0.9zM767.8 773.9h0.9v1.4h-0.9zM770.9 796.6h0.9v1.1h-0.9zM780.6 859.0h0.9v1.4h-0.9zM761.1 801.5h0.9v1.1h-0.9zM776.0 835.5h0.9v1.5h-0.9zM777.9 913.9h0.9v1.3h-0.9zM760.5 764.7h0.9v1.3h-0.9zM780.6 871.2h0.9v1.6h-0.9zM775.8 781.1h0.9v1.8h-0.9zM765.6 814.9h0.9v1.1h-0.9zM785.0 895.7h0.9v1.4h-0.9zM775.8 814.0h0.9v1.7h-0.9zM773.2 810.4h0.9v2.2h-0.9zM780.0 888.4h0.9v2.1h-0.9zM795.0 913.6h0.9v1.3h-0.9zM772.2 785.6h0.9v1.5h-0.9zM784.3 888.9h0.9v1.1h-0.9zM771.3 798.3h0.9v1.3h-0.9zM789.9 906.4h0.9v2.0h-0.9zM769.2 828.6h0.9v1.5h-0.9zM773.9 843.6h0.9v2.1h-0.9zM758.3 778.8h0.9v1.7h-0.9zM775.6 883.0h0.9v2.0h-0.9zM770.4 811.4h0.9v1.7h-0.9zM765.4 788.5h0.9v1.9h-0.9zM792.2 909.0h0.9v2.2h-0.9zM765.8 879.1h0.9v1.3h-0.9zM778.7 842.9h0.9v1.6h-0.9zM767.5 799.4h0.9v1.7h-0.9zM753.8 787.6h0.9v1.8h-0.9zM754.7 753.6h0.9v2.1h-0.9zM750.8 741.2h0.9v2.0h-0.9zM756.9 776.4h0.9v1.8h-0.9zM774.9 854.5h0.9v1.1h-0.9zM783.8 878.2h0.9v1.2h-0.9zM758.1 744.6h0.9v1.7h-0.9zM779.2 891.1h0.9v1.8h-0.9zM768.6 784.8h0.9v1.6h-0.9zM754.7 781.1h0.9v1.8h-0.9zM773.8 853.6h0.9v1.7h-0.9zM783.4 906.5h0.9v2.1h-0.9zM775.1 801.0h0.9v1.5h-0.9zM775.0 867.0h0.9v2.0h-0.9zM771.2 797.0h0.9v1.2h-0.9zM767.1 789.2h0.9v1.2h-0.9zM768.7 809.5h0.9v1.4h-0.9zM775.2 897.2h0.9v2.0h-0.9zM769.1 802.7h0.9v2.2h-0.9zM765.0 788.8h0.9v1.4h-0.9zM778.7 909.6h0.9v1.2h-0.9zM765.9 774.2h0.9v1.4h-0.9zM761.0 807.2h0.9v1.6h-0.9zM781.2 895.7h0.9v1.5h-0.9zM778.0 882.1h0.9v1.2h-0.9zM758.1 774.0h0.9v1.6h-0.9zM780.7 836.8h0.9v1.1h-0.9zM768.5 828.2h0.9v2.0h-0.9zM776.6 838.6h0.9v1.0h-0.9zM780.6 892.9h0.9v2.1h-0.9zM773.3 892.1h0.9v1.5h-0.9zM778.7 897.6h0.9v1.9h-0.9zM779.4 894.1h0.9v1.1h-0.9zM768.1 771.8h0.9v1.9h-0.9zM778.2 856.3h0.9v1.4h-0.9zM788.0 870.2h0.9v1.9h-0.9zM771.2 817.5h0.9v1.6h-0.9zM766.4 807.5h0.9v2.1h-0.9zM774.5 813.2h0.9v1.8h-0.9zM773.4 839.7h0.9v2.2h-0.9zM772.4 841.6h0.9v1.6h-0.9zM770.9 823.0h0.9v1.9h-0.9zM753.0 736.8h0.9v1.8h-0.9zM758.1 770.0h0.9v1.9h-0.9zM760.7 762.2h0.9v1.6h-0.9zM782.8 884.4h0.9v2.0h-0.9zM776.8 832.8h0.9v1.5h-0.9zM777.2 906.4h0.9v1.0h-0.9zM755.0 745.2h0.9v1.0h-0.9zM753.9 737.8h0.9v1.5h-0.9zM826.0 829.1h1.0v1.1h-1.0zM810.9 754.7h1.0v2.5h-1.0zM817.2 785.0h1.0v1.4h-1.0zM808.9 743.3h1.0v2.4h-1.0zM822.2 809.1h1.0v3.1h-1.0zM809.3 748.9h1.0v2.4h-1.0zM810.2 751.3h1.0v1.9h-1.0zM829.2 847.9h1.0v3.4h-1.0zM814.1 776.2h1.0v2.5h-1.0zM837.1 794.5h1.0v1.8h-1.0zM838.0 805.2h1.0v2.6h-1.0zM837.3 797.7h1.0v1.7h-1.0zM837.6 796.9h1.0v3.7h-1.0zM838.5 807.6h1.0v1.9h-1.0zM944.5 878.9h0.9v1.3h-0.9zM934.0 817.0h0.9v2.1h-0.9zM934.9 813.2h0.9v2.0h-0.9zM939.5 867.6h0.9v1.4h-0.9zM934.3 822.6h0.9v1.9h-0.9zM934.6 828.0h0.9v1.3h-0.9zM943.4 889.6h0.9v1.5h-0.9zM942.0 884.9h0.9v1.4h-0.9zM941.5 847.4h0.9v2.0h-0.9zM931.5 776.0h0.9v1.5h-0.9zM941.8 877.8h0.9v2.2h-0.9zM942.5 878.3h0.9v1.0h-0.9zM929.7 774.2h0.9v1.0h-0.9zM939.7 883.4h0.9v1.8h-0.9zM937.1 854.1h0.9v1.1h-0.9zM932.2 781.6h0.9v1.4h-0.9zM937.2 831.1h0.9v1.9h-0.9zM935.4 782.2h0.9v2.1h-0.9zM934.0 829.2h0.9v2.1h-0.9zM935.8 818.0h0.9v2.1h-0.9zM932.5 797.6h0.9v1.7h-0.9zM716.3 842.9h1.0v3.6h-1.0zM715.3 914.1h1.0v2.3h-1.0zM700.6 842.7h1.0v1.3h-1.0zM693.5 785.1h1.0v2.7h-1.0zM690.4 760.3h1.0v1.4h-1.0zM702.6 849.7h1.0v2.7h-1.0zM718.7 883.5h1.0v1.2h-1.0zM688.0 779.6h1.0v3.2h-1.0zM716.2 908.7h1.0v3.9h-1.0zM708.3 789.0h1.0v2.5h-1.0zM702.6 859.6h1.0v1.1h-1.0zM703.9 797.4h1.0v3.4h-1.0zM699.8 855.5h1.0v3.0h-1.0zM724.9 901.8h1.0v1.1h-1.0zM708.3 908.9h1.0v2.5h-1.0zM719.9 881.7h1.0v3.9h-1.0zM690.7 781.5h1.0v1.8h-1.0zM696.9 817.3h1.0v1.9h-1.0zM716.9 867.8h1.0v2.0h-1.0zM716.0 887.6h1.0v1.9h-1.0zM683.5 755.5h1.0v3.3h-1.0zM711.5 828.1h1.0v2.1h-1.0zM584.5 807.4h1.0v3.3h-1.0zM585.9 913.1h1.0v4.2h-1.0zM585.7 860.6h1.0v3.9h-1.0zM587.4 843.1h1.0v3.6h-1.0zM585.2 841.4h1.0v3.9h-1.0zM585.2 847.4h1.0v1.3h-1.0zM586.9 870.2h1.0v3.3h-1.0zM589.6 913.8h1.0v1.9h-1.0zM622.2 908.8h0.9v1.6h-0.9zM619.8 833.7h0.9v1.3h-0.9zM605.9 837.1h0.9v2.0h-0.9zM593.9 755.5h0.9v1.4h-0.9zM629.2 873.7h0.9v1.6h-0.9zM595.0 790.1h0.9v2.2h-0.9zM631.0 896.6h0.9v1.6h-0.9zM627.4 867.7h0.9v1.2h-0.9zM603.7 756.2h0.9v1.4h-0.9zM618.5 857.2h0.9v1.5h-0.9zM590.9 741.2h0.9v1.6h-0.9zM597.8 796.3h0.9v1.9h-0.9zM603.8 747.9h0.9v1.7h-0.9zM605.9 774.8h0.9v1.0h-0.9zM629.3 889.3h0.9v1.5h-0.9zM624.7 870.8h0.9v1.8h-0.9zM622.0 898.1h0.9v2.0h-0.9zM611.6 834.9h0.9v1.0h-0.9zM599.1 742.8h0.9v1.4h-0.9zM621.2 865.1h0.9v1.9h-0.9zM616.3 873.7h0.9v1.6h-0.9zM618.4 869.2h0.9v1.9h-0.9zM605.5 760.4h0.9v2.2h-0.9zM619.2 888.9h0.9v2.0h-0.9zM611.6 807.8h0.9v1.2h-0.9zM615.9 839.9h0.9v2.1h-0.9zM625.2 870.1h0.9v1.4h-0.9zM730.5 738.8h1.0v1.4h-1.0zM748.0 905.8h1.0v3.2h-1.0zM750.0 855.9h1.0v3.6h-1.0zM740.1 886.4h1.0v1.7h-1.0zM745.1 852.3h1.0v3.8h-1.0zM734.2 768.3h1.0v1.2h-1.0zM727.9 742.9h1.0v4.3h-1.0zM753.3 896.6h1.0v4.8h-1.0zM743.3 847.7h1.0v3.3h-1.0zM732.7 794.5h1.0v2.0h-1.0zM741.4 859.0h1.0v1.6h-1.0zM745.2 859.1h1.0v2.6h-1.0zM749.0 849.9h1.0v3.8h-1.0zM745.5 828.1h1.0v2.2h-1.0zM754.4 913.8h1.0v4.7h-1.0zM800.5 862.2h1.0v1.0h-1.0zM796.9 785.8h1.0v2.1h-1.0zM801.8 884.0h1.0v2.7h-1.0zM798.9 880.5h1.0v2.4h-1.0zM803.7 818.7h1.0v2.0h-1.0zM787.6 785.3h1.0v3.7h-1.0zM797.5 837.9h1.0v1.7h-1.0zM807.5 829.6h1.0v3.8h-1.0zM799.5 813.2h1.0v1.9h-1.0zM792.2 837.1h1.0v2.5h-1.0zM796.9 810.1h1.0v2.3h-1.0zM796.8 811.1h1.0v2.0h-1.0zM802.0 832.9h1.0v1.1h-1.0zM794.6 765.1h1.0v3.7h-1.0zM813.9 888.2h1.0v1.8h-1.0zM797.6 876.3h1.0v1.5h-1.0zM789.6 779.1h1.0v3.9h-1.0zM807.5 895.9h1.0v3.0h-1.0zM801.8 871.3h1.0v2.6h-1.0zM790.1 796.3h1.0v1.5h-1.0zM807.2 864.1h1.0v1.3h-1.0zM798.9 740.4h1.0v2.8h-1.0zM800.5 832.4h1.0v2.7h-1.0zM806.6 888.6h1.0v3.6h-1.0zM817.1 896.8h1.0v3.1h-1.0zM788.5 751.7h1.0v1.7h-1.0zM789.1 786.7h1.0v2.6h-1.0zM800.4 855.0h1.0v3.3h-1.0zM804.0 842.0h1.0v3.4h-1.0zM803.8 871.1h0.9v1.1h-0.9zM660.4 736.5h0.9v1.1h-0.9zM757.1 767.7h0.9v1.1h-0.9zM377.7 883.2h0.9v1.1h-0.9zM709.7 842.1h0.9v1.1h-0.9zM279.6 754.9h0.9v1.1h-0.9zM774.0 801.3h0.9v1.1h-0.9zM735.0 849.8h0.9v1.1h-0.9zM738.6 891.8h0.9v1.1h-0.9zM79.3 853.2h0.9v1.1h-0.9zM873.8 845.7h0.9v1.1h-0.9zM490.2 749.2h0.9v1.1h-0.9zM322.4 817.2h0.9v1.1h-0.9zM955.2 901.5h0.9v1.1h-0.9zM208.1 761.4h0.9v1.1h-0.9zM189.6 892.8h0.9v1.1h-0.9zM768.7 819.4h0.9v1.1h-0.9zM160.4 787.5h0.9v1.1h-0.9zM370.6 776.2h0.9v1.1h-0.9zM890.0 854.9h0.9v1.1h-0.9zM206.5 822.1h0.9v1.1h-0.9zM592.8 762.9h0.9v1.1h-0.9zM427.0 808.8h0.9v1.1h-0.9zM131.4 843.5h0.9v1.1h-0.9zM526.9 783.2h0.9v1.1h-0.9zM723.6 800.0h0.9v1.1h-0.9zM200.5 910.7h0.9v1.1h-0.9zM251.7 781.7h0.9v1.1h-0.9zM187.4 822.0h0.9v1.1h-0.9zM911.8 913.0h0.9v1.1h-0.9zM510.3 857.7h0.9v1.1h-0.9zM821.9 753.0h0.9v1.1h-0.9zM173.4 822.9h0.9v1.1h-0.9zM770.1 761.8h0.9v1.1h-0.9zM292.8 905.7h0.9v1.1h-0.9zM985.0 846.5h0.9v1.1h-0.9zM590.0 899.5h0.9v1.1h-0.9zM248.4 809.0h0.9v1.1h-0.9zM242.4 792.7h0.9v1.1h-0.9zM689.0 910.4h0.9v1.1h-0.9zM703.7 830.5h0.9v1.1h-0.9zM279.5 763.5h0.9v1.1h-0.9zM958.1 838.9h0.9v1.1h-0.9zM846.3 778.5h0.9v1.1h-0.9zM557.3 823.6h0.9v1.1h-0.9zM611.5 798.2h0.9v1.1h-0.9zM366.6 826.2h0.9v1.1h-0.9zM615.8 909.6h0.9v1.1h-0.9zM696.3 879.5h0.9v1.1h-0.9zM151.4 828.8h0.9v1.1h-0.9zM632.2 887.9h0.9v1.1h-0.9zM416.8 881.5h0.9v1.1h-0.9zM460.7 895.5h0.9v1.1h-0.9zM189.1 868.0h0.9v1.1h-0.9zM913.5 872.9h0.9v1.1h-0.9zM305.3 737.6h0.9v1.1h-0.9zM219.9 857.7h0.9v1.1h-0.9zM356.4 865.1h0.9v1.1h-0.9zM406.2 765.2h0.9v1.1h-0.9zM701.5 837.7h0.9v1.1h-0.9z"/>
<path fill="#00b2ff" d="M166.4 415.5h0.9v1.4h-0.9zM167.8 416.5h0.9v1.4h-0.9zM166.5 412.9h0.9v1.4h-0.9zM169.3 417.3h0.9v1.4h-0.9zM362.3 407.9h0.9v1.4h-0.9zM363.4 411.2h0.9v1.4h-0.9zM362.7 414.8h0.9v1.4h-0.9zM358.3 408.1h0.9v1.4h-0.9zM368.3 413.5h0.9v1.4h-0.9zM370.0 398.8h0.9v1.4h-0.9zM377.7 418.5h0.9v1.4h-0.9zM374.9 410.3h0.9v1.4h-0.9zM370.3 395.4h0.9v1.4h-0.9zM380.1 407.7h0.9v1.4h-0.9zM382.4 406.8h0.9v1.4h-0.9zM392.7 424.4h0.9v1.4h-0.9zM369.7 410.2h0.9v1.4h-0.9zM380.4 418.1h0.9v1.4h-0.9zM386.6 423.1h0.9v1.4h-0.9zM381.5 424.8h0.9v1.4h-0.9zM383.2 427.3h0.9v1.4h-0.9zM504.1 427.5h0.9v1.4h-0.9zM504.2 402.4h0.9v1.4h-0.9zM499.9 416.1h0.9v1.4h-0.9zM497.4 400.2h0.9v1.4h-0.9zM493.8 410.0h0.9v1.4h-0.9zM500.5 405.4h0.9v1.4h-0.9zM502.1 405.8h0.9v1.4h-0.9zM505.5 410.5h0.9v1.4h-0.9zM498.5 417.4h0.9v1.4h-0.9zM498.8 395.9h0.9v1.4h-0.9zM503.8 417.0h0.9v1.4h-0.9zM511.0 430.4h0.9v1.4h-0.9zM505.6 427.5h0.9v1.4h-0.9zM497.4 415.4h0.9v1.4h-0.9zM505.0 433.2h0.9v1.4h-0.9zM502.0 411.8h0.9v1.4h-0.9zM511.2 420.7h0.9v1.4h-0.9zM510.1 426.5h0.9v1.4h-0.9zM503.2 435.0h0.9v1.4h-0.9zM506.1 419.3h0.9v1.4h-0.9zM498.1 427.0h0.9v1.4h-0.9zM500.0 429.4h0.9v1.4h-0.9zM501.0 406.8h0.9v1.4h-0.9zM504.6 422.6h0.9v1.4h-0.9zM564.3 420.3h0.9v1.4h-0.9zM566.5 418.0h0.9v1.4h-0.9zM564.2 414.3h0.9v1.4h-0.9zM557.7 400.7h0.9v1.4h-0.9zM558.4 408.2h0.9v1.4h-0.9zM560.3 413.5h0.9v1.4h-0.9zM558.8 410.3h0.9v1.4h-0.9zM559.4 402.8h0.9v1.4h-0.9zM657.1 411.8h0.9v1.4h-0.9zM780.8 412.8h0.9v1.4h-0.9zM781.3 423.4h0.9v1.4h-0.9zM786.0 407.3h0.9v1.4h-0.9zM782.8 420.8h0.9v1.4h-0.9zM782.8 419.3h0.9v1.4h-0.9zM779.3 421.5h0.9v1.4h-0.9zM778.7 415.8h0.9v1.4h-0.9zM781.5 421.6h0.9v1.4h-0.9zM783.4 421.5h0.9v1.4h-0.9zM777.5 411.3h0.9v1.4h-0.9zM786.8 421.1h0.9v1.4h-0.9zM786.2 414.7h0.9v1.4h-0.9zM786.5 417.3h0.9v1.4h-0.9zM785.0 422.4h0.9v1.4h-0.9zM779.2 411.6h0.9v1.4h-0.9zM780.2 413.9h0.9v1.4h-0.9zM776.0 404.4h0.9v1.4h-0.9zM785.2 405.4h0.9v1.4h-0.9zM894.6 407.0h0.9v1.4h-0.9zM889.2 407.0h0.9v1.4h-0.9zM891.1 415.3h0.9v1.4h-0.9zM888.8 424.2h0.9v1.4h-0.9zM889.2 431.4h0.9v1.4h-0.9zM887.8 420.3h0.9v1.4h-0.9zM888.9 406.9h0.9v1.4h-0.9zM884.3 409.6h0.9v1.4h-0.9zM897.3 422.9h0.9v1.4h-0.9zM891.0 406.0h0.9v1.4h-0.9zM893.8 404.0h0.9v1.4h-0.9zM893.2 415.3h0.9v1.4h-0.9zM944.9 415.7h0.9v1.4h-0.9zM944.7 412.1h0.9v1.4h-0.9zM947.2 410.2h0.9v1.4h-0.9zM946.1 415.7h0.9v1.4h-0.9zM679.4 524.1h0.9v1.4h-0.9zM676.6 513.8h0.9v1.4h-0.9zM680.2 537.8h0.9v1.4h-0.9zM675.8 532.1h0.9v1.4h-0.9zM825.0 522.7h0.9v1.4h-0.9zM822.9 518.6h0.9v1.4h-0.9zM831.1 525.7h0.9v1.4h-0.9zM825.1 521.3h0.9v1.4h-0.9zM826.4 512.0h0.9v1.4h-0.9zM830.6 529.6h0.9v1.4h-0.9zM149.9 516.4h0.9v1.1h-0.9zM663.2 358.9h0.9v1.1h-0.9zM802.4 715.1h1.0v2.4h-1.0zM284.7 594.1h0.9v1.1h-0.9zM371.3 805.4h0.9v1.7h-0.9zM394.7 914.4h0.9v1.7h-0.9zM344.5 751.4h0.9v2.2h-0.9zM367.6 801.5h0.9v1.4h-0.9zM390.3 872.8h0.9v1.7h-0.9zM357.8 768.6h0.9v1.8h-0.9zM394.8 857.6h0.9v1.9h-0.9zM394.3 884.0h0.9v1.6h-0.9zM390.8 866.2h0.9v1.4h-0.9zM367.2 799.6h0.9v1.5h-0.9zM387.6 851.7h0.9v1.2h-0.9zM379.9 820.1h0.9v1.4h-0.9zM361.6 778.8h0.9v1.9h-0.9zM393.7 908.3h0.9v1.1h-0.9zM389.7 848.1h0.9v1.4h-0.9zM461.0 872.3h0.9v1.6h-0.9zM442.3 753.1h0.9v2.0h-0.9zM461.2 908.8h0.9v1.8h-0.9zM459.1 862.4h0.9v2.0h-0.9zM427.7 756.3h0.9v1.8h-0.9zM474.4 865.2h0.9v1.3h-0.9zM432.5 765.5h0.9v1.2h-0.9zM427.0 764.8h0.9v1.4h-0.9zM465.4 884.6h0.9v1.2h-0.9zM432.2 779.3h0.9v1.3h-0.9zM445.0 784.5h0.9v1.5h-0.9zM637.7 756.0h0.9v1.8h-0.9zM652.8 814.7h0.9v2.2h-0.9zM634.4 751.0h0.9v2.0h-0.9zM641.4 759.9h0.9v2.0h-0.9zM636.9 751.9h0.9v2.1h-0.9zM649.3 806.5h0.9v2.0h-0.9zM649.3 803.1h0.9v1.8h-0.9zM660.8 914.0h0.9v1.8h-0.9zM645.8 775.9h0.9v1.7h-0.9zM635.0 737.4h0.9v1.9h-0.9zM661.3 869.5h0.9v1.2h-0.9zM642.9 778.3h0.9v1.0h-0.9zM659.4 870.0h0.9v1.3h-0.9zM791.2 899.5h0.9v1.2h-0.9zM765.2 755.7h0.9v1.7h-0.9zM783.5 902.8h0.9v1.9h-0.9zM765.7 819.4h0.9v1.1h-0.9zM758.9 776.4h0.9v2.0h-0.9zM760.9 793.3h0.9v1.2h-0.9zM765.9 809.4h0.9v1.5h-0.9zM760.6 764.9h0.9v1.4h-0.9zM786.3 896.1h0.9v1.0h-0.9zM775.3 874.3h0.9v1.2h-0.9zM753.4 736.3h0.9v1.5h-0.9zM772.4 893.1h0.9v2.0h-0.9zM773.3 892.4h0.9v1.0h-0.9zM773.2 855.4h0.9v1.9h-0.9zM764.5 863.6h0.9v1.4h-0.9zM764.7 762.8h0.9v1.4h-0.9zM763.9 761.9h0.9v1.9h-0.9zM770.3 806.6h0.9v1.7h-0.9zM760.2 765.8h0.9v1.5h-0.9zM807.5 746.6h1.0v2.9h-1.0zM826.9 840.2h1.0v2.1h-1.0zM838.1 805.6h1.0v3.3h-1.0zM945.1 895.4h0.9v2.1h-0.9zM938.8 833.0h0.9v1.3h-0.9zM937.9 859.8h0.9v1.8h-0.9zM943.0 902.9h0.9v1.1h-0.9zM940.1 867.3h0.9v1.2h-0.9zM940.6 879.5h0.9v1.7h-0.9zM942.2 882.3h0.9v2.1h-0.9zM941.0 864.9h0.9v1.8h-0.9zM939.6 851.4h0.9v1.2h-0.9zM935.7 802.5h0.9v1.4h-0.9zM941.0 849.3h0.9v1.3h-0.9zM945.3 901.8h0.9v1.2h-0.9zM941.1 850.6h0.9v1.0h-0.9zM704.1 881.2h1.0v2.1h-1.0zM702.3 786.0h1.0v2.0h-1.0zM675.0 743.0h1.0v2.1h-1.0zM698.6 847.0h1.0v3.2h-1.0zM696.0 791.2h1.0v2.1h-1.0zM715.7 869.1h1.0v1.4h-1.0zM705.2 890.9h1.0v3.6h-1.0zM707.9 751.5h1.0v3.8h-1.0zM713.6 859.3h1.0v1.0h-1.0zM713.5 905.3h1.0v1.5h-1.0zM703.2 857.0h1.0v3.3h-1.0zM696.0 782.0h1.0v2.2h-1.0zM707.5 799.9h1.0v2.8h-1.0zM708.2 816.3h1.0v2.1h-1.0zM707.5 851.8h1.0v2.8h-1.0zM702.4 889.3h1.0v1.6h-1.0zM691.4 759.8h1.0v3.6h-1.0zM709.6 882.0h1.0v3.7h-1.0zM696.8 841.9h1.0v1.3h-1.0zM696.9 806.5h1.0v2.4h-1.0zM705.1 799.2h1.0v1.7h-1.0zM744.8 870.0h1.0v2.9h-1.0zM752.3 913.9h1.0v4.8h-1.0zM739.8 766.0h1.0v4.1h-1.0zM807.4 881.0h1.0v3.1h-1.0zM804.9 874.7h1.0v2.3h-1.0zM785.2 743.0h1.0v3.7h-1.0zM792.8 770.7h1.0v2.6h-1.0zM801.0 795.9h1.0v3.1h-1.0zM810.2 884.7h1.0v3.2h-1.0zM804.7 824.2h1.0v3.9h-1.0zM795.4 828.5h1.0v3.1h-1.0zM801.3 820.2h1.0v3.2h-1.0zM799.2 834.1h1.0v2.2h-1.0zM810.8 864.6h1.0v2.0h-1.0zM817.0 900.6h1.0v2.8h-1.0zM803.1 829.8h1.0v1.4h-1.0zM788.0 766.0h1.0v2.2h-1.0zM817.4 897.1h1.0v2.7h-1.0zM790.3 738.7h1.0v1.1h-1.0zM938.3 882.5h0.9v1.1h-0.9zM201.6 874.6h0.9v1.1h-0.9z"/>
<path fill="#0000b2" d="M176.3 420.3h0.9v1.4h-0.9zM174.2 426.7h0.9v1.4h-0.9zM170.1 413.4h0.9v1.4h-0.9zM177.0 419.9h0.9v1.4h-0.9zM358.8 394.2h0.9v1.4h-0.9zM369.8 430.1h0.9v1.4h-0.9zM363.8 433.0h0.9v1.4h-0.9zM363.8 399.1h0.9v1.4h-0.9zM354.9 393.7h0.9v1.4h-0.9zM398.9 451.9h0.9v1.4h-0.9zM391.6 398.9h0.9v1.4h-0.9zM361.4 403.9h0.9v1.4h-0.9zM384.8 448.5h0.9v1.4h-0.9zM362.4 386.2h0.9v1.4h-0.9zM380.4 389.3h0.9v1.4h-0.9zM375.5 440.1h0.9v1.4h-0.9zM393.1 448.3h0.9v1.4h-0.9zM380.6 378.8h0.9v1.4h-0.9zM371.5 437.0h0.9v1.4h-0.9zM380.4 385.3h0.9v1.4h-0.9zM366.0 423.9h0.9v1.4h-0.9zM401.7 439.2h0.9v1.4h-0.9zM387.7 396.5h0.9v1.4h-0.9zM367.4 382.8h0.9v1.4h-0.9zM383.2 387.6h0.9v1.4h-0.9zM374.0 381.8h0.9v1.4h-0.9zM492.8 433.4h0.9v1.4h-0.9zM481.0 377.2h0.9v1.4h-0.9zM510.3 446.4h0.9v1.4h-0.9zM486.4 406.0h0.9v1.4h-0.9zM516.5 453.3h0.9v1.4h-0.9zM486.3 383.0h0.9v1.4h-0.9zM495.6 443.6h0.9v1.4h-0.9zM563.4 435.7h0.9v1.4h-0.9zM563.3 401.3h0.9v1.4h-0.9zM571.8 410.3h0.9v1.4h-0.9zM553.0 389.1h0.9v1.4h-0.9zM557.4 390.5h0.9v1.4h-0.9zM568.6 436.8h0.9v1.4h-0.9zM571.4 441.1h0.9v1.4h-0.9zM557.9 431.0h0.9v1.4h-0.9zM549.5 397.1h0.9v1.4h-0.9zM653.5 415.9h0.9v1.4h-0.9zM654.4 401.5h0.9v1.4h-0.9zM655.1 401.2h0.9v1.4h-0.9zM653.5 416.3h0.9v1.4h-0.9zM665.5 420.8h0.9v1.4h-0.9zM652.6 409.6h0.9v1.4h-0.9zM776.3 391.2h0.9v1.4h-0.9zM790.9 424.2h0.9v1.4h-0.9zM789.8 399.4h0.9v1.4h-0.9zM779.6 437.5h0.9v1.4h-0.9zM792.4 401.2h0.9v1.4h-0.9zM778.2 391.6h0.9v1.4h-0.9zM786.4 440.0h0.9v1.4h-0.9zM900.8 402.0h0.9v1.4h-0.9zM894.6 440.9h0.9v1.4h-0.9zM902.9 423.3h0.9v1.4h-0.9zM900.0 410.6h0.9v1.4h-0.9zM904.5 426.0h0.9v1.4h-0.9zM885.5 443.0h0.9v1.4h-0.9zM888.2 440.6h0.9v1.4h-0.9zM883.8 431.9h0.9v1.4h-0.9zM901.9 407.3h0.9v1.4h-0.9zM880.7 421.5h0.9v1.4h-0.9zM877.4 414.1h0.9v1.4h-0.9zM900.0 431.2h0.9v1.4h-0.9zM885.7 383.1h0.9v1.4h-0.9zM938.4 406.6h0.9v1.4h-0.9zM938.8 409.6h0.9v1.4h-0.9zM938.4 406.3h0.9v1.4h-0.9zM935.4 417.7h0.9v1.4h-0.9zM942.7 422.6h0.9v1.4h-0.9zM949.8 410.9h0.9v1.4h-0.9zM940.5 402.6h0.9v1.4h-0.9zM672.2 536.4h0.9v1.4h-0.9zM685.2 514.5h0.9v1.4h-0.9zM687.3 529.8h0.9v1.4h-0.9zM669.1 522.1h0.9v1.4h-0.9zM668.6 524.1h0.9v1.4h-0.9zM832.2 513.5h0.9v1.4h-0.9zM818.9 508.0h0.9v1.4h-0.9zM835.5 525.2h0.9v1.4h-0.9zM836.9 536.2h0.9v1.4h-0.9zM821.5 501.8h0.9v1.4h-0.9zM818.7 509.3h0.9v1.4h-0.9zM828.1 497.3h0.9v1.4h-0.9zM835.0 537.8h0.9v1.4h-0.9zM284.5 393.8h0.9v1.2h-0.9zM296.4 417.0h0.9v1.2h-0.9zM294.2 408.0h0.9v1.2h-0.9zM323.2 506.9h0.9v1.2h-0.9zM322.9 514.4h0.9v1.2h-0.9zM321.6 517.5h0.9v1.2h-0.9zM312.2 476.0h0.9v1.2h-0.9zM302.0 433.2h0.9v1.2h-0.9zM159.6 493.0h0.9v1.1h-0.9zM172.0 425.5h0.9v1.1h-0.9zM620.6 436.1h0.9v1.1h-0.9zM829.8 491.3h0.9v1.1h-0.9zM259.8 430.3h0.9v1.1h-0.9zM963.9 481.3h0.9v1.1h-0.9zM702.9 475.3h0.9v1.1h-0.9zM863.6 393.0h0.9v1.1h-0.9zM218.5 462.7h0.9v1.1h-0.9zM367.1 526.7h0.9v1.1h-0.9zM266.4 431.0h0.9v1.1h-0.9zM989.9 376.0h0.9v1.1h-0.9zM992.6 464.7h0.9v1.1h-0.9zM775.4 423.8h0.9v1.1h-0.9zM507.6 525.1h0.9v1.1h-0.9zM758.2 528.9h0.9v1.1h-0.9zM601.4 514.0h0.9v1.1h-0.9zM252.1 372.7h0.9v1.1h-0.9zM751.2 387.8h0.9v1.1h-0.9zM847.6 505.5h0.9v1.1h-0.9zM469.9 481.9h0.9v1.1h-0.9zM335.7 384.7h0.9v1.1h-0.9zM583.4 403.3h0.9v1.1h-0.9zM225.5 516.5h0.9v1.1h-0.9zM525.5 443.3h0.9v1.1h-0.9zM223.5 493.5h0.9v1.1h-0.9zM812.4 470.3h0.9v1.1h-0.9zM472.9 399.5h0.9v1.1h-0.9zM512.5 453.3h0.9v1.1h-0.9zM695.7 706.7h1.0v2.4h-1.0zM702.2 718.0h1.0v2.4h-1.0zM696.9 697.5h1.0v2.4h-1.0zM701.2 726.6h1.0v2.4h-1.0zM698.0 701.0h1.0v2.4h-1.0zM798.1 709.5h1.0v2.4h-1.0zM797.8 712.6h1.0v2.4h-1.0zM796.8 719.0h1.0v2.4h-1.0zM870.7 725.3h1.0v2.6h-1.0zM861.8 687.7h1.0v2.6h-1.0zM857.1 678.4h0.9v1.1h-0.9zM960.3 637.9h0.9v1.1h-0.9zM836.6 668.7h0.9v1.1h-0.9zM672.1 604.5h0.9v1.1h-0.9zM699.2 626.6h0.9v1.1h-0.9zM333.9 689.9h0.9v1.1h-0.9zM901.0 677.7h0.9v1.1h-0.9zM183.5 603.3h0.9v1.1h-0.9zM376.7 710.0h0.9v1.1h-0.9zM164.0 561.1h0.9v1.1h-0.9zM613.8 619.1h0.9v1.1h-0.9zM127.6 709.0h0.9v1.1h-0.9zM458.2 561.7h0.9v1.1h-0.9zM125.9 579.3h0.9v1.1h-0.9zM820.2 570.8h0.9v1.1h-0.9zM766.6 714.7h0.9v1.1h-0.9zM787.8 694.9h0.9v1.1h-0.9zM910.1 568.7h0.9v1.1h-0.9zM391.5 853.8h0.9v1.2h-0.9zM350.1 752.7h0.9v2.1h-0.9zM365.9 793.3h0.9v1.5h-0.9zM385.7 826.4h0.9v1.4h-0.9zM390.0 884.1h0.9v1.4h-0.9zM387.6 854.4h0.9v1.7h-0.9zM377.9 810.2h0.9v1.3h-0.9zM388.6 861.7h0.9v1.3h-0.9zM337.6 738.7h0.9v1.5h-0.9zM384.6 880.0h0.9v1.6h-0.9zM380.5 828.0h0.9v1.8h-0.9zM386.3 859.1h0.9v1.4h-0.9zM388.6 842.3h0.9v1.9h-0.9zM380.4 828.5h0.9v1.9h-0.9zM361.9 784.6h0.9v1.2h-0.9zM359.3 791.0h0.9v1.4h-0.9zM350.2 753.1h0.9v1.3h-0.9zM391.3 914.2h0.9v1.1h-0.9zM350.3 755.9h0.9v1.9h-0.9zM348.5 749.2h0.9v1.1h-0.9zM363.2 782.8h0.9v2.2h-0.9zM391.6 882.3h0.9v1.2h-0.9zM362.0 786.8h0.9v2.1h-0.9zM358.9 781.4h0.9v1.3h-0.9zM351.7 739.1h0.9v1.3h-0.9zM389.7 860.3h0.9v1.2h-0.9zM351.0 756.4h0.9v1.7h-0.9zM359.2 786.6h0.9v1.3h-0.9zM349.5 751.5h0.9v1.4h-0.9zM392.2 901.5h0.9v1.5h-0.9zM383.6 840.3h0.9v1.6h-0.9zM381.2 820.6h0.9v1.6h-0.9zM370.4 804.8h0.9v1.3h-0.9zM385.0 850.9h0.9v1.7h-0.9zM356.8 764.4h0.9v1.7h-0.9zM396.9 896.0h0.9v1.7h-0.9zM350.0 759.6h0.9v1.0h-0.9zM391.0 904.5h0.9v1.6h-0.9zM373.4 806.7h0.9v1.8h-0.9zM378.4 826.7h0.9v1.5h-0.9zM357.6 784.5h0.9v1.4h-0.9zM350.8 766.4h0.9v1.6h-0.9zM392.7 902.7h0.9v1.9h-0.9zM389.1 877.5h0.9v1.4h-0.9zM386.9 888.6h0.9v1.7h-0.9zM372.7 823.1h0.9v1.5h-0.9zM383.8 855.8h0.9v1.2h-0.9zM344.1 743.5h0.9v1.9h-0.9zM391.5 886.4h0.9v2.1h-0.9zM391.2 873.6h0.9v2.0h-0.9zM384.3 828.0h0.9v1.3h-0.9zM440.8 794.1h0.9v1.4h-0.9zM460.4 853.6h0.9v2.1h-0.9zM439.7 779.6h0.9v1.6h-0.9zM456.7 821.8h0.9v1.8h-0.9zM441.5 819.0h0.9v1.5h-0.9zM448.6 813.2h0.9v1.6h-0.9zM461.2 860.0h0.9v1.6h-0.9zM458.5 832.1h0.9v1.9h-0.9zM460.2 907.8h0.9v2.0h-0.9zM436.4 765.5h0.9v1.2h-0.9zM429.0 747.0h0.9v1.9h-0.9zM445.1 827.6h0.9v1.4h-0.9zM437.9 762.5h0.9v1.3h-0.9zM454.0 873.4h0.9v1.7h-0.9zM464.3 856.1h0.9v2.2h-0.9zM435.1 750.6h0.9v1.3h-0.9zM451.7 805.4h0.9v2.1h-0.9zM439.2 775.2h0.9v1.5h-0.9zM461.9 894.3h0.9v1.2h-0.9zM454.9 838.6h0.9v1.8h-0.9zM457.6 909.3h0.9v2.0h-0.9zM442.3 809.0h0.9v1.6h-0.9zM459.1 868.1h0.9v1.4h-0.9zM460.0 907.8h0.9v1.4h-0.9zM445.0 794.0h0.9v1.6h-0.9zM458.8 897.1h0.9v2.2h-0.9zM446.7 809.5h0.9v1.1h-0.9zM448.4 820.9h0.9v1.3h-0.9zM461.0 894.3h0.9v1.3h-0.9zM450.0 816.4h0.9v1.5h-0.9zM457.1 860.5h0.9v1.7h-0.9zM424.5 782.8h0.9v1.4h-0.9zM464.4 896.6h0.9v1.7h-0.9zM428.5 750.7h0.9v2.0h-0.9zM664.6 881.2h0.9v2.2h-0.9zM637.7 786.2h0.9v2.1h-0.9zM654.4 845.5h0.9v2.1h-0.9zM639.9 796.7h0.9v2.0h-0.9zM664.5 850.1h0.9v2.0h-0.9zM649.3 798.0h0.9v1.1h-0.9zM641.3 754.0h0.9v1.0h-0.9zM660.9 880.2h0.9v1.2h-0.9zM635.4 753.2h0.9v1.9h-0.9zM654.6 844.9h0.9v1.7h-0.9zM647.3 791.4h0.9v1.6h-0.9zM663.7 890.7h0.9v1.3h-0.9zM651.0 809.6h0.9v1.1h-0.9zM650.3 790.0h0.9v1.6h-0.9zM664.1 879.3h0.9v1.8h-0.9zM630.6 735.7h0.9v1.9h-0.9zM653.3 813.4h0.9v1.7h-0.9zM662.5 882.0h0.9v2.0h-0.9zM646.8 792.0h0.9v1.7h-0.9zM660.6 884.6h0.9v2.1h-0.9zM629.7 735.6h0.9v1.8h-0.9zM662.9 914.1h0.9v1.9h-0.9zM633.8 766.5h0.9v2.0h-0.9zM654.9 847.3h0.9v1.5h-0.9zM661.6 902.9h0.9v1.6h-0.9zM652.0 849.3h0.9v1.1h-0.9zM633.2 737.2h0.9v2.0h-0.9zM657.9 854.6h0.9v1.7h-0.9zM655.5 824.4h0.9v2.2h-0.9zM663.6 902.0h0.9v1.7h-0.9zM649.1 795.7h0.9v2.2h-0.9zM660.9 850.1h0.9v1.5h-0.9zM666.7 911.5h0.9v1.8h-0.9zM657.3 851.8h0.9v1.0h-0.9zM657.6 825.1h0.9v2.1h-0.9zM644.5 795.4h0.9v1.0h-0.9zM657.2 830.0h0.9v2.0h-0.9zM636.2 742.9h0.9v1.0h-0.9zM664.4 883.0h0.9v1.2h-0.9zM659.8 850.7h0.9v2.1h-0.9zM664.1 895.3h0.9v1.9h-0.9zM662.1 907.6h0.9v2.0h-0.9zM636.1 741.6h0.9v1.2h-0.9zM634.8 757.1h0.9v2.1h-0.9zM654.0 825.5h0.9v2.0h-0.9zM652.8 808.4h0.9v1.2h-0.9zM655.0 876.0h0.9v1.4h-0.9zM657.8 888.9h0.9v1.9h-0.9zM664.2 876.2h0.9v1.9h-0.9zM646.5 780.8h0.9v2.1h-0.9zM655.5 841.2h0.9v1.2h-0.9zM638.3 755.1h0.9v2.1h-0.9zM650.0 814.6h0.9v1.9h-0.9zM647.0 801.7h0.9v2.0h-0.9zM654.2 828.8h0.9v1.5h-0.9zM658.8 898.9h0.9v1.5h-0.9zM639.2 767.2h0.9v1.8h-0.9zM640.9 762.1h0.9v1.9h-0.9zM637.2 749.4h0.9v1.1h-0.9zM656.9 839.8h0.9v1.6h-0.9zM631.0 737.0h0.9v1.5h-0.9zM658.6 865.1h0.9v1.7h-0.9zM655.2 803.3h0.9v1.9h-0.9zM643.1 783.1h0.9v1.8h-0.9zM650.8 821.8h0.9v1.3h-0.9zM666.9 902.8h0.9v2.2h-0.9zM634.0 751.0h0.9v1.7h-0.9zM641.0 778.5h0.9v1.2h-0.9zM779.2 807.8h0.9v2.1h-0.9zM772.2 807.1h0.9v1.6h-0.9zM765.6 758.9h0.9v1.2h-0.9zM760.3 772.2h0.9v1.0h-0.9zM771.9 867.4h0.9v1.4h-0.9zM774.5 828.2h0.9v1.8h-0.9zM780.0 858.9h0.9v2.0h-0.9zM777.6 890.9h0.9v2.1h-0.9zM759.6 756.4h0.9v1.1h-0.9zM773.6 833.4h0.9v1.3h-0.9zM766.0 814.8h0.9v1.3h-0.9zM770.9 843.6h0.9v1.5h-0.9zM761.3 748.6h0.9v1.9h-0.9zM766.0 795.8h0.9v1.7h-0.9zM763.8 751.9h0.9v1.2h-0.9zM790.5 899.0h0.9v1.2h-0.9zM775.9 810.4h0.9v1.8h-0.9zM754.1 748.4h0.9v2.0h-0.9zM783.6 871.2h0.9v2.1h-0.9zM783.2 878.0h0.9v1.8h-0.9zM780.2 851.0h0.9v1.2h-0.9zM756.3 768.1h0.9v2.2h-0.9zM777.1 871.0h0.9v1.2h-0.9zM779.3 814.3h0.9v1.4h-0.9zM762.2 753.7h0.9v1.7h-0.9zM777.5 886.5h0.9v1.7h-0.9zM761.7 766.4h0.9v1.8h-0.9zM777.3 798.3h0.9v1.2h-0.9zM775.5 878.6h0.9v1.9h-0.9zM767.3 780.2h0.9v1.4h-0.9zM763.4 807.0h0.9v1.8h-0.9zM765.4 814.8h0.9v1.1h-0.9zM781.5 912.8h0.9v1.1h-0.9zM783.9 847.9h0.9v2.1h-0.9zM788.6 861.9h0.9v1.2h-0.9zM761.6 790.5h0.9v2.0h-0.9zM771.7 777.3h0.9v1.0h-0.9zM768.6 786.2h0.9v1.8h-0.9zM778.3 888.8h0.9v1.8h-0.9zM774.7 879.2h0.9v1.3h-0.9zM763.5 800.9h0.9v1.1h-0.9zM771.6 823.0h0.9v1.5h-0.9zM776.3 903.9h0.9v1.7h-0.9zM765.1 792.7h0.9v1.8h-0.9zM783.6 899.2h0.9v2.1h-0.9zM762.0 774.1h0.9v1.8h-0.9zM752.1 740.4h0.9v2.2h-0.9zM781.5 864.1h0.9v1.8h-0.9zM770.0 832.6h0.9v1.0h-0.9zM770.7 823.3h0.9v1.1h-0.9zM766.9 777.2h0.9v1.3h-0.9zM772.4 806.4h0.9v1.6h-0.9zM760.3 769.8h0.9v2.2h-0.9zM768.4 846.3h0.9v1.7h-0.9zM762.6 778.8h0.9v1.9h-0.9zM785.7 862.1h0.9v1.9h-0.9zM773.8 873.0h0.9v1.2h-0.9zM760.7 762.8h0.9v1.6h-0.9zM758.7 778.4h0.9v2.1h-0.9zM760.6 823.4h0.9v2.2h-0.9zM774.9 870.6h0.9v1.4h-0.9zM772.4 836.0h0.9v1.7h-0.9zM774.5 794.4h0.9v1.4h-0.9zM780.8 888.5h0.9v1.5h-0.9zM785.8 907.0h0.9v1.9h-0.9zM778.0 834.8h0.9v2.1h-0.9zM761.5 794.2h0.9v1.5h-0.9zM784.4 890.3h0.9v1.4h-0.9zM766.9 809.5h0.9v1.2h-0.9zM769.3 818.7h0.9v1.7h-0.9zM750.1 776.8h0.9v1.7h-0.9zM752.8 739.1h0.9v1.4h-0.9zM754.0 755.1h0.9v1.5h-0.9zM772.6 878.2h0.9v1.7h-0.9zM769.9 775.5h0.9v1.6h-0.9zM761.5 802.1h0.9v1.6h-0.9zM768.0 819.6h0.9v1.7h-0.9zM756.3 777.7h0.9v1.8h-0.9zM827.2 838.2h1.0v1.0h-1.0zM813.4 768.3h1.0v3.2h-1.0zM816.4 787.0h1.0v3.1h-1.0zM824.8 820.0h1.0v3.8h-1.0zM811.9 761.3h1.0v2.6h-1.0zM817.6 784.8h1.0v2.0h-1.0zM822.7 822.8h1.0v3.0h-1.0zM828.3 846.1h1.0v2.2h-1.0zM826.4 836.2h1.0v1.4h-1.0zM817.0 785.3h1.0v2.9h-1.0zM807.7 747.7h1.0v2.2h-1.0zM829.3 847.2h1.0v3.0h-1.0zM836.9 797.6h1.0v1.3h-1.0zM931.2 785.9h0.9v1.2h-0.9zM941.9 884.7h0.9v2.0h-0.9zM940.5 851.6h0.9v1.2h-0.9zM937.7 827.1h0.9v1.5h-0.9zM937.4 820.3h0.9v1.8h-0.9zM935.5 824.2h0.9v2.1h-0.9zM939.1 858.5h0.9v1.8h-0.9zM934.6 789.5h0.9v1.8h-0.9zM946.2 906.9h0.9v1.0h-0.9zM943.0 891.7h0.9v1.4h-0.9zM942.2 880.6h0.9v2.1h-0.9zM931.8 801.5h0.9v1.7h-0.9zM940.7 841.2h0.9v1.4h-0.9zM939.7 870.0h0.9v1.2h-0.9zM943.1 909.3h0.9v1.4h-0.9zM697.0 788.6h1.0v2.3h-1.0zM688.2 851.4h1.0v2.8h-1.0zM699.6 819.8h1.0v2.9h-1.0zM702.0 887.1h1.0v2.0h-1.0zM682.6 763.7h1.0v1.2h-1.0zM716.9 789.2h1.0v3.5h-1.0zM695.6 888.9h1.0v1.7h-1.0zM693.9 762.7h1.0v3.3h-1.0zM718.8 881.1h1.0v2.8h-1.0zM690.2 773.7h1.0v2.7h-1.0zM707.3 839.5h1.0v2.8h-1.0zM698.8 756.4h1.0v3.9h-1.0zM692.6 778.6h1.0v1.1h-1.0zM705.9 863.0h1.0v2.3h-1.0zM689.0 779.1h1.0v3.5h-1.0zM700.7 875.5h1.0v2.1h-1.0zM703.6 820.9h1.0v3.1h-1.0zM706.0 880.5h1.0v2.7h-1.0zM585.8 852.1h1.0v1.2h-1.0zM586.2 852.9h1.0v2.8h-1.0zM585.5 907.0h1.0v2.1h-1.0zM621.9 866.3h0.9v1.2h-0.9zM608.9 847.7h0.9v2.0h-0.9zM617.1 813.8h0.9v2.0h-0.9zM624.5 885.4h0.9v1.6h-0.9zM599.2 766.5h0.9v1.8h-0.9zM616.8 824.1h0.9v1.8h-0.9zM612.0 802.8h0.9v1.2h-0.9zM599.9 766.5h0.9v1.4h-0.9zM626.4 910.0h0.9v2.2h-0.9zM616.6 830.8h0.9v1.9h-0.9zM601.8 854.0h0.9v1.0h-0.9zM594.6 781.3h0.9v1.2h-0.9zM596.0 738.4h0.9v1.9h-0.9zM598.1 777.6h0.9v1.0h-0.9zM739.5 788.5h1.0v3.6h-1.0zM742.7 824.6h1.0v3.2h-1.0zM740.1 821.0h1.0v2.4h-1.0zM737.8 836.4h1.0v1.6h-1.0zM737.3 776.5h1.0v1.5h-1.0zM734.7 824.4h1.0v1.7h-1.0zM743.4 875.6h1.0v3.5h-1.0zM745.5 831.7h1.0v4.1h-1.0zM737.8 809.3h1.0v4.8h-1.0zM752.6 888.7h1.0v2.8h-1.0zM731.2 750.0h1.0v2.3h-1.0zM742.9 851.6h1.0v2.6h-1.0zM737.3 780.3h1.0v4.0h-1.0zM739.5 822.9h1.0v3.4h-1.0zM728.9 770.6h1.0v1.7h-1.0zM744.4 810.6h1.0v2.9h-1.0zM747.3 902.6h1.0v3.7h-1.0zM730.1 746.3h1.0v3.2h-1.0zM809.4 890.1h1.0v3.0h-1.0zM809.0 895.2h1.0v4.0h-1.0zM812.3 881.9h1.0v1.2h-1.0zM799.1 777.8h1.0v1.1h-1.0zM807.7 854.1h1.0v4.0h-1.0zM803.3 849.2h1.0v2.5h-1.0zM806.8 847.4h1.0v1.1h-1.0zM793.6 827.3h1.0v1.5h-1.0zM803.7 818.6h1.0v2.7h-1.0zM796.3 773.5h1.0v3.5h-1.0zM791.9 834.6h1.0v1.0h-1.0zM801.2 851.5h1.0v4.0h-1.0zM812.4 910.7h1.0v1.0h-1.0zM797.2 807.6h1.0v1.0h-1.0zM801.8 854.2h1.0v1.1h-1.0zM810.6 835.5h1.0v2.8h-1.0zM808.2 863.0h1.0v3.3h-1.0zM790.7 738.3h1.0v1.6h-1.0zM797.6 799.9h1.0v2.4h-1.0zM796.5 751.5h1.0v1.3h-1.0zM299.3 904.9h0.9v1.1h-0.9zM518.4 761.9h0.9v1.1h-0.9zM601.4 902.6h0.9v1.1h-0.9zM576.2 900.4h0.9v1.1h-0.9zM647.4 807.7h0.9v1.1h-0.9zM332.7 791.2h0.9v1.1h-0.9zM689.6 753.6h0.9v1.1h-0.9zM257.5 863.9h0.9v1.1h-0.9zM392.2 884.3h0.9v1.1h-0.9zM174.2 863.7h0.9v1.1h-0.9zM510.4 763.4h0.9v1.1h-0.9zM93.5 873.0h0.9v1.1h-0.9zM383.6 831.9h0.9v1.1h-0.9zM496.1 798.5h0.9v1.1h-0.9zM724.0 743.8h0.9v1.1h-0.9zM773.7 782.5h0.9v1.1h-0.9zM951.8 908.1h0.9v1.1h-0.9zM90.5 859.8h0.9v1.1h-0.9zM625.2 867.6h0.9v1.1h-0.9zM363.1 853.4h0.9v1.1h-0.9zM919.7 853.7h0.9v1.1h-0.9zM781.9 895.0h0.9v1.1h-0.9zM244.6 803.8h0.9v1.1h-0.9zM526.8 738.5h0.9v1.1h-0.9zM604.0 844.9h0.9v1.1h-0.9zM922.5 894.3h0.9v1.1h-0.9zM339.7 768.2h0.9v1.1h-0.9zM561.5 881.1h0.9v1.1h-0.9zM987.1 819.9h0.9v1.1h-0.9zM185.1 842.4h0.9v1.1h-0.9zM693.0 806.5h0.9v1.1h-0.9zM594.2 803.8h0.9v1.1h-0.9zM773.4 865.9h0.9v1.1h-0.9zM617.3 880.4h0.9v1.1h-0.9zM209.0 843.5h0.9v1.1h-0.9zM624.3 804.2h0.9v1.1h-0.9zM623.7 749.1h0.9v1.1h-0.9zM724.4 803.9h0.9v1.1h-0.9zM518.1 736.0h0.9v1.1h-0.9z"/>
<path fill="#00ffff" d="M168.2 415.6h0.9v1.4h-0.9zM363.5 410.9h0.9v1.4h-0.9zM362.7 409.9h0.9v1.4h-0.9zM361.0 409.3h0.9v1.4h-0.9zM361.4 408.4h0.9v1.4h-0.9zM381.9 410.6h0.9v1.4h-0.9zM372.9 419.8h0.9v1.4h-0.9zM381.8 419.1h0.9v1.4h-0.9zM389.9 430.8h0.9v1.4h-0.9zM391.4 423.2h0.9v1.4h-0.9zM376.4 402.5h0.9v1.4h-0.9zM388.2 423.8h0.9v1.4h-0.9zM372.8 419.2h0.9v1.4h-0.9zM384.4 412.9h0.9v1.4h-0.9zM383.2 420.8h0.9v1.4h-0.9zM496.7 406.5h0.9v1.4h-0.9zM510.6 418.6h0.9v1.4h-0.9zM504.9 419.9h0.9v1.4h-0.9zM505.9 407.9h0.9v1.4h-0.9zM491.6 408.8h0.9v1.4h-0.9zM500.9 409.6h0.9v1.4h-0.9zM502.6 410.5h0.9v1.4h-0.9zM503.6 403.7h0.9v1.4h-0.9zM497.3 402.3h0.9v1.4h-0.9zM509.2 415.4h0.9v1.4h-0.9zM498.8 421.3h0.9v1.4h-0.9zM507.6 431.4h0.9v1.4h-0.9zM500.1 417.5h0.9v1.4h-0.9zM511.2 424.8h0.9v1.4h-0.9zM561.7 416.3h0.9v1.4h-0.9zM565.3 417.7h0.9v1.4h-0.9zM559.2 415.5h0.9v1.4h-0.9zM559.4 415.0h0.9v1.4h-0.9zM658.4 413.3h0.9v1.4h-0.9zM778.2 421.3h0.9v1.4h-0.9zM785.1 408.9h0.9v1.4h-0.9zM784.1 408.5h0.9v1.4h-0.9zM892.0 426.5h0.9v1.4h-0.9zM885.5 409.4h0.9v1.4h-0.9zM885.4 406.0h0.9v1.4h-0.9zM887.1 403.5h0.9v1.4h-0.9zM889.7 427.8h0.9v1.4h-0.9zM889.9 428.5h0.9v1.4h-0.9zM889.7 426.2h0.9v1.4h-0.9zM676.0 530.0h0.9v1.4h-0.9zM677.7 531.0h0.9v1.4h-0.9zM679.4 518.9h0.9v1.4h-0.9zM824.4 515.2h0.9v1.4h-0.9zM827.7 529.8h0.9v1.4h-0.9zM825.3 516.9h0.9v1.4h-0.9zM831.1 525.1h0.9v1.4h-0.9zM937.5 458.1h0.9v1.1h-0.9zM986.4 518.5h0.9v1.1h-0.9zM864.1 713.8h1.0v2.6h-1.0zM863.6 717.0h1.0v2.6h-1.0zM369.1 793.9h0.9v1.8h-0.9zM386.6 878.5h0.9v1.9h-0.9zM359.0 776.9h0.9v1.2h-0.9zM349.1 752.2h0.9v1.8h-0.9zM426.9 745.1h0.9v1.8h-0.9zM666.8 881.3h0.9v1.6h-0.9zM645.9 778.3h0.9v1.3h-0.9zM643.9 799.6h0.9v2.0h-0.9zM639.8 761.6h0.9v1.7h-0.9zM662.1 909.1h0.9v1.1h-0.9zM633.7 741.1h0.9v1.6h-0.9zM661.4 911.8h0.9v2.0h-0.9zM659.8 843.3h0.9v1.8h-0.9zM662.4 846.5h0.9v1.5h-0.9zM638.0 759.8h0.9v1.2h-0.9zM765.4 771.3h0.9v2.0h-0.9zM767.6 846.2h0.9v1.5h-0.9zM756.5 762.9h0.9v1.7h-0.9zM762.1 790.3h0.9v1.5h-0.9zM762.6 774.4h0.9v1.3h-0.9zM760.6 795.3h0.9v1.8h-0.9zM777.3 840.4h0.9v2.1h-0.9zM787.6 865.8h0.9v2.1h-0.9zM765.0 794.8h0.9v1.5h-0.9zM764.8 771.0h0.9v1.2h-0.9zM767.8 803.3h0.9v1.4h-0.9zM760.9 748.2h0.9v1.8h-0.9zM587.0 900.2h1.0v3.9h-1.0zM587.1 907.9h1.0v3.7h-1.0z"/>
<path fill="#0000cc" d="M165.8 409.6h0.9v1.4h-0.9zM164.2 414.1h0.9v1.4h-0.9zM163.4 408.5h0.9v1.4h-0.9zM354.0 410.6h0.9v1.4h-0.9zM383.3 445.1h0.9v1.4h-0.9zM389.3 402.0h0.9v1.4h-0.9zM403.7 434.4h0.9v1.4h-0.9zM385.8 399.0h0.9v1.4h-0.9zM393.4 411.4h0.9v1.4h-0.9zM392.4 413.3h0.9v1.4h-0.9zM365.9 388.8h0.9v1.4h-0.9zM401.9 424.9h0.9v1.4h-0.9zM371.3 387.6h0.9v1.4h-0.9zM377.7 386.9h0.9v1.4h-0.9zM489.3 415.3h0.9v1.4h-0.9zM493.0 426.1h0.9v1.4h-0.9zM507.1 395.8h0.9v1.4h-0.9zM509.3 449.1h0.9v1.4h-0.9zM496.8 431.2h0.9v1.4h-0.9zM512.2 415.6h0.9v1.4h-0.9zM492.7 381.7h0.9v1.4h-0.9zM487.1 414.5h0.9v1.4h-0.9zM498.6 434.7h0.9v1.4h-0.9zM513.0 415.2h0.9v1.4h-0.9zM487.5 388.0h0.9v1.4h-0.9zM518.3 421.6h0.9v1.4h-0.9zM514.6 441.1h0.9v1.4h-0.9zM504.9 441.4h0.9v1.4h-0.9zM493.2 424.3h0.9v1.4h-0.9zM498.2 433.7h0.9v1.4h-0.9zM504.7 398.6h0.9v1.4h-0.9zM553.0 411.5h0.9v1.4h-0.9zM567.0 407.0h0.9v1.4h-0.9zM663.2 417.1h0.9v1.4h-0.9zM653.8 418.0h0.9v1.4h-0.9zM663.8 419.5h0.9v1.4h-0.9zM659.2 402.5h0.9v1.4h-0.9zM658.6 402.7h0.9v1.4h-0.9zM789.9 403.5h0.9v1.4h-0.9zM774.4 400.7h0.9v1.4h-0.9zM790.6 412.8h0.9v1.4h-0.9zM789.3 433.2h0.9v1.4h-0.9zM890.3 441.4h0.9v1.4h-0.9zM898.1 439.3h0.9v1.4h-0.9zM883.7 388.7h0.9v1.4h-0.9zM880.0 395.4h0.9v1.4h-0.9zM894.0 438.1h0.9v1.4h-0.9zM886.0 431.5h0.9v1.4h-0.9zM896.9 444.1h0.9v1.4h-0.9zM886.3 390.2h0.9v1.4h-0.9zM898.6 433.8h0.9v1.4h-0.9zM881.0 414.6h0.9v1.4h-0.9zM941.5 420.4h0.9v1.4h-0.9zM940.1 419.1h0.9v1.4h-0.9zM939.3 411.4h0.9v1.4h-0.9zM671.7 524.7h0.9v1.4h-0.9zM675.3 506.7h0.9v1.4h-0.9zM672.9 515.9h0.9v1.4h-0.9zM670.5 525.5h0.9v1.4h-0.9zM820.4 506.3h0.9v1.4h-0.9zM819.4 523.5h0.9v1.4h-0.9zM310.5 470.0h0.9v1.2h-0.9zM315.9 479.1h0.9v1.2h-0.9zM324.4 499.3h0.9v1.2h-0.9zM268.4 368.1h0.9v1.2h-0.9zM318.5 469.8h0.9v1.2h-0.9zM282.9 392.4h0.9v1.2h-0.9zM290.2 408.2h0.9v1.2h-0.9zM304.5 445.7h0.9v1.2h-0.9zM318.9 488.1h0.9v1.2h-0.9zM314.3 484.7h0.9v1.2h-0.9zM324.9 528.6h0.9v1.2h-0.9zM985.0 510.9h0.9v1.1h-0.9zM362.2 493.9h0.9v1.1h-0.9zM341.9 443.4h0.9v1.1h-0.9zM337.7 508.4h0.9v1.1h-0.9zM967.3 417.1h0.9v1.1h-0.9zM986.4 409.7h0.9v1.1h-0.9zM573.7 420.8h0.9v1.1h-0.9zM595.5 512.6h0.9v1.1h-0.9zM74.6 364.3h0.9v1.1h-0.9zM336.3 357.9h0.9v1.1h-0.9zM247.3 488.8h0.9v1.1h-0.9zM114.1 458.7h0.9v1.1h-0.9zM563.4 425.1h0.9v1.1h-0.9zM370.2 390.3h0.9v1.1h-0.9zM610.9 491.1h0.9v1.1h-0.9zM845.5 430.8h0.9v1.1h-0.9zM213.7 484.4h0.9v1.1h-0.9zM143.5 494.1h0.9v1.1h-0.9zM216.7 474.6h0.9v1.1h-0.9zM653.8 450.8h0.9v1.1h-0.9zM591.1 460.6h0.9v1.1h-0.9zM389.9 467.9h0.9v1.1h-0.9zM283.1 368.3h0.9v1.1h-0.9zM295.8 357.6h0.9v1.1h-0.9zM791.9 425.0h0.9v1.1h-0.9zM367.2 400.9h0.9v1.1h-0.9zM288.9 358.6h0.9v1.1h-0.9zM764.3 402.1h0.9v1.1h-0.9zM459.3 444.7h0.9v1.1h-0.9zM874.7 497.9h0.9v1.1h-0.9zM981.0 484.0h0.9v1.1h-0.9zM472.2 510.1h0.9v1.1h-0.9zM297.9 415.8h0.9v1.1h-0.9zM873.3 464.7h0.9v1.1h-0.9zM634.9 427.3h0.9v1.1h-0.9zM232.8 429.6h0.9v1.1h-0.9zM449.3 373.8h0.9v1.1h-0.9zM778.7 457.6h0.9v1.1h-0.9zM345.2 501.2h0.9v1.1h-0.9zM657.0 457.6h0.9v1.1h-0.9zM631.5 446.7h0.9v1.1h-0.9zM103.6 367.7h0.9v1.1h-0.9zM889.2 370.8h0.9v1.1h-0.9zM84.8 416.9h0.9v1.1h-0.9zM310.9 501.4h0.9v1.1h-0.9zM599.6 527.6h0.9v1.1h-0.9zM701.5 718.9h1.0v2.4h-1.0zM799.9 721.8h1.0v2.4h-1.0zM799.9 708.4h1.0v2.4h-1.0zM803.3 709.1h1.0v2.4h-1.0zM800.1 726.3h1.0v2.4h-1.0zM804.4 721.7h1.0v2.4h-1.0zM856.7 705.3h1.0v2.6h-1.0zM455.0 601.1h0.9v1.1h-0.9zM178.2 564.1h0.9v1.1h-0.9zM86.0 702.5h0.9v1.1h-0.9zM909.3 694.6h0.9v1.1h-0.9zM313.9 678.3h0.9v1.1h-0.9zM121.8 557.9h0.9v1.1h-0.9zM688.1 615.1h0.9v1.1h-0.9zM988.1 591.0h0.9v1.1h-0.9zM509.1 640.6h0.9v1.1h-0.9zM241.0 554.1h0.9v1.1h-0.9zM654.3 620.7h0.9v1.1h-0.9zM830.6 680.1h0.9v1.1h-0.9zM864.2 694.7h0.9v1.1h-0.9zM985.8 646.8h0.9v1.1h-0.9zM124.9 556.3h0.9v1.1h-0.9zM800.6 548.4h0.9v1.1h-0.9zM400.6 631.2h0.9v1.1h-0.9zM882.9 705.5h0.9v1.1h-0.9zM100.5 635.5h0.9v1.1h-0.9zM271.0 629.1h0.9v1.1h-0.9zM159.9 572.0h0.9v1.1h-0.9zM860.3 622.2h0.9v1.1h-0.9zM665.4 659.8h0.9v1.1h-0.9zM436.0 699.5h0.9v1.1h-0.9zM362.4 790.2h0.9v1.1h-0.9zM354.9 755.0h0.9v1.6h-0.9zM392.3 887.3h0.9v1.1h-0.9zM370.5 812.0h0.9v1.2h-0.9zM380.9 847.6h0.9v2.0h-0.9zM380.3 834.1h0.9v2.0h-0.9zM375.2 809.1h0.9v2.2h-0.9zM392.9 897.0h0.9v1.2h-0.9zM379.9 812.0h0.9v1.4h-0.9zM349.3 752.3h0.9v1.4h-0.9zM388.5 889.3h0.9v1.0h-0.9zM373.3 795.6h0.9v1.3h-0.9zM353.9 746.2h0.9v1.0h-0.9zM389.8 891.2h0.9v1.3h-0.9zM374.9 824.7h0.9v1.7h-0.9zM387.2 851.4h0.9v1.5h-0.9zM387.9 861.8h0.9v2.2h-0.9zM375.8 837.9h0.9v1.6h-0.9zM352.0 763.9h0.9v1.5h-0.9zM351.9 750.3h0.9v1.1h-0.9zM390.6 863.8h0.9v1.6h-0.9zM385.6 853.9h0.9v2.1h-0.9zM384.7 881.4h0.9v1.4h-0.9zM398.3 912.0h0.9v1.7h-0.9zM350.7 759.8h0.9v1.4h-0.9zM378.1 814.9h0.9v2.1h-0.9zM380.0 825.6h0.9v1.5h-0.9zM359.6 779.9h0.9v1.8h-0.9zM343.7 740.0h0.9v1.3h-0.9zM355.8 767.0h0.9v1.9h-0.9zM350.1 764.5h0.9v1.2h-0.9zM364.0 786.1h0.9v1.2h-0.9zM345.7 744.0h0.9v1.8h-0.9zM366.6 786.7h0.9v1.7h-0.9zM383.2 850.6h0.9v2.2h-0.9zM367.4 785.7h0.9v1.5h-0.9zM370.9 813.5h0.9v1.3h-0.9zM392.7 882.8h0.9v1.6h-0.9zM377.3 807.4h0.9v1.1h-0.9zM354.2 775.5h0.9v1.8h-0.9zM372.7 815.9h0.9v1.9h-0.9zM380.4 824.3h0.9v1.8h-0.9zM387.7 867.1h0.9v1.4h-0.9zM346.2 746.0h0.9v1.6h-0.9zM381.7 845.3h0.9v2.0h-0.9zM392.1 913.3h0.9v1.7h-0.9zM392.1 869.7h0.9v2.2h-0.9zM367.5 798.4h0.9v1.1h-0.9zM384.1 847.1h0.9v1.9h-0.9zM355.8 772.3h0.9v1.4h-0.9zM352.5 760.2h0.9v1.8h-0.9zM394.5 910.2h0.9v2.0h-0.9zM361.1 788.8h0.9v1.9h-0.9zM349.0 737.0h0.9v1.4h-0.9zM398.3 911.9h0.9v1.1h-0.9zM361.0 773.0h0.9v1.3h-0.9zM350.1 770.0h0.9v1.9h-0.9zM351.9 758.1h0.9v1.7h-0.9zM347.7 756.2h0.9v1.8h-0.9zM357.1 779.1h0.9v1.9h-0.9zM393.9 879.8h0.9v1.5h-0.9zM353.2 757.3h0.9v1.7h-0.9zM345.4 747.8h0.9v1.8h-0.9zM396.7 895.2h0.9v1.3h-0.9zM342.5 740.7h0.9v2.0h-0.9zM389.2 856.5h0.9v1.7h-0.9zM342.5 748.4h0.9v1.1h-0.9zM374.0 815.5h0.9v2.2h-0.9zM379.1 810.6h0.9v1.5h-0.9zM384.9 865.3h0.9v1.6h-0.9zM363.8 791.5h0.9v1.5h-0.9zM370.8 815.5h0.9v1.9h-0.9zM344.3 739.9h0.9v1.7h-0.9zM390.5 884.0h0.9v1.0h-0.9zM365.1 791.0h0.9v1.1h-0.9zM347.3 741.7h0.9v1.7h-0.9zM373.6 827.1h0.9v1.0h-0.9zM369.7 810.7h0.9v1.4h-0.9zM362.4 787.1h0.9v1.8h-0.9zM367.9 790.9h0.9v1.6h-0.9zM344.2 743.0h0.9v1.1h-0.9zM392.6 906.5h0.9v2.2h-0.9zM386.7 847.5h0.9v2.0h-0.9zM363.1 774.8h0.9v1.3h-0.9zM369.2 804.2h0.9v2.2h-0.9zM388.5 895.4h0.9v1.1h-0.9zM391.8 892.7h0.9v2.1h-0.9zM358.2 776.4h0.9v1.4h-0.9zM361.5 791.6h0.9v1.5h-0.9zM401.2 904.8h0.9v1.0h-0.9zM390.0 893.7h0.9v2.2h-0.9zM358.1 775.8h0.9v1.4h-0.9zM384.8 850.7h0.9v1.4h-0.9zM390.4 910.6h0.9v1.1h-0.9zM382.5 847.4h0.9v1.7h-0.9zM369.2 794.7h0.9v1.7h-0.9zM355.0 766.5h0.9v1.1h-0.9zM354.2 748.8h0.9v2.2h-0.9zM344.5 739.9h0.9v1.7h-0.9zM340.8 736.5h0.9v1.2h-0.9zM372.6 809.0h0.9v1.6h-0.9zM372.6 801.3h0.9v2.1h-0.9zM399.2 912.2h0.9v2.1h-0.9zM378.7 816.8h0.9v1.2h-0.9zM382.8 818.5h0.9v1.2h-0.9zM434.3 774.5h0.9v1.7h-0.9zM450.2 861.6h0.9v2.0h-0.9zM448.1 829.3h0.9v1.7h-0.9zM459.9 865.6h0.9v2.1h-0.9zM461.7 886.7h0.9v1.7h-0.9zM464.1 910.8h0.9v1.7h-0.9zM452.2 813.4h0.9v2.0h-0.9zM460.5 848.7h0.9v1.5h-0.9zM432.0 761.4h0.9v2.2h-0.9zM426.4 781.9h0.9v1.2h-0.9zM428.6 770.5h0.9v2.0h-0.9zM451.1 821.8h0.9v1.3h-0.9zM425.3 778.2h0.9v1.8h-0.9zM446.7 819.4h0.9v2.1h-0.9zM430.7 770.2h0.9v1.4h-0.9zM441.0 806.6h0.9v1.7h-0.9zM434.6 797.2h0.9v2.1h-0.9zM458.7 878.6h0.9v1.2h-0.9zM446.3 767.5h0.9v1.3h-0.9zM443.7 816.3h0.9v2.0h-0.9zM435.0 791.7h0.9v1.2h-0.9zM426.4 784.6h0.9v1.4h-0.9zM432.4 782.6h0.9v1.1h-0.9zM464.9 910.3h0.9v1.1h-0.9zM444.4 851.3h0.9v2.1h-0.9zM453.9 852.8h0.9v2.0h-0.9zM476.9 885.7h0.9v1.3h-0.9zM449.3 828.9h0.9v1.6h-0.9zM444.5 793.4h0.9v1.6h-0.9zM441.5 816.9h0.9v1.8h-0.9zM466.3 893.7h0.9v1.4h-0.9zM457.7 854.2h0.9v1.8h-0.9zM461.6 853.3h0.9v1.3h-0.9zM438.7 770.0h0.9v1.7h-0.9zM459.4 899.0h0.9v2.1h-0.9zM451.1 818.7h0.9v1.5h-0.9zM438.0 771.1h0.9v1.8h-0.9zM461.8 892.7h0.9v2.0h-0.9zM459.4 859.2h0.9v1.3h-0.9zM465.7 910.0h0.9v1.5h-0.9zM440.5 790.4h0.9v1.2h-0.9zM453.2 860.1h0.9v1.6h-0.9zM463.1 913.7h0.9v1.7h-0.9zM427.7 771.1h0.9v1.4h-0.9zM459.8 901.7h0.9v1.7h-0.9zM462.9 873.1h0.9v1.6h-0.9zM436.3 771.8h0.9v1.4h-0.9zM457.1 897.6h0.9v1.2h-0.9zM464.9 879.7h0.9v1.1h-0.9zM435.1 766.8h0.9v1.2h-0.9zM452.1 837.8h0.9v1.8h-0.9zM460.8 873.4h0.9v1.9h-0.9zM439.1 779.0h0.9v2.1h-0.9zM463.8 910.2h0.9v1.9h-0.9zM651.4 824.9h0.9v1.4h-0.9zM637.9 753.8h0.9v1.7h-0.9zM638.0 738.6h0.9v1.7h-0.9zM665.2 904.7h0.9v2.0h-0.9zM664.5 893.4h0.9v1.6h-0.9zM659.2 878.9h0.9v2.0h-0.9zM650.1 784.7h0.9v1.8h-0.9zM640.8 782.5h0.9v1.4h-0.9zM656.4 836.9h0.9v1.0h-0.9zM660.4 881.4h0.9v1.7h-0.9zM637.9 761.3h0.9v2.2h-0.9zM640.0 773.8h0.9v2.2h-0.9zM659.8 885.4h0.9v1.6h-0.9zM663.4 842.9h0.9v2.0h-0.9zM637.3 756.9h0.9v1.6h-0.9zM630.2 754.6h0.9v1.5h-0.9zM632.4 740.2h0.9v1.1h-0.9zM659.1 848.1h0.9v1.1h-0.9zM668.2 913.5h0.9v1.4h-0.9zM653.7 816.4h0.9v2.0h-0.9zM641.6 774.1h0.9v1.9h-0.9zM652.6 833.9h0.9v1.2h-0.9zM632.1 737.9h0.9v1.3h-0.9zM644.2 765.5h0.9v2.0h-0.9zM652.0 801.1h0.9v1.3h-0.9zM657.7 848.4h0.9v1.9h-0.9zM654.5 814.1h0.9v1.2h-0.9zM653.0 806.6h0.9v1.7h-0.9zM655.6 823.3h0.9v1.0h-0.9zM656.1 835.4h0.9v1.8h-0.9zM649.4 824.6h0.9v1.6h-0.9zM661.2 847.5h0.9v1.1h-0.9zM661.1 864.9h0.9v1.5h-0.9zM660.1 907.1h0.9v1.8h-0.9zM651.1 820.1h0.9v2.2h-0.9zM653.1 824.1h0.9v1.3h-0.9zM647.5 797.3h0.9v1.8h-0.9zM654.9 816.0h0.9v1.5h-0.9zM649.0 804.5h0.9v1.0h-0.9zM661.8 892.4h0.9v1.2h-0.9zM658.8 847.4h0.9v1.3h-0.9zM662.0 914.9h0.9v1.5h-0.9zM641.1 776.4h0.9v1.4h-0.9zM640.2 761.4h0.9v1.1h-0.9zM656.7 852.5h0.9v1.7h-0.9zM639.6 768.6h0.9v1.0h-0.9zM660.2 874.7h0.9v1.7h-0.9zM631.1 737.2h0.9v1.5h-0.9zM660.6 858.6h0.9v2.0h-0.9zM648.4 782.3h0.9v1.8h-0.9zM646.7 768.7h0.9v1.9h-0.9zM659.3 856.8h0.9v1.5h-0.9zM650.3 803.7h0.9v1.7h-0.9zM648.3 804.5h0.9v1.1h-0.9zM647.4 808.0h0.9v2.1h-0.9zM657.0 879.6h0.9v1.2h-0.9zM647.0 820.2h0.9v1.7h-0.9zM645.8 759.8h0.9v2.0h-0.9zM657.8 885.4h0.9v2.1h-0.9zM666.2 844.7h0.9v1.9h-0.9zM659.6 879.4h0.9v2.1h-0.9zM662.3 867.2h0.9v1.4h-0.9zM664.1 879.1h0.9v1.2h-0.9zM658.9 884.0h0.9v1.3h-0.9zM653.4 857.1h0.9v1.6h-0.9zM664.6 869.4h0.9v2.0h-0.9zM647.0 800.1h0.9v2.0h-0.9zM628.4 739.6h0.9v2.0h-0.9zM658.9 863.3h0.9v1.5h-0.9zM660.5 854.6h0.9v2.0h-0.9zM656.5 878.6h0.9v2.0h-0.9zM653.7 848.8h0.9v2.1h-0.9zM646.9 784.9h0.9v1.2h-0.9zM656.2 881.4h0.9v2.1h-0.9zM635.6 756.2h0.9v1.6h-0.9zM653.3 824.7h0.9v1.7h-0.9zM653.7 900.1h0.9v1.5h-0.9zM657.5 846.0h0.9v1.5h-0.9zM672.7 900.8h0.9v1.3h-0.9zM663.2 875.9h0.9v2.2h-0.9zM654.6 853.5h0.9v1.5h-0.9zM655.2 828.1h0.9v1.0h-0.9zM644.7 775.8h0.9v2.0h-0.9zM637.6 737.5h0.9v1.3h-0.9zM656.4 812.9h0.9v2.2h-0.9zM660.2 887.2h0.9v1.6h-0.9zM665.5 898.6h0.9v1.3h-0.9zM657.5 831.3h0.9v1.4h-0.9zM644.0 818.1h0.9v1.7h-0.9zM626.9 736.1h0.9v2.2h-0.9zM645.5 785.3h0.9v1.6h-0.9zM662.4 894.7h0.9v1.9h-0.9zM662.2 883.8h0.9v1.4h-0.9zM657.0 859.0h0.9v1.3h-0.9zM651.6 810.3h0.9v1.0h-0.9zM665.5 903.8h0.9v1.8h-0.9zM641.9 761.5h0.9v2.1h-0.9zM663.3 898.4h0.9v1.6h-0.9zM656.2 828.3h0.9v1.3h-0.9zM651.4 822.7h0.9v1.7h-0.9zM656.7 845.7h0.9v1.9h-0.9zM770.4 808.5h0.9v1.8h-0.9zM766.4 806.8h0.9v1.8h-0.9zM764.3 778.1h0.9v1.5h-0.9zM786.3 905.7h0.9v1.4h-0.9zM769.9 820.4h0.9v1.6h-0.9zM786.8 884.6h0.9v2.1h-0.9zM774.2 829.7h0.9v1.7h-0.9zM765.3 787.5h0.9v1.9h-0.9zM762.6 779.3h0.9v1.6h-0.9zM751.2 754.5h0.9v1.7h-0.9zM788.4 884.9h0.9v1.0h-0.9zM769.4 855.6h0.9v1.7h-0.9zM772.0 807.5h0.9v1.3h-0.9zM768.4 844.8h0.9v1.8h-0.9zM769.5 882.6h0.9v2.1h-0.9zM751.9 751.4h0.9v1.4h-0.9zM779.6 882.9h0.9v1.9h-0.9zM753.7 740.9h0.9v1.6h-0.9zM784.6 895.4h0.9v1.3h-0.9zM774.1 841.0h0.9v1.6h-0.9zM750.7 743.4h0.9v1.2h-0.9zM762.7 792.9h0.9v1.1h-0.9zM781.2 791.0h0.9v1.9h-0.9zM761.5 759.2h0.9v2.1h-0.9zM756.6 754.5h0.9v1.2h-0.9zM785.9 902.6h0.9v1.2h-0.9zM763.1 787.1h0.9v1.0h-0.9zM770.9 834.3h0.9v1.8h-0.9zM769.6 888.1h0.9v1.7h-0.9zM763.4 764.4h0.9v1.5h-0.9zM774.0 801.8h0.9v1.7h-0.9zM766.0 830.7h0.9v2.1h-0.9zM775.1 843.5h0.9v1.3h-0.9zM756.3 760.7h0.9v1.9h-0.9zM761.0 752.4h0.9v1.4h-0.9zM761.4 763.8h0.9v1.0h-0.9zM773.9 850.7h0.9v1.1h-0.9zM758.2 760.8h0.9v2.2h-0.9zM758.7 766.7h0.9v1.5h-0.9zM768.5 788.8h0.9v1.9h-0.9zM771.0 833.1h0.9v2.0h-0.9zM758.9 777.9h0.9v1.1h-0.9zM769.6 818.9h0.9v1.9h-0.9zM757.7 736.5h0.9v1.8h-0.9zM768.4 785.3h0.9v2.0h-0.9zM748.5 766.7h0.9v1.7h-0.9zM752.3 759.5h0.9v1.7h-0.9zM783.1 898.2h0.9v1.8h-0.9zM775.9 835.8h0.9v1.2h-0.9zM782.9 911.9h0.9v1.2h-0.9zM785.6 888.2h0.9v1.1h-0.9zM773.4 883.9h0.9v2.2h-0.9zM769.0 777.3h0.9v1.1h-0.9zM769.5 798.4h0.9v1.4h-0.9zM767.4 782.4h0.9v1.6h-0.9zM778.2 862.2h0.9v2.1h-0.9zM782.3 891.6h0.9v1.6h-0.9zM757.4 748.9h0.9v2.0h-0.9zM784.5 873.8h0.9v2.1h-0.9zM784.1 887.0h0.9v1.0h-0.9zM782.4 894.2h0.9v1.3h-0.9zM782.3 877.7h0.9v1.2h-0.9zM764.2 805.2h0.9v2.0h-0.9zM773.5 869.8h0.9v2.1h-0.9zM756.9 753.0h0.9v1.5h-0.9zM768.8 807.9h0.9v2.0h-0.9zM766.4 778.2h0.9v1.5h-0.9zM772.9 891.4h0.9v1.3h-0.9zM777.5 888.4h0.9v1.9h-0.9zM782.9 911.4h0.9v2.0h-0.9zM784.0 914.4h0.9v1.8h-0.9zM765.3 813.8h0.9v1.5h-0.9zM772.2 861.0h0.9v1.1h-0.9zM756.3 747.3h0.9v2.0h-0.9zM770.7 860.2h0.9v1.1h-0.9zM780.4 825.5h0.9v1.4h-0.9zM770.8 782.6h0.9v1.8h-0.9zM781.9 914.6h0.9v1.5h-0.9zM763.4 736.2h0.9v1.1h-0.9zM774.2 850.9h0.9v1.8h-0.9zM759.5 787.8h0.9v1.6h-0.9zM768.0 788.7h0.9v2.0h-0.9zM757.1 763.2h0.9v1.0h-0.9zM771.7 841.1h0.9v1.3h-0.9zM788.6 904.6h0.9v1.4h-0.9zM781.0 915.0h0.9v1.9h-0.9zM765.2 773.1h0.9v2.0h-0.9zM768.0 853.7h0.9v1.4h-0.9zM781.3 852.3h0.9v1.2h-0.9zM765.6 811.2h0.9v1.4h-0.9zM768.2 838.5h0.9v1.6h-0.9zM763.3 766.5h0.9v1.5h-0.9zM751.0 746.3h0.9v1.7h-0.9zM780.2 871.7h0.9v1.9h-0.9zM752.2 755.6h0.9v1.8h-0.9zM766.6 836.3h0.9v1.9h-0.9zM768.8 775.5h0.9v1.1h-0.9zM760.3 744.8h0.9v1.2h-0.9zM757.3 766.3h0.9v2.0h-0.9zM774.4 877.0h0.9v1.9h-0.9zM769.1 815.8h0.9v1.7h-0.9zM785.2 894.0h0.9v2.2h-0.9zM766.2 756.4h0.9v1.8h-0.9zM773.1 861.7h0.9v1.5h-0.9zM763.2 810.8h0.9v1.1h-0.9zM767.6 839.8h0.9v1.5h-0.9zM751.3 742.5h0.9v1.5h-0.9zM770.0 827.9h0.9v1.0h-0.9zM769.3 840.2h0.9v2.2h-0.9zM773.2 868.6h0.9v1.6h-0.9zM767.4 798.6h0.9v1.7h-0.9zM769.6 811.3h0.9v2.1h-0.9zM761.5 752.0h0.9v1.3h-0.9zM766.9 785.9h0.9v1.6h-0.9zM773.7 802.5h0.9v1.0h-0.9zM778.0 876.9h0.9v1.2h-0.9zM771.1 807.7h0.9v1.9h-0.9zM776.4 853.1h0.9v1.3h-0.9zM766.1 797.3h0.9v2.0h-0.9zM764.5 801.0h0.9v1.3h-0.9zM766.1 786.7h0.9v1.4h-0.9zM753.9 760.2h0.9v1.0h-0.9zM759.3 754.3h0.9v1.8h-0.9zM764.6 774.1h0.9v1.1h-0.9zM772.7 838.1h0.9v1.1h-0.9zM784.2 913.7h0.9v2.2h-0.9zM772.6 826.4h0.9v1.7h-0.9zM755.7 737.1h0.9v2.0h-0.9zM777.8 834.2h0.9v2.2h-0.9zM767.5 803.5h0.9v1.3h-0.9zM786.2 898.7h0.9v1.8h-0.9zM776.7 871.6h0.9v1.4h-0.9zM780.2 895.2h0.9v1.6h-0.9zM769.2 869.3h0.9v1.9h-0.9zM768.3 825.3h0.9v1.5h-0.9zM766.4 775.4h0.9v2.1h-0.9zM750.2 744.7h0.9v1.8h-0.9zM778.2 872.3h0.9v2.2h-0.9zM763.5 781.6h0.9v1.5h-0.9zM777.6 838.3h0.9v1.9h-0.9zM822.5 813.4h1.0v1.4h-1.0zM808.8 745.9h1.0v1.6h-1.0zM829.0 846.2h1.0v1.6h-1.0zM810.2 749.1h1.0v1.7h-1.0zM807.6 746.9h1.0v3.8h-1.0zM826.0 829.9h1.0v2.0h-1.0zM818.7 796.5h1.0v3.1h-1.0zM819.6 794.2h1.0v1.1h-1.0zM829.5 848.6h1.0v2.8h-1.0zM812.5 763.6h1.0v3.6h-1.0zM824.7 822.8h1.0v1.6h-1.0zM839.4 821.7h1.0v2.5h-1.0zM838.1 804.6h1.0v1.0h-1.0zM837.4 803.7h1.0v2.3h-1.0zM838.5 810.9h1.0v2.5h-1.0zM838.5 806.3h1.0v1.6h-1.0zM939.3 880.8h0.9v1.2h-0.9zM934.4 805.6h0.9v1.1h-0.9zM936.3 828.9h0.9v1.0h-0.9zM940.8 900.2h0.9v2.1h-0.9zM944.2 910.7h0.9v1.4h-0.9zM936.8 823.7h0.9v1.1h-0.9zM937.7 858.4h0.9v2.1h-0.9zM930.6 774.4h0.9v1.6h-0.9zM940.4 848.8h0.9v1.0h-0.9zM939.3 846.1h0.9v2.0h-0.9zM939.7 879.7h0.9v1.6h-0.9zM937.4 825.7h0.9v1.5h-0.9zM932.8 774.5h0.9v1.2h-0.9zM931.2 776.7h0.9v1.7h-0.9zM933.5 809.4h0.9v1.9h-0.9zM934.7 821.9h0.9v1.8h-0.9zM944.3 908.9h0.9v1.7h-0.9zM946.8 911.3h0.9v1.2h-0.9zM937.5 824.0h0.9v1.1h-0.9zM930.0 783.4h0.9v1.7h-0.9zM704.6 784.4h1.0v3.4h-1.0zM706.5 897.3h1.0v2.9h-1.0zM693.2 797.5h1.0v1.1h-1.0zM694.2 745.3h1.0v3.0h-1.0zM723.3 876.8h1.0v2.4h-1.0zM701.9 761.5h1.0v2.3h-1.0zM713.7 900.6h1.0v2.1h-1.0zM700.7 828.1h1.0v4.0h-1.0zM708.0 750.3h1.0v3.6h-1.0zM693.1 778.8h1.0v2.1h-1.0zM705.3 821.8h1.0v3.5h-1.0zM714.3 853.0h1.0v2.1h-1.0zM706.5 770.6h1.0v3.6h-1.0zM703.0 854.9h1.0v2.6h-1.0zM707.5 885.7h1.0v2.6h-1.0zM697.4 758.3h1.0v2.3h-1.0zM703.3 852.2h1.0v2.9h-1.0zM700.8 855.8h1.0v2.2h-1.0zM695.2 773.4h1.0v3.4h-1.0zM710.8 844.4h1.0v2.8h-1.0zM724.6 903.0h1.0v2.6h-1.0zM715.2 851.9h1.0v4.0h-1.0zM711.0 866.6h1.0v3.4h-1.0zM584.0 800.9h1.0v1.3h-1.0zM584.8 880.7h1.0v2.5h-1.0zM584.0 809.9h1.0v1.0h-1.0zM585.7 835.0h1.0v1.9h-1.0zM602.2 783.8h0.9v2.1h-0.9zM623.3 859.6h0.9v1.0h-0.9zM615.9 818.7h0.9v1.8h-0.9zM599.6 756.2h0.9v1.6h-0.9zM609.9 811.2h0.9v1.8h-0.9zM612.0 827.7h0.9v1.3h-0.9zM615.3 818.1h0.9v1.5h-0.9zM617.5 898.6h0.9v1.6h-0.9zM608.4 769.4h0.9v2.1h-0.9zM601.5 747.5h0.9v2.0h-0.9zM610.1 823.8h0.9v1.3h-0.9zM623.0 912.5h0.9v1.2h-0.9zM613.4 836.5h0.9v2.0h-0.9zM602.9 820.5h0.9v2.2h-0.9zM615.5 821.6h0.9v1.9h-0.9zM621.2 874.0h0.9v1.7h-0.9zM605.3 756.1h0.9v1.4h-0.9zM592.0 792.1h0.9v1.6h-0.9zM739.6 830.0h1.0v3.1h-1.0zM736.7 789.4h1.0v1.7h-1.0zM721.1 742.0h1.0v2.4h-1.0zM737.9 829.6h1.0v2.4h-1.0zM730.6 796.7h1.0v1.7h-1.0zM743.7 811.1h1.0v1.5h-1.0zM739.3 812.6h1.0v1.2h-1.0zM730.7 758.7h1.0v3.9h-1.0zM743.9 809.0h1.0v2.8h-1.0zM748.5 909.1h1.0v3.2h-1.0zM739.5 841.8h1.0v3.9h-1.0zM743.4 897.6h1.0v3.0h-1.0zM730.4 773.6h1.0v2.4h-1.0zM729.8 771.9h1.0v3.4h-1.0zM733.7 809.3h1.0v3.5h-1.0zM734.1 792.4h1.0v2.4h-1.0zM723.3 740.8h1.0v3.6h-1.0zM735.1 794.4h1.0v3.6h-1.0zM737.7 834.4h1.0v3.2h-1.0zM741.4 857.2h1.0v4.3h-1.0zM728.3 742.1h1.0v3.1h-1.0zM739.5 840.2h1.0v3.7h-1.0zM752.5 899.6h1.0v4.7h-1.0zM737.1 776.9h1.0v1.0h-1.0zM736.0 818.7h1.0v2.4h-1.0zM730.4 738.1h1.0v4.8h-1.0zM745.3 898.1h1.0v4.2h-1.0zM745.2 892.5h1.0v2.3h-1.0zM753.4 899.8h1.0v2.4h-1.0zM726.1 747.0h1.0v3.1h-1.0zM797.9 797.7h1.0v1.9h-1.0zM790.4 746.2h1.0v3.1h-1.0zM808.7 904.2h1.0v1.9h-1.0zM814.4 894.7h1.0v2.5h-1.0zM797.7 745.5h1.0v2.5h-1.0zM798.6 813.7h1.0v2.3h-1.0zM797.4 876.7h1.0v2.0h-1.0zM800.9 880.9h1.0v1.4h-1.0zM791.0 794.0h1.0v3.3h-1.0zM788.1 766.0h1.0v1.4h-1.0zM814.8 887.1h1.0v2.6h-1.0zM794.7 861.6h1.0v2.9h-1.0zM805.6 812.2h1.0v3.2h-1.0zM801.6 804.1h1.0v2.5h-1.0zM786.9 742.2h1.0v3.7h-1.0zM809.2 902.9h1.0v3.4h-1.0zM812.8 860.6h1.0v3.7h-1.0zM800.9 807.5h1.0v1.5h-1.0zM789.9 743.7h1.0v1.8h-1.0zM795.5 760.1h1.0v1.4h-1.0zM799.4 863.3h1.0v3.5h-1.0zM796.0 842.1h1.0v2.1h-1.0zM805.8 868.4h1.0v3.3h-1.0zM807.6 832.4h1.0v3.1h-1.0zM774.1 875.9h0.9v1.1h-0.9zM510.4 908.3h0.9v1.1h-0.9zM354.9 853.3h0.9v1.1h-0.9zM958.3 904.3h0.9v1.1h-0.9zM665.7 853.3h0.9v1.1h-0.9zM515.8 842.4h0.9v1.1h-0.9zM338.7 855.6h0.9v1.1h-0.9zM225.0 785.0h0.9v1.1h-0.9zM121.6 812.5h0.9v1.1h-0.9zM449.1 839.5h0.9v1.1h-0.9zM79.5 861.8h0.9v1.1h-0.9zM299.2 766.8h0.9v1.1h-0.9zM963.3 796.9h0.9v1.1h-0.9zM110.7 880.7h0.9v1.1h-0.9zM502.6 843.9h0.9v1.1h-0.9zM466.9 742.3h0.9v1.1h-0.9zM90.4 886.6h0.9v1.1h-0.9zM549.3 749.2h0.9v1.1h-0.9zM400.9 870.2h0.9v1.1h-0.9zM770.7 868.1h0.9v1.1h-0.9zM917.7 817.2h0.9v1.1h-0.9zM205.9 903.0h0.9v1.1h-0.9zM338.9 792.4h0.9v1.1h-0.9zM593.6 915.3h0.9v1.1h-0.9zM858.1 840.1h0.9v1.1h-0.9zM324.0 774.7h0.9v1.1h-0.9zM430.2 825.8h0.9v1.1h-0.9zM526.8 858.1h0.9v1.1h-0.9zM567.6 848.3h0.9v1.1h-0.9zM159.4 756.0h0.9v1.1h-0.9zM347.9 774.1h0.9v1.1h-0.9zM733.8 815.5h0.9v1.1h-0.9zM932.8 746.1h0.9v1.1h-0.9zM811.9 893.4h0.9v1.1h-0.9zM630.8 757.7h0.9v1.1h-0.9zM268.8 891.8h0.9v1.1h-0.9zM428.4 839.6h0.9v1.1h-0.9zM834.4 776.3h0.9v1.1h-0.9zM753.2 857.2h0.9v1.1h-0.9zM462.6 870.6h0.9v1.1h-0.9zM359.9 881.1h0.9v1.1h-0.9zM822.1 845.3h0.9v1.1h-0.9zM546.9 784.0h0.9v1.1h-0.9zM668.1 752.4h0.9v1.1h-0.9zM183.5 810.2h0.9v1.1h-0.9zM687.4 887.9h0.9v1.1h-0.9zM462.1 898.6h0.9v1.1h-0.9zM591.5 905.6h0.9v1.1h-0.9zM400.3 816.4h0.9v1.1h-0.9zM769.3 747.2h0.9v1.1h-0.9zM530.2 880.6h0.9v1.1h-0.9zM293.3 775.7h0.9v1.1h-0.9zM326.3 760.9h0.9v1.1h-0.9zM888.4 898.9h0.9v1.1h-0.9zM549.7 852.8h0.9v1.1h-0.9zM248.2 880.7h0.9v1.1h-0.9zM693.2 765.0h0.9v1.1h-0.9zM364.3 811.0h0.9v1.1h-0.9zM812.7 894.0h0.9v1.1h-0.9z"/>
<path fill="#007fff" d="M171.5 417.8h0.9v1.4h-0.9zM366.1 423.9h0.9v1.4h-0.9zM363.0 411.7h0.9v1.4h-0.9zM362.4 414.4h0.9v1.4h-0.9zM362.0 422.0h0.9v1.4h-0.9zM368.0 409.9h0.9v1.4h-0.9zM364.9 422.0h0.9v1.4h-0.9zM380.9 434.2h0.9v1.4h-0.9zM387.2 407.6h0.9v1.4h-0.9zM393.7 429.4h0.9v1.4h-0.9zM372.1 402.8h0.9v1.4h-0.9zM380.0 423.6h0.9v1.4h-0.9zM387.5 422.5h0.9v1.4h-0.9zM372.2 408.3h0.9v1.4h-0.9zM386.4 419.5h0.9v1.4h-0.9zM389.6 414.8h0.9v1.4h-0.9zM372.5 400.3h0.9v1.4h-0.9zM386.1 441.1h0.9v1.4h-0.9zM375.6 393.6h0.9v1.4h-0.9zM379.4 397.4h0.9v1.4h-0.9zM383.6 431.2h0.9v1.4h-0.9zM384.2 416.2h0.9v1.4h-0.9zM384.9 401.0h0.9v1.4h-0.9zM383.0 406.4h0.9v1.4h-0.9zM377.5 397.7h0.9v1.4h-0.9zM392.8 419.9h0.9v1.4h-0.9zM368.6 395.0h0.9v1.4h-0.9zM375.8 427.8h0.9v1.4h-0.9zM374.6 409.6h0.9v1.4h-0.9zM367.4 407.0h0.9v1.4h-0.9zM384.0 408.4h0.9v1.4h-0.9zM499.2 419.9h0.9v1.4h-0.9zM493.5 401.7h0.9v1.4h-0.9zM490.1 410.6h0.9v1.4h-0.9zM497.9 411.7h0.9v1.4h-0.9zM499.9 423.6h0.9v1.4h-0.9zM508.3 437.1h0.9v1.4h-0.9zM512.9 427.0h0.9v1.4h-0.9zM492.5 411.3h0.9v1.4h-0.9zM495.3 417.8h0.9v1.4h-0.9zM498.4 396.1h0.9v1.4h-0.9zM497.9 426.3h0.9v1.4h-0.9zM496.8 416.8h0.9v1.4h-0.9zM508.5 416.8h0.9v1.4h-0.9zM509.7 428.8h0.9v1.4h-0.9zM492.4 403.7h0.9v1.4h-0.9zM491.1 400.4h0.9v1.4h-0.9zM565.8 430.5h0.9v1.4h-0.9zM558.8 408.0h0.9v1.4h-0.9zM555.5 410.4h0.9v1.4h-0.9zM566.7 426.0h0.9v1.4h-0.9zM563.9 421.5h0.9v1.4h-0.9zM560.9 406.8h0.9v1.4h-0.9zM558.6 416.9h0.9v1.4h-0.9zM558.3 399.9h0.9v1.4h-0.9zM561.1 414.9h0.9v1.4h-0.9zM562.4 421.8h0.9v1.4h-0.9zM658.5 409.4h0.9v1.4h-0.9zM660.3 410.8h0.9v1.4h-0.9zM659.4 421.0h0.9v1.4h-0.9zM658.6 416.3h0.9v1.4h-0.9zM778.6 407.0h0.9v1.4h-0.9zM778.8 410.1h0.9v1.4h-0.9zM776.7 416.2h0.9v1.4h-0.9zM780.9 406.8h0.9v1.4h-0.9zM781.2 420.5h0.9v1.4h-0.9zM786.1 416.3h0.9v1.4h-0.9zM778.5 404.0h0.9v1.4h-0.9zM774.8 411.6h0.9v1.4h-0.9zM776.2 418.3h0.9v1.4h-0.9zM780.0 413.2h0.9v1.4h-0.9zM775.7 419.3h0.9v1.4h-0.9zM784.4 409.4h0.9v1.4h-0.9zM775.8 404.9h0.9v1.4h-0.9zM784.1 420.3h0.9v1.4h-0.9zM776.1 414.0h0.9v1.4h-0.9zM894.7 421.6h0.9v1.4h-0.9zM888.9 414.4h0.9v1.4h-0.9zM895.6 407.3h0.9v1.4h-0.9zM894.3 414.9h0.9v1.4h-0.9zM889.2 400.9h0.9v1.4h-0.9zM886.5 420.3h0.9v1.4h-0.9zM887.1 421.6h0.9v1.4h-0.9zM893.9 413.8h0.9v1.4h-0.9zM943.7 409.6h0.9v1.4h-0.9zM948.8 416.2h0.9v1.4h-0.9zM678.7 523.2h0.9v1.4h-0.9zM826.7 530.7h0.9v1.4h-0.9zM830.4 517.7h0.9v1.4h-0.9zM826.0 512.4h0.9v1.4h-0.9zM828.5 530.0h0.9v1.4h-0.9zM824.8 532.0h0.9v1.4h-0.9zM826.4 508.5h0.9v1.4h-0.9zM822.7 527.2h0.9v1.4h-0.9zM823.9 518.7h0.9v1.4h-0.9zM825.3 520.0h0.9v1.4h-0.9zM321.7 522.5h0.9v1.2h-0.9zM292.6 399.3h0.9v1.2h-0.9zM313.1 456.4h0.9v1.2h-0.9zM326.3 527.7h0.9v1.2h-0.9zM862.3 722.2h1.0v2.6h-1.0zM866.7 717.5h1.0v2.6h-1.0zM864.3 708.7h1.0v2.6h-1.0zM866.6 709.6h1.0v2.6h-1.0zM864.2 704.3h1.0v2.6h-1.0zM397.3 904.6h0.9v1.1h-0.9zM378.8 808.2h0.9v1.7h-0.9zM385.9 853.8h0.9v1.3h-0.9zM397.1 895.8h0.9v1.8h-0.9zM353.4 768.5h0.9v1.4h-0.9zM392.3 892.8h0.9v1.2h-0.9zM354.0 745.7h0.9v1.7h-0.9zM373.0 796.0h0.9v1.3h-0.9zM389.2 884.6h0.9v1.7h-0.9zM390.4 839.7h0.9v1.1h-0.9zM340.6 737.5h0.9v1.0h-0.9zM343.3 739.7h0.9v1.1h-0.9zM380.4 839.5h0.9v2.2h-0.9zM380.3 831.6h0.9v1.5h-0.9zM402.4 914.1h0.9v1.5h-0.9zM355.8 777.5h0.9v1.6h-0.9zM388.1 900.4h0.9v2.1h-0.9zM350.7 759.9h0.9v1.2h-0.9zM393.0 856.1h0.9v1.2h-0.9zM370.7 793.9h0.9v2.0h-0.9zM359.9 779.7h0.9v1.8h-0.9zM353.5 769.4h0.9v1.4h-0.9zM385.2 852.4h0.9v1.1h-0.9zM448.3 812.6h0.9v1.4h-0.9zM453.8 865.8h0.9v1.1h-0.9zM466.9 911.1h0.9v1.1h-0.9zM456.8 850.2h0.9v1.1h-0.9zM466.1 878.8h0.9v1.6h-0.9zM459.9 854.3h0.9v1.1h-0.9zM458.1 834.5h0.9v1.1h-0.9zM454.6 823.2h0.9v1.7h-0.9zM450.0 814.8h0.9v1.2h-0.9zM657.6 822.7h0.9v2.1h-0.9zM661.3 885.6h0.9v1.5h-0.9zM660.2 873.3h0.9v2.1h-0.9zM652.1 851.5h0.9v2.1h-0.9zM648.9 779.3h0.9v1.8h-0.9zM665.2 901.4h0.9v1.5h-0.9zM649.2 810.7h0.9v1.4h-0.9zM649.3 796.0h0.9v2.0h-0.9zM662.6 872.3h0.9v1.7h-0.9zM659.4 872.1h0.9v1.7h-0.9zM662.5 906.8h0.9v1.3h-0.9zM646.8 792.6h0.9v1.2h-0.9zM641.7 773.2h0.9v1.5h-0.9zM653.6 810.9h0.9v1.3h-0.9zM661.6 883.6h0.9v1.6h-0.9zM648.8 829.7h0.9v2.1h-0.9zM666.7 900.4h0.9v1.7h-0.9zM661.3 891.4h0.9v1.6h-0.9zM775.8 843.5h0.9v1.0h-0.9zM770.8 792.6h0.9v2.0h-0.9zM770.9 815.6h0.9v1.1h-0.9zM782.2 885.6h0.9v2.1h-0.9zM774.8 835.3h0.9v2.2h-0.9zM773.9 898.6h0.9v1.5h-0.9zM762.6 799.3h0.9v1.9h-0.9zM770.7 819.8h0.9v2.1h-0.9zM788.6 891.4h0.9v2.0h-0.9zM771.6 783.3h0.9v1.2h-0.9zM758.2 737.7h0.9v1.1h-0.9zM770.9 849.3h0.9v1.2h-0.9zM774.1 791.8h0.9v1.7h-0.9zM782.0 901.3h0.9v1.9h-0.9zM742.7 738.2h0.9v1.9h-0.9zM763.5 766.4h0.9v1.2h-0.9zM777.0 830.4h0.9v1.5h-0.9zM762.7 766.6h0.9v1.6h-0.9zM772.6 865.5h0.9v1.2h-0.9zM771.8 830.6h0.9v1.5h-0.9zM756.1 739.2h0.9v2.1h-0.9zM774.8 822.8h0.9v1.9h-0.9zM768.0 795.2h0.9v1.2h-0.9zM780.1 881.0h0.9v1.4h-0.9zM760.3 768.2h0.9v1.8h-0.9zM762.0 806.7h0.9v1.2h-0.9zM763.1 791.0h0.9v2.0h-0.9zM778.0 908.1h0.9v1.6h-0.9zM783.9 885.1h0.9v1.7h-0.9zM818.4 795.1h1.0v3.9h-1.0zM820.9 805.3h1.0v3.3h-1.0zM825.6 833.3h1.0v3.9h-1.0zM939.6 849.6h0.9v1.7h-0.9zM939.2 868.9h0.9v2.1h-0.9zM931.4 786.8h0.9v1.7h-0.9zM932.2 778.3h0.9v1.5h-0.9zM944.5 910.7h0.9v1.8h-0.9zM706.1 867.6h1.0v2.7h-1.0zM709.0 858.6h1.0v2.9h-1.0zM711.8 881.9h1.0v2.6h-1.0zM721.0 912.8h1.0v1.3h-1.0zM717.1 889.8h1.0v2.6h-1.0zM585.8 878.9h1.0v1.5h-1.0zM585.6 811.1h1.0v4.9h-1.0zM586.2 859.9h1.0v2.6h-1.0zM585.7 845.5h1.0v3.8h-1.0zM607.8 805.3h0.9v1.6h-0.9zM603.0 771.5h0.9v1.6h-0.9zM735.4 797.1h1.0v4.7h-1.0zM730.8 744.0h1.0v1.4h-1.0zM744.4 869.8h1.0v2.5h-1.0zM733.9 747.7h1.0v2.3h-1.0zM798.1 834.0h1.0v1.6h-1.0zM810.7 914.4h1.0v1.8h-1.0zM814.7 910.7h1.0v2.2h-1.0zM804.8 874.3h1.0v2.4h-1.0z"/>
<path fill="#19ffe5" d="M359.0 409.7h0.9v1.4h-0.9zM363.9 413.9h0.9v1.4h-0.9zM380.6 416.5h0.9v1.4h-0.9zM378.5 404.6h0.9v1.4h-0.9zM379.6 425.6h0.9v1.4h-0.9zM384.5 416.7h0.9v1.4h-0.9zM382.8 418.2h0.9v1.4h-0.9zM376.4 406.6h0.9v1.4h-0.9zM379.8 415.8h0.9v1.4h-0.9zM379.2 411.4h0.9v1.4h-0.9zM372.7 413.9h0.9v1.4h-0.9zM377.5 415.8h0.9v1.4h-0.9zM383.1 423.2h0.9v1.4h-0.9zM380.2 429.6h0.9v1.4h-0.9zM388.8 434.4h0.9v1.4h-0.9zM497.0 413.2h0.9v1.4h-0.9zM501.0 406.1h0.9v1.4h-0.9zM492.8 407.7h0.9v1.4h-0.9zM502.1 401.9h0.9v1.4h-0.9zM496.1 406.4h0.9v1.4h-0.9zM500.3 426.2h0.9v1.4h-0.9zM493.6 412.7h0.9v1.4h-0.9zM562.9 413.5h0.9v1.4h-0.9zM564.1 416.8h0.9v1.4h-0.9zM562.5 417.0h0.9v1.4h-0.9zM776.7 411.8h0.9v1.4h-0.9zM781.0 414.7h0.9v1.4h-0.9zM782.5 421.9h0.9v1.4h-0.9zM887.3 419.0h0.9v1.4h-0.9zM895.0 418.0h0.9v1.4h-0.9zM891.8 421.7h0.9v1.4h-0.9zM891.5 417.5h0.9v1.4h-0.9zM889.6 415.9h0.9v1.4h-0.9zM895.6 417.6h0.9v1.4h-0.9zM887.4 406.5h0.9v1.4h-0.9zM888.6 423.7h0.9v1.4h-0.9zM887.4 403.5h0.9v1.4h-0.9zM678.1 532.2h0.9v1.4h-0.9zM675.4 519.4h0.9v1.4h-0.9zM824.9 521.7h0.9v1.4h-0.9zM825.9 534.0h0.9v1.4h-0.9zM826.3 524.1h0.9v1.4h-0.9zM826.4 526.3h0.9v1.4h-0.9zM507.7 473.2h0.9v1.1h-0.9zM186.7 582.2h0.9v1.1h-0.9zM174.3 576.6h0.9v1.1h-0.9zM390.0 873.9h0.9v1.4h-0.9zM358.8 773.7h0.9v1.4h-0.9zM384.1 842.1h0.9v1.9h-0.9zM342.6 735.9h0.9v1.4h-0.9zM347.4 737.9h0.9v1.1h-0.9zM391.5 906.4h0.9v1.1h-0.9zM436.0 777.2h0.9v1.4h-0.9zM446.8 792.8h0.9v1.7h-0.9zM450.6 849.7h0.9v2.2h-0.9zM657.4 874.8h0.9v1.8h-0.9zM629.3 750.7h0.9v1.1h-0.9zM659.7 822.8h0.9v1.8h-0.9zM661.2 896.9h0.9v2.0h-0.9zM669.1 894.1h0.9v1.5h-0.9zM784.1 912.9h0.9v2.0h-0.9zM767.6 788.2h0.9v1.8h-0.9zM789.2 914.2h0.9v1.1h-0.9zM764.4 845.7h0.9v2.1h-0.9zM754.9 752.1h0.9v1.4h-0.9zM826.1 833.4h1.0v4.0h-1.0zM134.6 863.9h0.9v1.1h-0.9zM960.0 791.9h0.9v1.1h-0.9zM877.8 843.9h0.9v1.1h-0.9z"/>
<path fill="#0032ff" d="M370.0 426.3h0.9v1.4h-0.9zM364.5 421.5h0.9v1.4h-0.9zM358.7 406.0h0.9v1.4h-0.9zM368.3 416.4h0.9v1.4h-0.9zM367.6 420.9h0.9v1.4h-0.9zM357.6 412.2h0.9v1.4h-0.9zM360.4 412.6h0.9v1.4h-0.9zM361.8 406.9h0.9v1.4h-0.9zM361.9 409.4h0.9v1.4h-0.9zM376.2 427.7h0.9v1.4h-0.9zM371.3 414.8h0.9v1.4h-0.9zM389.9 414.8h0.9v1.4h-0.9zM390.0 423.0h0.9v1.4h-0.9zM384.2 409.3h0.9v1.4h-0.9zM392.0 414.1h0.9v1.4h-0.9zM389.3 412.3h0.9v1.4h-0.9zM374.4 389.6h0.9v1.4h-0.9zM385.7 441.4h0.9v1.4h-0.9zM390.3 413.1h0.9v1.4h-0.9zM379.0 396.5h0.9v1.4h-0.9zM395.6 438.7h0.9v1.4h-0.9zM391.3 415.1h0.9v1.4h-0.9zM377.6 424.8h0.9v1.4h-0.9zM373.9 393.5h0.9v1.4h-0.9zM387.5 411.4h0.9v1.4h-0.9zM395.5 417.8h0.9v1.4h-0.9zM380.1 395.4h0.9v1.4h-0.9zM381.0 437.0h0.9v1.4h-0.9zM493.4 407.6h0.9v1.4h-0.9zM496.9 417.6h0.9v1.4h-0.9zM499.0 402.7h0.9v1.4h-0.9zM512.3 440.8h0.9v1.4h-0.9zM510.4 417.7h0.9v1.4h-0.9zM511.6 432.2h0.9v1.4h-0.9zM513.6 419.6h0.9v1.4h-0.9zM500.1 425.6h0.9v1.4h-0.9zM500.5 398.6h0.9v1.4h-0.9zM495.1 415.1h0.9v1.4h-0.9zM510.8 417.6h0.9v1.4h-0.9zM495.4 415.1h0.9v1.4h-0.9zM489.9 402.0h0.9v1.4h-0.9zM496.4 424.8h0.9v1.4h-0.9zM566.8 420.3h0.9v1.4h-0.9zM556.2 412.4h0.9v1.4h-0.9zM562.5 408.9h0.9v1.4h-0.9zM559.7 423.7h0.9v1.4h-0.9zM562.6 424.2h0.9v1.4h-0.9zM557.4 404.8h0.9v1.4h-0.9zM559.5 424.2h0.9v1.4h-0.9zM568.9 421.1h0.9v1.4h-0.9zM563.7 404.4h0.9v1.4h-0.9zM564.6 403.2h0.9v1.4h-0.9zM567.3 419.7h0.9v1.4h-0.9zM557.3 405.5h0.9v1.4h-0.9zM561.5 403.5h0.9v1.4h-0.9zM655.2 415.1h0.9v1.4h-0.9zM658.6 407.7h0.9v1.4h-0.9zM659.4 410.7h0.9v1.4h-0.9zM660.7 407.1h0.9v1.4h-0.9zM654.9 412.2h0.9v1.4h-0.9zM787.8 410.7h0.9v1.4h-0.9zM784.3 406.8h0.9v1.4h-0.9zM775.7 408.8h0.9v1.4h-0.9zM786.9 425.7h0.9v1.4h-0.9zM783.7 399.9h0.9v1.4h-0.9zM786.2 403.5h0.9v1.4h-0.9zM772.0 407.2h0.9v1.4h-0.9zM783.5 422.4h0.9v1.4h-0.9zM784.6 420.6h0.9v1.4h-0.9zM774.7 403.4h0.9v1.4h-0.9zM782.3 409.6h0.9v1.4h-0.9zM775.9 398.5h0.9v1.4h-0.9zM778.5 416.4h0.9v1.4h-0.9zM781.7 420.6h0.9v1.4h-0.9zM895.6 435.3h0.9v1.4h-0.9zM892.9 435.0h0.9v1.4h-0.9zM894.5 428.6h0.9v1.4h-0.9zM896.3 406.0h0.9v1.4h-0.9zM889.5 421.3h0.9v1.4h-0.9zM889.5 400.5h0.9v1.4h-0.9zM894.5 430.0h0.9v1.4h-0.9zM898.1 434.5h0.9v1.4h-0.9zM887.9 405.4h0.9v1.4h-0.9zM942.0 413.7h0.9v1.4h-0.9zM947.4 407.1h0.9v1.4h-0.9zM948.6 415.6h0.9v1.4h-0.9zM942.8 412.2h0.9v1.4h-0.9zM943.2 406.4h0.9v1.4h-0.9zM949.7 413.8h0.9v1.4h-0.9zM677.0 516.7h0.9v1.4h-0.9zM680.9 516.9h0.9v1.4h-0.9zM675.7 516.3h0.9v1.4h-0.9zM674.9 514.8h0.9v1.4h-0.9zM677.3 525.3h0.9v1.4h-0.9zM679.6 515.6h0.9v1.4h-0.9zM830.1 514.5h0.9v1.4h-0.9zM822.6 537.6h0.9v1.4h-0.9zM829.7 514.8h0.9v1.4h-0.9zM828.3 531.5h0.9v1.4h-0.9zM824.6 508.6h0.9v1.4h-0.9zM309.8 448.9h0.9v1.2h-0.9zM321.9 519.3h0.9v1.2h-0.9zM298.6 422.6h0.9v1.2h-0.9zM319.1 474.3h0.9v1.2h-0.9zM302.5 429.0h0.9v1.2h-0.9zM311.1 455.9h0.9v1.2h-0.9zM290.5 393.5h0.9v1.2h-0.9zM318.0 486.2h0.9v1.2h-0.9zM320.7 511.2h0.9v1.2h-0.9zM317.1 468.8h0.9v1.2h-0.9zM324.4 520.5h0.9v1.2h-0.9zM322.3 534.7h0.9v1.2h-0.9zM315.7 471.1h0.9v1.2h-0.9zM324.0 531.5h0.9v1.2h-0.9zM133.2 381.8h0.9v1.1h-0.9zM206.7 498.4h0.9v1.1h-0.9zM451.6 388.9h0.9v1.1h-0.9zM531.1 443.2h0.9v1.1h-0.9zM476.7 373.0h0.9v1.1h-0.9zM827.9 388.4h0.9v1.1h-0.9zM88.0 462.2h0.9v1.1h-0.9zM693.3 442.6h0.9v1.1h-0.9zM293.4 445.8h0.9v1.1h-0.9zM530.5 411.6h0.9v1.1h-0.9zM288.7 469.6h0.9v1.1h-0.9zM795.6 410.6h0.9v1.1h-0.9zM128.1 399.6h0.9v1.1h-0.9zM403.0 502.7h0.9v1.1h-0.9zM819.4 499.3h0.9v1.1h-0.9zM604.6 505.4h0.9v1.1h-0.9zM513.3 394.3h0.9v1.1h-0.9zM68.4 357.8h0.9v1.1h-0.9zM561.2 429.8h0.9v1.1h-0.9zM425.2 363.9h0.9v1.1h-0.9zM398.5 394.7h0.9v1.1h-0.9zM462.1 405.4h0.9v1.1h-0.9zM202.5 439.3h0.9v1.1h-0.9zM87.3 533.7h0.9v1.1h-0.9zM634.4 404.2h0.9v1.1h-0.9zM553.9 499.8h0.9v1.1h-0.9zM432.0 501.2h0.9v1.1h-0.9zM353.9 516.4h0.9v1.1h-0.9zM108.9 399.1h0.9v1.1h-0.9zM671.3 519.5h0.9v1.1h-0.9zM933.3 519.1h0.9v1.1h-0.9zM625.1 464.5h0.9v1.1h-0.9zM271.4 375.7h0.9v1.1h-0.9zM884.8 518.7h0.9v1.1h-0.9zM477.7 484.6h0.9v1.1h-0.9zM822.0 516.1h0.9v1.1h-0.9zM194.7 362.2h0.9v1.1h-0.9zM251.1 470.1h0.9v1.1h-0.9zM297.6 362.4h0.9v1.1h-0.9zM220.3 460.6h0.9v1.1h-0.9zM830.0 506.8h0.9v1.1h-0.9zM544.4 525.3h0.9v1.1h-0.9zM700.9 719.2h1.0v2.4h-1.0zM697.4 715.7h1.0v2.4h-1.0zM696.1 714.3h1.0v2.4h-1.0zM700.2 709.0h1.0v2.4h-1.0zM801.1 711.2h1.0v2.4h-1.0zM862.5 711.8h1.0v2.6h-1.0zM862.7 719.2h1.0v2.6h-1.0zM862.3 705.7h1.0v2.6h-1.0zM860.8 705.9h1.0v2.6h-1.0zM860.4 709.1h1.0v2.6h-1.0zM862.3 711.8h1.0v2.6h-1.0zM863.4 726.6h1.0v2.6h-1.0zM859.6 714.0h1.0v2.6h-1.0zM213.4 687.6h0.9v1.1h-0.9zM391.8 583.6h0.9v1.1h-0.9zM233.9 713.2h0.9v1.1h-0.9zM691.2 624.5h0.9v1.1h-0.9zM384.8 581.1h0.9v1.1h-0.9zM136.6 679.3h0.9v1.1h-0.9zM240.1 644.3h0.9v1.1h-0.9zM361.4 616.3h0.9v1.1h-0.9zM454.0 713.4h0.9v1.1h-0.9zM588.7 598.6h0.9v1.1h-0.9zM615.4 576.7h0.9v1.1h-0.9zM350.9 705.7h0.9v1.1h-0.9zM728.2 676.2h0.9v1.1h-0.9zM577.8 722.3h0.9v1.1h-0.9zM318.8 692.6h0.9v1.1h-0.9zM730.7 636.8h0.9v1.1h-0.9zM194.6 710.0h0.9v1.1h-0.9zM625.8 622.5h0.9v1.1h-0.9zM709.1 595.3h0.9v1.1h-0.9zM440.2 721.9h0.9v1.1h-0.9zM266.4 606.9h0.9v1.1h-0.9zM770.2 705.6h0.9v1.1h-0.9zM852.5 605.8h0.9v1.1h-0.9zM967.3 646.8h0.9v1.1h-0.9zM901.5 581.7h0.9v1.1h-0.9zM347.5 577.5h0.9v1.1h-0.9zM389.4 882.7h0.9v2.1h-0.9zM368.2 803.5h0.9v1.7h-0.9zM384.2 871.3h0.9v1.7h-0.9zM345.1 745.6h0.9v1.2h-0.9zM392.6 874.7h0.9v1.7h-0.9zM369.4 802.6h0.9v1.5h-0.9zM349.6 766.4h0.9v1.0h-0.9zM388.9 848.1h0.9v1.9h-0.9zM367.6 793.1h0.9v2.2h-0.9zM364.0 799.7h0.9v1.4h-0.9zM354.4 767.5h0.9v2.2h-0.9zM382.5 834.3h0.9v1.4h-0.9zM386.0 833.8h0.9v1.8h-0.9zM346.3 742.8h0.9v1.8h-0.9zM378.0 811.0h0.9v1.8h-0.9zM369.6 804.0h0.9v1.0h-0.9zM394.4 876.5h0.9v1.0h-0.9zM357.0 766.9h0.9v1.7h-0.9zM385.5 857.1h0.9v1.2h-0.9zM396.8 907.4h0.9v1.3h-0.9zM340.2 748.2h0.9v1.5h-0.9zM382.2 848.3h0.9v2.2h-0.9zM349.1 760.0h0.9v2.1h-0.9zM337.5 739.5h0.9v2.0h-0.9zM386.7 878.2h0.9v1.5h-0.9zM359.4 776.2h0.9v2.1h-0.9zM377.4 834.7h0.9v1.2h-0.9zM390.6 892.4h0.9v1.2h-0.9zM388.0 901.4h0.9v2.0h-0.9zM382.4 843.3h0.9v1.5h-0.9zM380.5 844.6h0.9v1.6h-0.9zM352.1 776.8h0.9v2.2h-0.9zM395.8 888.5h0.9v1.9h-0.9zM384.6 846.7h0.9v2.2h-0.9zM389.7 905.8h0.9v1.9h-0.9zM351.4 773.9h0.9v1.0h-0.9zM347.0 743.4h0.9v2.2h-0.9zM355.3 759.0h0.9v1.1h-0.9zM386.4 874.4h0.9v1.5h-0.9zM390.5 884.5h0.9v1.4h-0.9zM359.7 773.5h0.9v2.0h-0.9zM343.1 746.4h0.9v1.5h-0.9zM389.0 909.4h0.9v1.9h-0.9zM359.1 772.9h0.9v1.0h-0.9zM374.5 821.1h0.9v1.5h-0.9zM358.0 776.9h0.9v1.7h-0.9zM363.6 778.7h0.9v1.4h-0.9zM383.6 865.7h0.9v1.3h-0.9zM451.3 809.7h0.9v2.1h-0.9zM456.6 896.1h0.9v1.0h-0.9zM422.1 772.3h0.9v1.7h-0.9zM435.0 787.6h0.9v2.0h-0.9zM447.2 843.7h0.9v2.1h-0.9zM428.3 762.7h0.9v1.9h-0.9zM436.9 786.5h0.9v1.8h-0.9zM426.1 763.1h0.9v2.1h-0.9zM456.6 853.7h0.9v2.1h-0.9zM433.1 773.4h0.9v1.6h-0.9zM465.3 895.6h0.9v1.5h-0.9zM441.4 806.1h0.9v1.4h-0.9zM473.5 909.9h0.9v2.0h-0.9zM454.8 846.7h0.9v1.1h-0.9zM427.6 749.2h0.9v1.1h-0.9zM447.3 840.4h0.9v1.6h-0.9zM437.4 784.0h0.9v2.0h-0.9zM446.2 821.6h0.9v1.8h-0.9zM442.3 808.5h0.9v1.2h-0.9zM665.5 863.8h0.9v1.2h-0.9zM628.9 735.0h0.9v1.6h-0.9zM649.7 837.9h0.9v2.0h-0.9zM657.0 837.8h0.9v1.7h-0.9zM658.6 893.3h0.9v1.6h-0.9zM662.8 866.2h0.9v2.1h-0.9zM639.1 775.3h0.9v1.8h-0.9zM648.5 797.9h0.9v1.7h-0.9zM656.4 851.6h0.9v1.7h-0.9zM657.4 906.3h0.9v1.2h-0.9zM648.7 789.9h0.9v1.8h-0.9zM626.2 737.8h0.9v1.9h-0.9zM661.6 901.4h0.9v1.2h-0.9zM649.7 796.9h0.9v2.0h-0.9zM656.9 840.5h0.9v1.4h-0.9zM660.4 885.4h0.9v2.2h-0.9zM632.1 757.0h0.9v1.6h-0.9zM660.9 883.0h0.9v1.2h-0.9zM643.2 774.3h0.9v1.1h-0.9zM660.3 859.0h0.9v1.8h-0.9zM638.8 745.9h0.9v1.1h-0.9zM665.1 877.9h0.9v1.8h-0.9zM658.7 909.1h0.9v1.2h-0.9zM646.0 778.7h0.9v1.9h-0.9zM634.2 764.5h0.9v1.7h-0.9zM665.8 895.5h0.9v1.9h-0.9zM651.3 848.3h0.9v1.2h-0.9zM652.1 812.9h0.9v1.2h-0.9zM655.5 826.3h0.9v1.3h-0.9zM653.5 842.0h0.9v2.2h-0.9zM666.1 875.5h0.9v1.3h-0.9zM659.6 837.2h0.9v1.7h-0.9zM664.9 901.0h0.9v1.2h-0.9zM762.9 788.9h0.9v2.2h-0.9zM773.6 824.8h0.9v2.0h-0.9zM765.5 781.7h0.9v1.4h-0.9zM771.0 812.5h0.9v1.3h-0.9zM771.7 839.9h0.9v1.8h-0.9zM754.0 766.2h0.9v1.1h-0.9zM778.9 882.1h0.9v1.3h-0.9zM780.1 901.8h0.9v1.5h-0.9zM776.3 870.4h0.9v1.1h-0.9zM786.8 890.7h0.9v1.1h-0.9zM755.4 739.4h0.9v1.6h-0.9zM766.4 806.6h0.9v2.1h-0.9zM764.1 758.1h0.9v1.4h-0.9zM776.6 844.8h0.9v2.1h-0.9zM769.5 799.0h0.9v2.0h-0.9zM779.0 889.7h0.9v2.0h-0.9zM774.9 843.6h0.9v1.6h-0.9zM783.1 904.4h0.9v1.6h-0.9zM757.8 757.1h0.9v1.9h-0.9zM783.8 859.7h0.9v1.7h-0.9zM780.8 886.5h0.9v1.0h-0.9zM775.4 911.8h0.9v1.6h-0.9zM776.2 877.5h0.9v1.8h-0.9zM763.4 764.6h0.9v1.3h-0.9zM772.3 873.6h0.9v1.0h-0.9zM759.9 735.6h0.9v2.1h-0.9zM781.2 867.4h0.9v1.9h-0.9zM750.1 757.2h0.9v1.9h-0.9zM761.0 751.9h0.9v2.0h-0.9zM765.7 749.0h0.9v2.1h-0.9zM770.3 807.2h0.9v1.6h-0.9zM761.8 770.5h0.9v1.1h-0.9zM772.3 794.8h0.9v1.1h-0.9zM756.5 746.1h0.9v1.1h-0.9zM760.8 741.4h0.9v2.2h-0.9zM772.4 874.2h0.9v1.5h-0.9zM774.1 892.5h0.9v1.3h-0.9zM762.8 795.0h0.9v1.8h-0.9zM774.4 877.5h0.9v1.2h-0.9zM770.7 856.0h0.9v1.1h-0.9zM775.0 861.6h0.9v1.9h-0.9zM780.4 910.7h0.9v1.3h-0.9zM774.2 899.7h0.9v2.0h-0.9zM781.2 906.9h0.9v1.8h-0.9zM774.8 894.8h0.9v2.2h-0.9zM776.6 884.0h0.9v1.3h-0.9zM764.9 748.6h0.9v1.5h-0.9zM774.2 882.7h0.9v1.4h-0.9zM789.4 909.1h0.9v1.3h-0.9zM752.7 755.0h0.9v1.1h-0.9zM784.8 912.8h0.9v2.1h-0.9zM782.2 910.9h0.9v1.8h-0.9zM774.8 913.8h0.9v1.3h-0.9zM781.1 896.2h0.9v1.9h-0.9zM762.2 792.1h0.9v1.9h-0.9zM769.8 808.1h0.9v1.1h-0.9zM783.2 893.6h0.9v1.6h-0.9zM789.3 913.4h0.9v2.0h-0.9zM759.5 761.9h0.9v1.8h-0.9zM782.9 911.1h0.9v1.0h-0.9zM774.0 819.7h0.9v1.6h-0.9zM774.3 859.0h0.9v1.3h-0.9zM764.8 779.3h0.9v1.7h-0.9zM774.7 819.3h0.9v1.6h-0.9zM761.9 770.1h0.9v2.1h-0.9zM761.7 771.4h0.9v2.1h-0.9zM771.1 783.8h0.9v1.5h-0.9zM759.1 774.4h0.9v1.9h-0.9zM768.0 818.2h0.9v1.0h-0.9zM776.6 879.8h0.9v1.2h-0.9zM771.9 844.7h0.9v1.3h-0.9zM778.3 907.6h0.9v2.0h-0.9zM827.0 840.7h1.0v2.1h-1.0zM816.7 784.1h1.0v3.8h-1.0zM825.9 832.5h1.0v2.6h-1.0zM824.6 815.1h1.0v1.2h-1.0zM818.3 797.2h1.0v2.4h-1.0zM818.0 786.0h1.0v1.8h-1.0zM838.1 802.0h1.0v3.6h-1.0zM837.7 803.6h1.0v3.2h-1.0zM838.9 810.0h1.0v3.1h-1.0zM934.8 793.6h0.9v1.8h-0.9zM942.3 892.2h0.9v1.2h-0.9zM943.2 898.2h0.9v1.4h-0.9zM938.2 823.2h0.9v1.1h-0.9zM941.1 870.4h0.9v1.8h-0.9zM937.5 837.5h0.9v2.2h-0.9zM934.2 792.8h0.9v1.9h-0.9zM944.6 909.2h0.9v1.2h-0.9zM713.3 903.7h1.0v1.9h-1.0zM700.6 886.2h1.0v1.0h-1.0zM711.8 909.3h1.0v1.7h-1.0zM682.5 818.5h1.0v1.1h-1.0zM680.5 748.0h1.0v1.7h-1.0zM715.9 911.6h1.0v3.5h-1.0zM697.2 744.7h1.0v2.9h-1.0zM711.0 889.3h1.0v1.2h-1.0zM586.8 876.7h1.0v2.4h-1.0zM585.1 826.3h1.0v1.0h-1.0zM622.4 896.3h0.9v1.7h-0.9zM606.3 788.5h0.9v2.0h-0.9zM621.9 887.8h0.9v2.1h-0.9zM607.9 801.4h0.9v2.1h-0.9zM614.6 814.6h0.9v1.4h-0.9zM616.2 815.1h0.9v1.8h-0.9zM635.2 901.6h0.9v1.3h-0.9zM604.9 811.1h0.9v1.4h-0.9zM622.7 895.0h0.9v1.2h-0.9zM597.0 795.5h0.9v2.0h-0.9zM615.0 865.9h0.9v1.1h-0.9zM616.2 843.3h0.9v1.3h-0.9zM608.9 833.7h0.9v1.6h-0.9zM596.0 766.1h0.9v1.6h-0.9zM739.8 773.7h1.0v3.0h-1.0zM748.4 867.8h1.0v4.6h-1.0zM747.8 894.5h1.0v4.7h-1.0zM754.5 901.6h1.0v2.7h-1.0zM728.0 740.7h1.0v3.0h-1.0zM747.7 887.7h1.0v4.5h-1.0zM737.9 860.1h1.0v4.0h-1.0zM752.2 900.7h1.0v3.7h-1.0zM745.7 879.2h1.0v2.8h-1.0zM745.9 821.8h1.0v2.7h-1.0zM743.0 841.3h1.0v1.3h-1.0zM746.5 894.3h1.0v3.4h-1.0zM795.1 735.3h1.0v3.8h-1.0zM797.4 911.6h1.0v2.7h-1.0zM805.9 884.6h1.0v2.2h-1.0zM795.8 795.8h1.0v3.4h-1.0zM805.4 849.8h1.0v1.1h-1.0zM811.7 885.8h1.0v1.5h-1.0zM811.1 910.5h1.0v2.3h-1.0zM794.3 776.4h1.0v3.1h-1.0zM785.5 761.1h1.0v2.9h-1.0zM807.3 853.0h1.0v2.1h-1.0zM793.7 792.3h1.0v2.3h-1.0zM792.6 775.7h1.0v2.8h-1.0zM797.0 808.8h1.0v3.6h-1.0zM794.5 828.4h1.0v1.7h-1.0zM798.9 833.0h1.0v3.4h-1.0z"/>
<path fill="#0065ff" d="M361.9 413.3h0.9v1.4h-0.9zM368.8 418.1h0.9v1.4h-0.9zM364.4 408.8h0.9v1.4h-0.9zM357.5 412.9h0.9v1.4h-0.9zM366.0 406.7h0.9v1.4h-0.9zM363.3 414.8h0.9v1.4h-0.9zM363.9 416.2h0.9v1.4h-0.9zM370.5 423.7h0.9v1.4h-0.9zM359.8 410.5h0.9v1.4h-0.9zM358.7 409.9h0.9v1.4h-0.9zM386.3 420.4h0.9v1.4h-0.9zM378.6 410.1h0.9v1.4h-0.9zM379.2 409.7h0.9v1.4h-0.9zM373.7 392.5h0.9v1.4h-0.9zM379.9 411.0h0.9v1.4h-0.9zM378.3 428.5h0.9v1.4h-0.9zM371.9 422.8h0.9v1.4h-0.9zM375.1 396.5h0.9v1.4h-0.9zM374.1 406.7h0.9v1.4h-0.9zM373.6 411.2h0.9v1.4h-0.9zM381.7 411.0h0.9v1.4h-0.9zM368.9 408.8h0.9v1.4h-0.9zM376.8 427.1h0.9v1.4h-0.9zM366.9 402.2h0.9v1.4h-0.9zM382.1 435.7h0.9v1.4h-0.9zM384.3 428.3h0.9v1.4h-0.9zM389.8 431.2h0.9v1.4h-0.9zM388.2 405.1h0.9v1.4h-0.9zM389.3 426.0h0.9v1.4h-0.9zM376.6 428.3h0.9v1.4h-0.9zM389.8 441.6h0.9v1.4h-0.9zM506.7 419.1h0.9v1.4h-0.9zM507.7 419.9h0.9v1.4h-0.9zM504.3 431.3h0.9v1.4h-0.9zM496.2 406.8h0.9v1.4h-0.9zM505.2 417.9h0.9v1.4h-0.9zM505.4 413.0h0.9v1.4h-0.9zM497.5 396.7h0.9v1.4h-0.9zM498.3 419.8h0.9v1.4h-0.9zM492.0 415.1h0.9v1.4h-0.9zM510.9 423.3h0.9v1.4h-0.9zM500.8 427.3h0.9v1.4h-0.9zM502.0 409.1h0.9v1.4h-0.9zM492.4 420.4h0.9v1.4h-0.9zM498.5 421.0h0.9v1.4h-0.9zM502.5 419.8h0.9v1.4h-0.9zM499.6 411.2h0.9v1.4h-0.9zM508.3 431.5h0.9v1.4h-0.9zM495.2 409.4h0.9v1.4h-0.9zM502.4 407.0h0.9v1.4h-0.9zM508.1 434.8h0.9v1.4h-0.9zM502.3 410.1h0.9v1.4h-0.9zM500.0 420.7h0.9v1.4h-0.9zM491.9 400.6h0.9v1.4h-0.9zM560.4 415.8h0.9v1.4h-0.9zM555.4 404.8h0.9v1.4h-0.9zM567.6 412.7h0.9v1.4h-0.9zM561.3 408.1h0.9v1.4h-0.9zM557.1 411.0h0.9v1.4h-0.9zM564.2 413.0h0.9v1.4h-0.9zM555.4 408.7h0.9v1.4h-0.9zM566.3 418.0h0.9v1.4h-0.9zM661.2 412.7h0.9v1.4h-0.9zM659.6 411.7h0.9v1.4h-0.9zM659.9 411.1h0.9v1.4h-0.9zM777.3 419.8h0.9v1.4h-0.9zM788.4 418.7h0.9v1.4h-0.9zM776.3 407.9h0.9v1.4h-0.9zM778.2 420.3h0.9v1.4h-0.9zM777.5 423.0h0.9v1.4h-0.9zM784.7 424.6h0.9v1.4h-0.9zM785.1 406.2h0.9v1.4h-0.9zM784.3 415.0h0.9v1.4h-0.9zM785.9 427.8h0.9v1.4h-0.9zM778.1 409.5h0.9v1.4h-0.9zM891.4 410.3h0.9v1.4h-0.9zM893.9 430.1h0.9v1.4h-0.9zM885.2 399.8h0.9v1.4h-0.9zM893.5 418.1h0.9v1.4h-0.9zM884.4 400.2h0.9v1.4h-0.9zM895.5 419.3h0.9v1.4h-0.9zM888.5 412.8h0.9v1.4h-0.9zM893.0 432.4h0.9v1.4h-0.9zM896.3 427.8h0.9v1.4h-0.9zM896.8 426.4h0.9v1.4h-0.9zM887.2 430.7h0.9v1.4h-0.9zM947.1 417.6h0.9v1.4h-0.9zM943.9 408.0h0.9v1.4h-0.9zM946.2 421.5h0.9v1.4h-0.9zM946.4 419.0h0.9v1.4h-0.9zM680.9 530.8h0.9v1.4h-0.9zM678.7 527.4h0.9v1.4h-0.9zM675.1 532.3h0.9v1.4h-0.9zM675.9 524.5h0.9v1.4h-0.9zM683.5 528.9h0.9v1.4h-0.9zM676.6 531.1h0.9v1.4h-0.9zM680.0 530.0h0.9v1.4h-0.9zM830.0 537.5h0.9v1.4h-0.9zM831.2 529.3h0.9v1.4h-0.9zM829.6 530.3h0.9v1.4h-0.9zM829.3 527.5h0.9v1.4h-0.9zM831.6 523.3h0.9v1.4h-0.9zM832.2 535.3h0.9v1.4h-0.9zM824.1 511.0h0.9v1.4h-0.9zM822.6 519.5h0.9v1.4h-0.9zM822.9 532.6h0.9v1.4h-0.9zM314.5 468.0h0.9v1.2h-0.9zM319.1 501.1h0.9v1.2h-0.9zM323.0 491.7h0.9v1.2h-0.9zM316.0 469.1h0.9v1.2h-0.9zM301.8 422.5h0.9v1.2h-0.9zM318.3 491.3h0.9v1.2h-0.9zM311.5 455.8h0.9v1.2h-0.9zM297.8 414.8h0.9v1.2h-0.9zM310.0 455.4h0.9v1.2h-0.9zM260.1 358.7h0.9v1.2h-0.9zM698.6 709.7h1.0v2.4h-1.0zM697.6 719.1h1.0v2.4h-1.0zM801.3 717.2h1.0v2.4h-1.0zM865.9 718.6h1.0v2.6h-1.0zM860.7 723.9h1.0v2.6h-1.0zM383.7 823.9h0.9v1.5h-0.9zM360.2 766.0h0.9v2.1h-0.9zM393.9 882.6h0.9v1.5h-0.9zM392.0 899.4h0.9v1.4h-0.9zM361.7 790.2h0.9v1.9h-0.9zM371.2 799.4h0.9v2.1h-0.9zM393.9 878.4h0.9v1.7h-0.9zM384.6 852.6h0.9v1.3h-0.9zM377.6 826.9h0.9v1.5h-0.9zM383.5 832.6h0.9v1.6h-0.9zM355.3 767.4h0.9v1.1h-0.9zM385.8 832.1h0.9v1.4h-0.9zM380.8 826.6h0.9v1.6h-0.9zM393.7 908.7h0.9v1.0h-0.9zM390.5 896.1h0.9v1.0h-0.9zM387.4 845.8h0.9v2.2h-0.9zM377.4 805.8h0.9v2.0h-0.9zM384.1 851.3h0.9v1.7h-0.9zM394.4 902.7h0.9v2.0h-0.9zM463.8 850.0h0.9v1.8h-0.9zM420.9 755.0h0.9v2.2h-0.9zM450.7 809.1h0.9v2.0h-0.9zM454.2 857.0h0.9v1.2h-0.9zM463.4 909.0h0.9v1.1h-0.9zM442.4 852.1h0.9v1.3h-0.9zM429.2 764.5h0.9v1.4h-0.9zM469.0 895.0h0.9v1.9h-0.9zM456.7 817.7h0.9v1.2h-0.9zM463.8 910.1h0.9v2.2h-0.9zM452.3 854.1h0.9v1.6h-0.9zM440.4 760.6h0.9v1.1h-0.9zM654.6 842.8h0.9v1.1h-0.9zM640.7 798.6h0.9v2.2h-0.9zM655.7 828.2h0.9v1.0h-0.9zM642.4 779.5h0.9v1.5h-0.9zM627.8 738.6h0.9v1.6h-0.9zM653.0 818.3h0.9v1.5h-0.9zM644.9 748.8h0.9v1.8h-0.9zM649.6 800.4h0.9v2.0h-0.9zM781.7 884.8h0.9v1.7h-0.9zM761.7 817.4h0.9v1.7h-0.9zM770.2 827.6h0.9v1.4h-0.9zM769.3 797.2h0.9v1.1h-0.9zM775.4 833.9h0.9v1.7h-0.9zM766.2 818.5h0.9v1.7h-0.9zM756.7 736.5h0.9v1.5h-0.9zM776.3 877.0h0.9v1.8h-0.9zM774.2 827.4h0.9v2.2h-0.9zM783.6 896.4h0.9v2.0h-0.9zM764.3 764.9h0.9v1.5h-0.9zM776.9 812.6h0.9v1.1h-0.9zM778.3 827.3h0.9v1.8h-0.9zM757.2 771.8h0.9v1.1h-0.9zM771.6 888.1h0.9v1.4h-0.9zM781.5 837.4h0.9v1.0h-0.9zM783.8 859.1h0.9v1.8h-0.9zM780.2 876.2h0.9v1.8h-0.9zM778.8 854.8h0.9v2.2h-0.9zM774.3 811.0h0.9v1.5h-0.9zM779.4 829.8h0.9v1.4h-0.9zM776.4 876.6h0.9v1.1h-0.9zM791.2 893.4h0.9v2.1h-0.9zM780.7 893.0h0.9v1.0h-0.9zM750.3 762.1h0.9v1.8h-0.9zM776.2 855.5h0.9v1.6h-0.9zM776.5 842.1h0.9v1.8h-0.9zM769.2 827.6h0.9v1.7h-0.9zM780.8 858.3h0.9v1.5h-0.9zM783.4 887.8h0.9v1.0h-0.9zM786.9 883.6h0.9v1.8h-0.9zM773.2 825.7h0.9v1.8h-0.9zM766.9 798.4h0.9v1.1h-0.9zM774.7 865.3h0.9v2.2h-0.9zM773.2 855.2h0.9v1.5h-0.9zM772.4 846.8h0.9v1.1h-0.9zM773.1 852.4h0.9v1.7h-0.9zM756.9 749.3h0.9v1.1h-0.9zM781.6 911.1h0.9v2.0h-0.9zM807.7 737.0h1.0v1.7h-1.0zM823.6 819.9h1.0v3.3h-1.0zM811.2 759.4h1.0v2.1h-1.0zM816.8 792.3h1.0v3.9h-1.0zM813.3 765.0h1.0v1.3h-1.0zM825.9 829.9h1.0v1.4h-1.0zM938.7 842.6h0.9v1.2h-0.9zM933.4 805.3h0.9v1.7h-0.9zM936.4 828.5h0.9v1.4h-0.9zM930.2 771.3h0.9v1.5h-0.9zM700.3 776.3h1.0v3.3h-1.0zM723.0 876.0h1.0v2.2h-1.0zM701.9 760.6h1.0v3.5h-1.0zM696.4 838.4h1.0v1.4h-1.0zM713.6 840.8h1.0v1.3h-1.0zM695.6 764.2h1.0v2.1h-1.0zM607.5 804.7h0.9v2.1h-0.9zM615.6 870.8h0.9v1.5h-0.9zM614.9 857.8h0.9v1.1h-0.9zM593.9 764.4h0.9v1.7h-0.9zM615.5 836.7h0.9v1.5h-0.9zM745.3 807.9h1.0v4.7h-1.0zM749.6 903.0h1.0v1.6h-1.0zM745.0 865.6h1.0v2.2h-1.0zM743.2 804.3h1.0v4.3h-1.0zM742.5 863.3h1.0v3.4h-1.0zM790.6 792.3h1.0v3.4h-1.0zM795.6 801.0h1.0v2.2h-1.0zM803.0 776.9h1.0v3.4h-1.0zM811.8 911.4h1.0v3.5h-1.0zM796.0 749.8h1.0v2.5h-1.0zM795.4 859.8h1.0v1.1h-1.0zM805.9 895.4h1.0v1.2h-1.0zM806.2 862.6h1.0v3.5h-1.0z"/>
<path fill="#004cff" d="M365.6 412.0h0.9v1.4h-0.9zM360.6 410.9h0.9v1.4h-0.9zM364.6 419.5h0.9v1.4h-0.9zM367.5 414.2h0.9v1.4h-0.9zM391.1 443.2h0.9v1.4h-0.9zM387.6 407.1h0.9v1.4h-0.9zM368.8 418.7h0.9v1.4h-0.9zM367.3 413.1h0.9v1.4h-0.9zM393.7 430.2h0.9v1.4h-0.9zM373.9 418.3h0.9v1.4h-0.9zM384.1 435.6h0.9v1.4h-0.9zM390.5 412.2h0.9v1.4h-0.9zM382.9 406.2h0.9v1.4h-0.9zM365.5 398.3h0.9v1.4h-0.9zM388.7 437.4h0.9v1.4h-0.9zM367.8 396.5h0.9v1.4h-0.9zM373.7 412.2h0.9v1.4h-0.9zM379.5 403.0h0.9v1.4h-0.9zM392.6 434.1h0.9v1.4h-0.9zM386.0 412.8h0.9v1.4h-0.9zM373.0 414.5h0.9v1.4h-0.9zM375.8 424.8h0.9v1.4h-0.9zM383.5 424.4h0.9v1.4h-0.9zM507.4 431.8h0.9v1.4h-0.9zM509.7 438.2h0.9v1.4h-0.9zM496.6 416.2h0.9v1.4h-0.9zM499.2 433.0h0.9v1.4h-0.9zM507.8 434.0h0.9v1.4h-0.9zM498.8 395.6h0.9v1.4h-0.9zM500.0 399.0h0.9v1.4h-0.9zM495.4 421.3h0.9v1.4h-0.9zM514.7 426.3h0.9v1.4h-0.9zM492.8 403.8h0.9v1.4h-0.9zM560.4 401.0h0.9v1.4h-0.9zM554.1 398.1h0.9v1.4h-0.9zM557.0 407.4h0.9v1.4h-0.9zM565.5 431.9h0.9v1.4h-0.9zM557.9 415.2h0.9v1.4h-0.9zM568.9 430.3h0.9v1.4h-0.9zM567.1 428.6h0.9v1.4h-0.9zM655.3 407.6h0.9v1.4h-0.9zM661.4 421.4h0.9v1.4h-0.9zM786.0 423.1h0.9v1.4h-0.9zM783.0 407.8h0.9v1.4h-0.9zM782.3 428.7h0.9v1.4h-0.9zM775.6 423.1h0.9v1.4h-0.9zM779.0 420.4h0.9v1.4h-0.9zM781.0 406.5h0.9v1.4h-0.9zM784.2 419.3h0.9v1.4h-0.9zM787.2 416.0h0.9v1.4h-0.9zM776.6 404.3h0.9v1.4h-0.9zM780.1 428.6h0.9v1.4h-0.9zM894.1 418.6h0.9v1.4h-0.9zM891.3 406.8h0.9v1.4h-0.9zM892.1 431.5h0.9v1.4h-0.9zM894.1 433.0h0.9v1.4h-0.9zM885.5 398.3h0.9v1.4h-0.9zM885.2 427.5h0.9v1.4h-0.9zM890.5 404.3h0.9v1.4h-0.9zM881.5 416.9h0.9v1.4h-0.9zM894.7 424.5h0.9v1.4h-0.9zM899.3 420.0h0.9v1.4h-0.9zM889.6 411.4h0.9v1.4h-0.9zM890.1 433.1h0.9v1.4h-0.9zM890.2 422.8h0.9v1.4h-0.9zM941.5 412.0h0.9v1.4h-0.9zM945.7 407.9h0.9v1.4h-0.9zM947.5 414.6h0.9v1.4h-0.9zM676.9 515.2h0.9v1.4h-0.9zM822.6 533.8h0.9v1.4h-0.9zM831.0 529.6h0.9v1.4h-0.9zM831.6 519.4h0.9v1.4h-0.9zM820.7 527.4h0.9v1.4h-0.9zM823.3 531.7h0.9v1.4h-0.9zM830.4 509.9h0.9v1.4h-0.9zM826.3 509.1h0.9v1.4h-0.9zM830.9 528.0h0.9v1.4h-0.9zM825.0 522.7h0.9v1.4h-0.9zM828.6 524.7h0.9v1.4h-0.9zM828.3 520.1h0.9v1.4h-0.9zM311.2 450.0h0.9v1.2h-0.9zM321.2 510.7h0.9v1.2h-0.9zM321.6 495.2h0.9v1.2h-0.9zM310.2 458.5h0.9v1.2h-0.9zM284.7 389.6h0.9v1.2h-0.9zM314.3 466.5h0.9v1.2h-0.9zM657.0 486.5h0.9v1.1h-0.9zM664.1 499.8h0.9v1.1h-0.9zM174.0 447.7h0.9v1.1h-0.9zM740.2 514.2h0.9v1.1h-0.9zM706.9 431.1h0.9v1.1h-0.9zM777.7 388.9h0.9v1.1h-0.9zM939.2 366.1h0.9v1.1h-0.9zM883.0 406.5h0.9v1.1h-0.9zM787.7 510.3h0.9v1.1h-0.9zM717.3 443.5h0.9v1.1h-0.9zM838.6 374.5h0.9v1.1h-0.9zM350.0 529.2h0.9v1.1h-0.9zM966.6 516.3h0.9v1.1h-0.9zM519.1 392.8h0.9v1.1h-0.9zM894.1 473.4h0.9v1.1h-0.9zM177.8 401.5h0.9v1.1h-0.9zM144.8 517.2h0.9v1.1h-0.9zM491.8 409.4h0.9v1.1h-0.9zM602.2 366.2h0.9v1.1h-0.9zM205.6 479.1h0.9v1.1h-0.9zM505.4 379.8h0.9v1.1h-0.9zM367.1 500.0h0.9v1.1h-0.9zM537.8 514.8h0.9v1.1h-0.9zM92.2 525.1h0.9v1.1h-0.9zM249.7 398.5h0.9v1.1h-0.9zM291.0 511.7h0.9v1.1h-0.9zM698.8 717.0h1.0v2.4h-1.0zM701.1 715.6h1.0v2.4h-1.0zM699.5 716.7h1.0v2.4h-1.0zM695.7 719.3h1.0v2.4h-1.0zM802.1 716.4h1.0v2.4h-1.0zM862.2 716.2h1.0v2.6h-1.0zM862.8 719.1h1.0v2.6h-1.0zM862.3 709.5h1.0v2.6h-1.0zM679.3 672.1h0.9v1.1h-0.9zM217.8 617.3h0.9v1.1h-0.9zM762.5 579.3h0.9v1.1h-0.9zM251.0 547.4h0.9v1.1h-0.9zM282.1 713.3h0.9v1.1h-0.9zM314.2 574.9h0.9v1.1h-0.9zM443.5 618.7h0.9v1.1h-0.9zM636.0 697.0h0.9v1.1h-0.9zM85.1 703.5h0.9v1.1h-0.9zM140.8 678.7h0.9v1.1h-0.9zM214.0 550.8h0.9v1.1h-0.9zM393.0 853.4h0.9v2.1h-0.9zM393.7 891.2h0.9v1.3h-0.9zM354.3 779.2h0.9v1.6h-0.9zM387.8 838.8h0.9v1.4h-0.9zM389.9 872.7h0.9v1.4h-0.9zM343.3 742.4h0.9v2.0h-0.9zM394.9 895.6h0.9v1.7h-0.9zM391.9 849.2h0.9v1.5h-0.9zM384.9 892.7h0.9v1.8h-0.9zM378.7 819.5h0.9v1.1h-0.9zM391.2 904.4h0.9v2.0h-0.9zM354.3 761.9h0.9v1.4h-0.9zM391.0 857.7h0.9v1.9h-0.9zM380.5 830.9h0.9v1.1h-0.9zM392.6 902.0h0.9v2.2h-0.9zM362.1 775.4h0.9v1.6h-0.9zM389.9 914.6h0.9v2.1h-0.9zM394.6 894.5h0.9v1.6h-0.9zM375.4 821.9h0.9v1.7h-0.9zM349.7 760.5h0.9v1.8h-0.9zM350.1 750.4h0.9v1.3h-0.9zM385.7 869.5h0.9v1.8h-0.9zM384.4 844.3h0.9v1.5h-0.9zM385.5 864.0h0.9v1.7h-0.9zM342.4 738.6h0.9v1.9h-0.9zM349.5 737.6h0.9v2.2h-0.9zM341.7 749.9h0.9v1.1h-0.9zM361.8 786.9h0.9v1.3h-0.9zM338.3 740.2h0.9v1.8h-0.9zM374.1 824.8h0.9v1.1h-0.9zM389.7 857.1h0.9v1.4h-0.9zM384.0 865.0h0.9v2.2h-0.9zM350.2 752.2h0.9v1.9h-0.9zM386.1 839.1h0.9v2.1h-0.9zM345.5 747.4h0.9v2.1h-0.9zM346.5 751.8h0.9v1.0h-0.9zM346.8 758.2h0.9v1.8h-0.9zM374.3 812.6h0.9v1.4h-0.9zM390.3 906.7h0.9v1.5h-0.9zM365.9 788.5h0.9v1.1h-0.9zM393.9 905.1h0.9v1.1h-0.9zM386.3 842.2h0.9v1.7h-0.9zM459.1 864.1h0.9v1.5h-0.9zM444.1 818.4h0.9v1.9h-0.9zM454.7 848.1h0.9v1.7h-0.9zM457.8 897.9h0.9v1.9h-0.9zM447.2 826.5h0.9v1.7h-0.9zM470.0 848.5h0.9v2.2h-0.9zM464.7 912.4h0.9v2.0h-0.9zM459.1 877.9h0.9v1.9h-0.9zM446.1 821.5h0.9v1.3h-0.9zM458.6 828.8h0.9v1.8h-0.9zM458.0 888.8h0.9v2.1h-0.9zM425.6 755.5h0.9v1.8h-0.9zM452.1 884.9h0.9v1.5h-0.9zM455.1 871.3h0.9v1.3h-0.9zM443.0 787.8h0.9v1.3h-0.9zM455.0 885.6h0.9v1.0h-0.9zM463.3 896.0h0.9v1.9h-0.9zM441.4 791.7h0.9v1.7h-0.9zM458.4 864.9h0.9v1.4h-0.9zM465.9 914.0h0.9v1.2h-0.9zM443.9 845.1h0.9v1.8h-0.9zM459.7 882.5h0.9v1.2h-0.9zM444.8 823.6h0.9v2.0h-0.9zM464.9 843.5h0.9v2.1h-0.9zM648.7 784.5h0.9v1.5h-0.9zM651.9 792.6h0.9v1.7h-0.9zM641.7 751.0h0.9v1.0h-0.9zM642.7 762.5h0.9v2.0h-0.9zM644.9 807.0h0.9v2.1h-0.9zM662.5 890.9h0.9v2.0h-0.9zM657.5 866.7h0.9v1.4h-0.9zM658.3 891.8h0.9v1.5h-0.9zM646.7 816.3h0.9v1.1h-0.9zM664.2 905.9h0.9v1.5h-0.9zM655.8 836.1h0.9v1.2h-0.9zM644.9 776.4h0.9v2.0h-0.9zM633.5 757.3h0.9v1.2h-0.9zM651.7 837.3h0.9v1.1h-0.9zM647.2 773.3h0.9v1.2h-0.9zM657.2 901.0h0.9v2.2h-0.9zM665.6 904.9h0.9v1.0h-0.9zM641.5 775.5h0.9v1.1h-0.9zM655.5 817.3h0.9v2.1h-0.9zM640.3 775.4h0.9v1.4h-0.9zM664.1 907.5h0.9v1.5h-0.9zM662.0 869.5h0.9v1.6h-0.9zM643.6 793.9h0.9v1.4h-0.9zM641.9 769.0h0.9v2.1h-0.9zM641.8 765.4h0.9v2.0h-0.9zM655.4 819.1h0.9v1.3h-0.9zM662.6 907.8h0.9v1.3h-0.9zM660.0 832.6h0.9v1.3h-0.9zM763.2 752.7h0.9v1.2h-0.9zM783.8 875.0h0.9v1.2h-0.9zM777.4 834.8h0.9v1.7h-0.9zM770.3 848.3h0.9v1.5h-0.9zM770.3 890.8h0.9v1.8h-0.9zM769.9 798.6h0.9v1.8h-0.9zM764.1 741.7h0.9v1.7h-0.9zM786.5 904.9h0.9v1.4h-0.9zM765.0 793.1h0.9v2.0h-0.9zM775.0 861.8h0.9v2.0h-0.9zM784.1 853.3h0.9v2.1h-0.9zM755.2 747.2h0.9v2.0h-0.9zM765.2 870.5h0.9v1.9h-0.9zM753.5 737.2h0.9v2.2h-0.9zM778.2 901.0h0.9v1.2h-0.9zM767.2 812.0h0.9v1.5h-0.9zM775.2 853.0h0.9v1.2h-0.9zM750.0 742.4h0.9v1.8h-0.9zM764.0 776.0h0.9v1.2h-0.9zM783.7 863.4h0.9v2.1h-0.9zM768.8 786.5h0.9v1.7h-0.9zM774.9 837.3h0.9v1.4h-0.9zM781.5 868.8h0.9v1.8h-0.9zM784.0 912.1h0.9v1.1h-0.9zM778.3 812.2h0.9v1.3h-0.9zM778.0 875.3h0.9v1.7h-0.9zM766.0 790.2h0.9v1.4h-0.9zM751.0 737.5h0.9v1.2h-0.9zM764.3 763.4h0.9v1.7h-0.9zM771.5 836.1h0.9v1.7h-0.9zM754.0 771.5h0.9v1.6h-0.9zM781.4 907.2h0.9v1.8h-0.9zM762.9 781.4h0.9v1.1h-0.9zM780.7 870.2h0.9v2.0h-0.9zM755.1 743.2h0.9v1.8h-0.9zM772.2 822.7h0.9v1.8h-0.9zM770.7 777.5h0.9v1.6h-0.9zM772.4 832.2h0.9v1.6h-0.9zM783.6 885.3h0.9v1.1h-0.9zM778.7 859.8h0.9v1.0h-0.9zM756.2 777.3h0.9v1.5h-0.9zM764.8 788.3h0.9v1.9h-0.9zM774.7 836.9h0.9v1.0h-0.9zM763.3 761.3h0.9v1.8h-0.9zM771.9 808.7h0.9v1.3h-0.9zM782.2 895.1h0.9v1.7h-0.9zM769.6 865.5h0.9v1.4h-0.9zM772.4 857.8h0.9v1.7h-0.9zM786.0 906.8h0.9v1.7h-0.9zM759.7 771.6h0.9v1.7h-0.9zM772.6 834.4h0.9v1.2h-0.9zM754.0 736.0h0.9v1.7h-0.9zM806.4 735.4h1.0v1.5h-1.0zM815.9 782.2h1.0v2.8h-1.0zM815.9 780.5h1.0v1.4h-1.0zM816.6 784.1h1.0v2.0h-1.0zM826.1 832.9h1.0v3.1h-1.0zM812.5 761.4h1.0v3.1h-1.0zM837.5 803.4h1.0v2.0h-1.0zM943.7 907.8h0.9v2.0h-0.9zM941.3 902.0h0.9v1.1h-0.9zM941.2 864.4h0.9v2.1h-0.9zM934.4 800.5h0.9v2.1h-0.9zM940.0 862.2h0.9v1.0h-0.9zM940.0 863.4h0.9v1.2h-0.9zM940.9 873.9h0.9v1.1h-0.9zM698.2 855.3h1.0v1.5h-1.0zM723.3 826.5h1.0v2.5h-1.0zM704.4 751.3h1.0v1.2h-1.0zM723.5 911.7h1.0v3.4h-1.0zM715.2 892.0h1.0v3.3h-1.0zM710.4 846.2h1.0v3.3h-1.0zM703.9 835.2h1.0v2.9h-1.0zM698.6 818.1h1.0v3.0h-1.0zM697.8 828.8h1.0v1.7h-1.0zM700.0 806.9h1.0v1.6h-1.0zM708.0 845.0h1.0v3.2h-1.0zM608.4 793.8h0.9v1.1h-0.9zM616.4 848.0h0.9v1.4h-0.9zM623.2 904.8h0.9v1.1h-0.9zM635.4 903.3h0.9v1.5h-0.9zM614.3 884.2h0.9v1.0h-0.9zM606.2 815.1h0.9v1.1h-0.9zM737.1 782.8h1.0v3.0h-1.0zM739.5 825.9h1.0v3.1h-1.0zM741.0 799.7h1.0v1.3h-1.0zM746.7 825.9h1.0v4.3h-1.0zM745.1 828.5h1.0v1.6h-1.0zM728.2 736.7h1.0v2.2h-1.0zM722.3 754.2h1.0v1.8h-1.0zM793.8 765.1h1.0v4.0h-1.0zM806.4 821.3h1.0v1.5h-1.0zM802.6 847.5h1.0v3.8h-1.0zM813.6 859.6h1.0v2.1h-1.0zM799.1 835.5h1.0v2.6h-1.0zM811.3 884.4h1.0v2.5h-1.0zM793.8 813.7h1.0v1.5h-1.0zM802.8 852.5h1.0v2.7h-1.0zM793.1 820.2h1.0v3.2h-1.0zM792.3 823.9h1.0v3.8h-1.0zM799.0 888.1h1.0v2.1h-1.0zM791.6 786.2h1.0v1.6h-1.0zM794.8 766.8h1.0v3.0h-1.0z"/>
<path fill="#0099ff" d="M369.0 423.2h0.9v1.4h-0.9zM363.5 422.2h0.9v1.4h-0.9zM359.6 407.1h0.9v1.4h-0.9zM358.4 413.5h0.9v1.4h-0.9zM358.2 406.1h0.9v1.4h-0.9zM362.8 416.3h0.9v1.4h-0.9zM357.5 410.8h0.9v1.4h-0.9zM359.4 415.4h0.9v1.4h-0.9zM370.0 423.1h0.9v1.4h-0.9zM364.0 416.2h0.9v1.4h-0.9zM369.1 410.3h0.9v1.4h-0.9zM381.6 419.7h0.9v1.4h-0.9zM393.6 425.4h0.9v1.4h-0.9zM375.7 397.2h0.9v1.4h-0.9zM386.2 429.9h0.9v1.4h-0.9zM373.9 424.5h0.9v1.4h-0.9zM383.2 429.7h0.9v1.4h-0.9zM385.4 417.5h0.9v1.4h-0.9zM388.0 409.2h0.9v1.4h-0.9zM393.0 426.8h0.9v1.4h-0.9zM389.8 410.6h0.9v1.4h-0.9zM376.9 430.7h0.9v1.4h-0.9zM384.4 417.8h0.9v1.4h-0.9zM377.9 423.1h0.9v1.4h-0.9zM376.0 414.0h0.9v1.4h-0.9zM382.0 409.2h0.9v1.4h-0.9zM391.3 419.7h0.9v1.4h-0.9zM371.2 407.6h0.9v1.4h-0.9zM380.9 414.9h0.9v1.4h-0.9zM375.5 402.5h0.9v1.4h-0.9zM507.3 411.4h0.9v1.4h-0.9zM497.5 422.5h0.9v1.4h-0.9zM498.7 421.7h0.9v1.4h-0.9zM499.4 411.5h0.9v1.4h-0.9zM507.9 432.0h0.9v1.4h-0.9zM508.3 418.2h0.9v1.4h-0.9zM495.8 419.6h0.9v1.4h-0.9zM505.7 434.9h0.9v1.4h-0.9zM510.6 437.2h0.9v1.4h-0.9zM508.9 422.9h0.9v1.4h-0.9zM501.9 419.2h0.9v1.4h-0.9zM496.4 427.5h0.9v1.4h-0.9zM497.9 410.7h0.9v1.4h-0.9zM495.3 425.4h0.9v1.4h-0.9zM494.2 402.2h0.9v1.4h-0.9zM503.0 431.2h0.9v1.4h-0.9zM507.5 431.2h0.9v1.4h-0.9zM500.2 423.3h0.9v1.4h-0.9zM504.2 410.8h0.9v1.4h-0.9zM512.2 433.7h0.9v1.4h-0.9zM512.5 421.3h0.9v1.4h-0.9zM505.0 404.5h0.9v1.4h-0.9zM557.0 403.8h0.9v1.4h-0.9zM566.1 413.5h0.9v1.4h-0.9zM564.5 419.6h0.9v1.4h-0.9zM565.1 420.6h0.9v1.4h-0.9zM560.0 408.2h0.9v1.4h-0.9zM557.8 406.2h0.9v1.4h-0.9zM563.8 414.8h0.9v1.4h-0.9zM561.2 401.5h0.9v1.4h-0.9zM655.9 408.9h0.9v1.4h-0.9zM657.6 413.7h0.9v1.4h-0.9zM782.6 406.9h0.9v1.4h-0.9zM787.3 421.1h0.9v1.4h-0.9zM774.6 409.8h0.9v1.4h-0.9zM776.7 418.2h0.9v1.4h-0.9zM779.9 412.9h0.9v1.4h-0.9zM779.8 418.1h0.9v1.4h-0.9zM782.4 402.5h0.9v1.4h-0.9zM784.1 420.0h0.9v1.4h-0.9zM889.1 422.6h0.9v1.4h-0.9zM894.2 411.5h0.9v1.4h-0.9zM893.3 410.3h0.9v1.4h-0.9zM893.8 424.9h0.9v1.4h-0.9zM890.2 429.8h0.9v1.4h-0.9zM885.4 406.5h0.9v1.4h-0.9zM884.9 405.2h0.9v1.4h-0.9zM886.5 427.8h0.9v1.4h-0.9zM947.0 414.4h0.9v1.4h-0.9zM947.0 417.0h0.9v1.4h-0.9zM684.1 526.9h0.9v1.4h-0.9zM674.8 524.7h0.9v1.4h-0.9zM679.2 519.6h0.9v1.4h-0.9zM681.5 538.1h0.9v1.4h-0.9zM680.6 517.6h0.9v1.4h-0.9zM680.0 518.9h0.9v1.4h-0.9zM677.9 532.6h0.9v1.4h-0.9zM679.1 520.7h0.9v1.4h-0.9zM677.0 527.4h0.9v1.4h-0.9zM830.3 535.9h0.9v1.4h-0.9zM824.6 516.9h0.9v1.4h-0.9zM823.4 510.7h0.9v1.4h-0.9zM829.8 537.7h0.9v1.4h-0.9zM827.5 537.4h0.9v1.4h-0.9zM826.5 519.6h0.9v1.4h-0.9zM826.1 525.2h0.9v1.4h-0.9zM825.6 529.1h0.9v1.4h-0.9zM699.2 717.0h1.0v2.4h-1.0zM862.5 709.8h1.0v2.6h-1.0zM864.9 710.5h1.0v2.6h-1.0zM377.1 813.9h0.9v1.1h-0.9zM353.0 761.1h0.9v1.5h-0.9zM389.6 858.5h0.9v1.6h-0.9zM379.6 830.9h0.9v1.7h-0.9zM387.4 884.7h0.9v2.1h-0.9zM375.4 832.8h0.9v1.4h-0.9zM386.1 847.8h0.9v1.4h-0.9zM351.6 761.7h0.9v2.0h-0.9zM395.4 893.6h0.9v1.8h-0.9zM375.1 816.7h0.9v2.1h-0.9zM367.3 782.9h0.9v1.8h-0.9zM358.6 781.1h0.9v1.2h-0.9zM395.1 903.1h0.9v2.0h-0.9zM384.6 842.3h0.9v1.1h-0.9zM392.9 855.8h0.9v2.0h-0.9zM446.3 808.7h0.9v2.0h-0.9zM431.1 754.0h0.9v1.4h-0.9zM441.8 782.2h0.9v2.0h-0.9zM473.7 882.0h0.9v1.4h-0.9zM447.4 828.9h0.9v2.2h-0.9zM446.5 798.5h0.9v2.2h-0.9zM457.9 891.2h0.9v1.2h-0.9zM446.4 809.9h0.9v1.7h-0.9zM433.4 790.8h0.9v2.0h-0.9zM649.7 817.9h0.9v1.6h-0.9zM661.5 876.4h0.9v2.0h-0.9zM638.1 757.3h0.9v2.1h-0.9zM639.7 761.7h0.9v1.6h-0.9zM640.8 753.5h0.9v1.6h-0.9zM642.0 787.6h0.9v1.9h-0.9zM664.3 872.2h0.9v1.9h-0.9zM651.0 822.0h0.9v1.9h-0.9zM656.4 876.3h0.9v2.0h-0.9zM651.2 816.0h0.9v1.4h-0.9zM668.7 897.5h0.9v1.8h-0.9zM656.1 867.4h0.9v1.8h-0.9zM658.1 878.7h0.9v1.5h-0.9zM656.7 837.8h0.9v1.4h-0.9zM662.6 862.1h0.9v1.3h-0.9zM664.2 894.0h0.9v2.0h-0.9zM659.6 851.6h0.9v1.5h-0.9zM668.6 914.0h0.9v1.8h-0.9zM762.1 795.0h0.9v1.4h-0.9zM768.9 822.5h0.9v1.2h-0.9zM759.4 752.1h0.9v1.9h-0.9zM775.8 846.9h0.9v1.3h-0.9zM751.9 742.2h0.9v1.4h-0.9zM777.9 913.9h0.9v1.9h-0.9zM784.4 879.7h0.9v1.1h-0.9zM784.4 905.5h0.9v2.1h-0.9zM766.5 811.1h0.9v1.6h-0.9zM773.4 900.8h0.9v1.4h-0.9zM758.9 758.7h0.9v1.2h-0.9zM759.8 783.0h0.9v1.5h-0.9zM776.2 837.9h0.9v2.2h-0.9zM774.6 878.5h0.9v1.4h-0.9zM763.4 794.9h0.9v1.7h-0.9zM785.5 829.2h0.9v1.8h-0.9zM759.5 782.0h0.9v1.3h-0.9zM774.4 830.7h0.9v1.4h-0.9zM767.5 876.9h0.9v1.4h-0.9zM756.3 752.9h0.9v1.2h-0.9zM759.9 811.4h0.9v1.5h-0.9zM788.0 907.3h0.9v2.1h-0.9zM770.9 777.8h0.9v1.6h-0.9zM779.4 848.5h0.9v1.1h-0.9zM780.1 853.6h0.9v1.1h-0.9zM782.9 905.0h0.9v1.4h-0.9zM767.5 818.9h0.9v1.0h-0.9zM770.9 845.6h0.9v2.0h-0.9zM828.1 846.5h1.0v3.8h-1.0zM826.2 830.4h1.0v1.9h-1.0zM687.8 741.6h1.0v2.1h-1.0zM707.6 880.7h1.0v1.8h-1.0zM704.1 888.5h1.0v1.1h-1.0zM709.4 874.9h1.0v2.5h-1.0zM709.6 889.1h1.0v3.5h-1.0zM688.2 822.0h1.0v3.7h-1.0zM691.4 750.5h1.0v1.1h-1.0zM587.2 908.6h1.0v1.9h-1.0zM602.9 771.0h0.9v1.4h-0.9zM614.9 847.9h0.9v1.8h-0.9zM618.5 805.7h0.9v2.1h-0.9zM597.3 777.6h0.9v1.1h-0.9zM614.2 808.7h0.9v1.6h-0.9zM619.3 848.0h0.9v1.8h-0.9zM596.9 741.2h0.9v1.7h-0.9zM609.1 781.8h0.9v1.6h-0.9zM613.5 796.6h0.9v1.3h-0.9zM610.7 782.5h0.9v1.2h-0.9zM622.8 850.3h0.9v1.6h-0.9zM617.0 757.1h0.9v1.1h-0.9zM604.5 790.4h0.9v1.4h-0.9zM612.9 880.6h0.9v2.1h-0.9zM741.9 864.0h1.0v1.5h-1.0zM731.4 803.7h1.0v4.0h-1.0zM727.6 761.3h1.0v3.3h-1.0zM734.7 828.9h1.0v3.7h-1.0zM728.5 755.6h1.0v3.3h-1.0zM751.0 859.0h1.0v2.3h-1.0zM794.7 820.9h1.0v3.2h-1.0zM795.7 752.6h1.0v3.3h-1.0zM796.0 821.3h1.0v3.5h-1.0zM784.7 748.2h1.0v2.0h-1.0zM798.9 803.8h1.0v1.5h-1.0z"/>
<path fill="#00ccff" d="M361.9 412.2h0.9v1.4h-0.9zM364.2 415.9h0.9v1.4h-0.9zM363.4 420.7h0.9v1.4h-0.9zM367.2 421.3h0.9v1.4h-0.9zM368.0 420.2h0.9v1.4h-0.9zM368.0 417.3h0.9v1.4h-0.9zM371.8 409.8h0.9v1.4h-0.9zM370.1 415.4h0.9v1.4h-0.9zM387.5 420.7h0.9v1.4h-0.9zM392.1 428.4h0.9v1.4h-0.9zM380.9 407.0h0.9v1.4h-0.9zM380.3 428.3h0.9v1.4h-0.9zM391.7 417.0h0.9v1.4h-0.9zM383.7 423.4h0.9v1.4h-0.9zM380.8 412.0h0.9v1.4h-0.9zM383.2 427.7h0.9v1.4h-0.9zM391.4 416.4h0.9v1.4h-0.9zM385.5 427.3h0.9v1.4h-0.9zM380.9 423.9h0.9v1.4h-0.9zM377.4 405.3h0.9v1.4h-0.9zM493.7 396.8h0.9v1.4h-0.9zM500.1 426.3h0.9v1.4h-0.9zM500.1 400.6h0.9v1.4h-0.9zM502.3 424.5h0.9v1.4h-0.9zM493.0 416.4h0.9v1.4h-0.9zM510.0 419.8h0.9v1.4h-0.9zM495.9 424.6h0.9v1.4h-0.9zM557.9 405.9h0.9v1.4h-0.9zM564.8 418.0h0.9v1.4h-0.9zM557.4 415.2h0.9v1.4h-0.9zM658.6 417.6h0.9v1.4h-0.9zM782.7 425.0h0.9v1.4h-0.9zM783.5 418.2h0.9v1.4h-0.9zM775.0 416.1h0.9v1.4h-0.9zM783.8 404.4h0.9v1.4h-0.9zM781.4 421.8h0.9v1.4h-0.9zM895.4 430.8h0.9v1.4h-0.9zM886.5 409.0h0.9v1.4h-0.9zM889.9 405.7h0.9v1.4h-0.9zM891.1 419.3h0.9v1.4h-0.9zM891.7 419.8h0.9v1.4h-0.9zM885.4 417.7h0.9v1.4h-0.9zM889.7 403.3h0.9v1.4h-0.9zM892.9 425.2h0.9v1.4h-0.9zM888.7 416.5h0.9v1.4h-0.9zM894.5 424.7h0.9v1.4h-0.9zM897.2 425.6h0.9v1.4h-0.9zM897.1 425.4h0.9v1.4h-0.9zM884.1 408.8h0.9v1.4h-0.9zM892.9 402.6h0.9v1.4h-0.9zM890.3 400.1h0.9v1.4h-0.9zM676.8 534.3h0.9v1.4h-0.9zM683.1 530.2h0.9v1.4h-0.9zM682.6 527.1h0.9v1.4h-0.9zM677.0 529.4h0.9v1.4h-0.9zM678.8 528.3h0.9v1.4h-0.9zM673.7 527.6h0.9v1.4h-0.9zM824.1 520.8h0.9v1.4h-0.9zM824.9 533.9h0.9v1.4h-0.9zM822.9 515.4h0.9v1.4h-0.9zM829.3 525.8h0.9v1.4h-0.9zM829.4 533.4h0.9v1.4h-0.9zM827.9 533.3h0.9v1.4h-0.9zM824.9 531.3h0.9v1.4h-0.9zM828.7 523.0h0.9v1.4h-0.9zM415.3 473.4h0.9v1.1h-0.9zM698.8 715.0h1.0v2.4h-1.0zM778.3 571.3h0.9v1.1h-0.9zM344.3 748.8h0.9v1.4h-0.9zM386.1 849.6h0.9v1.5h-0.9zM377.5 844.3h0.9v1.8h-0.9zM382.1 816.4h0.9v1.0h-0.9zM393.4 906.4h0.9v1.5h-0.9zM366.1 790.4h0.9v1.1h-0.9zM384.9 863.0h0.9v2.2h-0.9zM379.1 836.4h0.9v1.3h-0.9zM369.1 802.0h0.9v1.8h-0.9zM370.5 804.6h0.9v1.3h-0.9zM352.9 775.5h0.9v1.9h-0.9zM381.5 820.6h0.9v1.5h-0.9zM373.9 812.4h0.9v1.6h-0.9zM360.3 785.8h0.9v2.0h-0.9zM395.3 877.0h0.9v1.5h-0.9zM451.3 882.4h0.9v1.3h-0.9zM465.4 895.0h0.9v1.5h-0.9zM462.1 912.9h0.9v2.0h-0.9zM433.8 747.2h0.9v1.3h-0.9zM447.2 802.5h0.9v1.7h-0.9zM434.8 754.0h0.9v1.0h-0.9zM650.0 828.1h0.9v1.3h-0.9zM652.2 775.1h0.9v2.1h-0.9zM661.0 913.2h0.9v1.7h-0.9zM653.1 786.3h0.9v1.8h-0.9zM662.4 889.3h0.9v2.1h-0.9zM663.8 855.3h0.9v1.9h-0.9zM651.4 798.1h0.9v1.9h-0.9zM655.4 827.8h0.9v1.5h-0.9zM652.0 823.5h0.9v1.2h-0.9zM643.0 784.4h0.9v1.2h-0.9zM665.1 911.2h0.9v1.8h-0.9zM768.2 817.3h0.9v1.2h-0.9zM767.9 882.4h0.9v2.1h-0.9zM773.8 804.5h0.9v2.0h-0.9zM765.6 774.2h0.9v2.1h-0.9zM784.3 907.3h0.9v1.5h-0.9zM784.2 873.8h0.9v1.1h-0.9zM770.2 814.9h0.9v2.0h-0.9zM786.1 866.4h0.9v1.8h-0.9zM782.6 842.8h0.9v1.1h-0.9zM762.0 775.5h0.9v1.6h-0.9zM770.2 846.6h0.9v2.2h-0.9zM769.5 839.1h0.9v1.6h-0.9zM754.3 746.6h0.9v1.8h-0.9zM781.6 902.6h0.9v1.7h-0.9zM768.3 830.9h0.9v1.3h-0.9zM837.6 792.3h1.0v2.1h-1.0zM585.6 862.3h1.0v4.9h-1.0zM749.6 894.8h1.0v2.3h-1.0zM733.0 774.7h1.0v4.3h-1.0zM747.4 864.5h1.0v3.7h-1.0zM735.2 783.9h1.0v3.0h-1.0zM319.5 882.5h0.9v1.1h-0.9zM708.2 889.5h0.9v1.1h-0.9z"/>
<path fill="#65ff99" d="M362.6 412.0h0.9v1.4h-0.9zM382.4 431.5h0.9v1.4h-0.9zM383.9 430.5h0.9v1.4h-0.9zM385.4 429.2h0.9v1.4h-0.9zM389.7 425.6h0.9v1.4h-0.9zM384.3 430.9h0.9v1.4h-0.9zM383.7 414.3h0.9v1.4h-0.9zM373.3 414.4h0.9v1.4h-0.9zM495.6 407.5h0.9v1.4h-0.9zM504.8 415.3h0.9v1.4h-0.9zM507.1 422.0h0.9v1.4h-0.9zM493.8 410.4h0.9v1.4h-0.9zM505.0 428.9h0.9v1.4h-0.9zM506.0 414.7h0.9v1.4h-0.9zM502.9 413.9h0.9v1.4h-0.9zM781.3 410.1h0.9v1.4h-0.9zM783.2 418.6h0.9v1.4h-0.9zM890.3 421.8h0.9v1.4h-0.9zM888.4 421.1h0.9v1.4h-0.9zM888.0 405.4h0.9v1.4h-0.9zM889.0 421.6h0.9v1.4h-0.9zM891.4 422.7h0.9v1.4h-0.9zM826.7 530.3h0.9v1.4h-0.9zM828.0 518.8h0.9v1.4h-0.9zM828.4 528.0h0.9v1.4h-0.9zM367.4 803.1h0.9v1.4h-0.9zM351.5 753.9h0.9v1.4h-0.9zM641.3 770.1h0.9v1.6h-0.9zM661.8 912.1h0.9v1.6h-0.9zM644.6 792.5h0.9v1.2h-0.9zM777.2 828.0h0.9v1.7h-0.9zM771.3 843.7h0.9v1.6h-0.9zM773.8 818.3h0.9v1.7h-0.9zM768.8 851.8h0.9v1.8h-0.9zM770.0 757.0h0.9v1.6h-0.9zM771.8 824.1h0.9v1.1h-0.9zM748.1 750.8h0.9v1.8h-0.9z"/>
<path fill="#32ffcc" d="M364.1 412.9h0.9v1.4h-0.9zM373.6 419.3h0.9v1.4h-0.9zM385.7 418.9h0.9v1.4h-0.9zM372.6 405.3h0.9v1.4h-0.9zM380.1 401.8h0.9v1.4h-0.9zM382.6 417.7h0.9v1.4h-0.9zM381.1 432.1h0.9v1.4h-0.9zM376.9 418.5h0.9v1.4h-0.9zM497.1 414.2h0.9v1.4h-0.9zM494.5 399.4h0.9v1.4h-0.9zM498.0 408.3h0.9v1.4h-0.9zM497.2 410.6h0.9v1.4h-0.9zM496.6 413.0h0.9v1.4h-0.9zM502.6 419.7h0.9v1.4h-0.9zM495.2 411.8h0.9v1.4h-0.9zM501.4 405.1h0.9v1.4h-0.9zM506.0 413.3h0.9v1.4h-0.9zM502.5 410.0h0.9v1.4h-0.9zM565.8 424.1h0.9v1.4h-0.9zM562.4 408.9h0.9v1.4h-0.9zM559.7 419.6h0.9v1.4h-0.9zM564.0 425.3h0.9v1.4h-0.9zM559.6 415.6h0.9v1.4h-0.9zM562.7 419.6h0.9v1.4h-0.9zM778.9 418.3h0.9v1.4h-0.9zM780.1 411.8h0.9v1.4h-0.9zM783.6 409.5h0.9v1.4h-0.9zM894.0 422.5h0.9v1.4h-0.9zM886.4 418.9h0.9v1.4h-0.9zM888.8 414.6h0.9v1.4h-0.9zM892.4 408.0h0.9v1.4h-0.9zM678.8 519.6h0.9v1.4h-0.9zM680.5 525.8h0.9v1.4h-0.9zM679.5 529.3h0.9v1.4h-0.9zM827.6 533.4h0.9v1.4h-0.9zM816.8 409.8h0.9v1.1h-0.9zM512.4 668.6h0.9v1.1h-0.9zM388.4 874.5h0.9v1.4h-0.9zM443.2 795.7h0.9v1.6h-0.9zM465.5 908.0h0.9v1.4h-0.9zM455.2 857.4h0.9v1.5h-0.9zM465.0 905.9h0.9v1.6h-0.9zM457.1 880.0h0.9v1.8h-0.9zM445.2 792.2h0.9v1.2h-0.9zM443.9 834.2h0.9v1.8h-0.9zM640.5 773.0h0.9v2.2h-0.9zM656.6 892.4h0.9v1.7h-0.9zM658.4 901.9h0.9v1.4h-0.9zM764.9 775.1h0.9v1.0h-0.9zM788.8 887.7h0.9v1.7h-0.9zM778.6 887.4h0.9v1.5h-0.9zM761.4 796.2h0.9v2.1h-0.9zM530.1 744.1h0.9v1.1h-0.9zM518.5 881.8h0.9v1.1h-0.9z"/>
<path fill="#b2ff4c" d="M365.6 414.8h0.9v1.4h-0.9zM379.1 415.2h0.9v1.4h-0.9zM376.9 404.6h0.9v1.4h-0.9zM385.3 421.1h0.9v1.4h-0.9zM380.1 413.1h0.9v1.4h-0.9zM382.3 411.8h0.9v1.4h-0.9zM382.8 415.4h0.9v1.4h-0.9zM376.6 412.2h0.9v1.4h-0.9zM502.0 412.4h0.9v1.4h-0.9zM500.1 410.0h0.9v1.4h-0.9zM507.5 424.3h0.9v1.4h-0.9zM497.7 415.7h0.9v1.4h-0.9zM499.5 410.1h0.9v1.4h-0.9zM562.1 415.3h0.9v1.4h-0.9zM779.1 412.5h0.9v1.4h-0.9zM781.4 412.0h0.9v1.4h-0.9zM891.2 411.5h0.9v1.4h-0.9zM891.7 419.7h0.9v1.4h-0.9zM892.0 422.3h0.9v1.4h-0.9zM829.5 524.5h0.9v1.4h-0.9zM760.6 755.2h0.9v1.6h-0.9zM769.2 860.7h0.9v1.0h-0.9zM762.3 805.1h0.9v1.6h-0.9zM765.8 798.1h0.9v1.6h-0.9zM764.2 765.2h0.9v2.0h-0.9zM777.4 912.1h0.9v1.1h-0.9zM771.8 871.6h0.9v1.1h-0.9zM613.9 799.8h0.9v1.1h-0.9zM253.2 855.3h0.9v1.1h-0.9z"/>
<path fill="#7fff7f" d="M366.3 416.2h0.9v1.4h-0.9zM360.3 411.7h0.9v1.4h-0.9zM365.5 419.8h0.9v1.4h-0.9zM378.7 408.5h0.9v1.4h-0.9zM380.2 403.8h0.9v1.4h-0.9zM383.5 430.7h0.9v1.4h-0.9zM375.9 415.7h0.9v1.4h-0.9zM383.8 408.0h0.9v1.4h-0.9zM380.5 408.8h0.9v1.4h-0.9zM388.2 428.2h0.9v1.4h-0.9zM380.2 414.3h0.9v1.4h-0.9zM382.2 416.2h0.9v1.4h-0.9zM378.8 418.7h0.9v1.4h-0.9zM385.7 424.9h0.9v1.4h-0.9zM388.5 422.3h0.9v1.4h-0.9zM500.0 422.8h0.9v1.4h-0.9zM508.9 424.9h0.9v1.4h-0.9zM496.1 418.5h0.9v1.4h-0.9zM499.3 414.8h0.9v1.4h-0.9zM498.1 408.9h0.9v1.4h-0.9zM497.6 420.1h0.9v1.4h-0.9zM560.1 409.3h0.9v1.4h-0.9zM558.0 409.9h0.9v1.4h-0.9zM560.9 418.5h0.9v1.4h-0.9zM780.8 412.5h0.9v1.4h-0.9zM781.9 414.4h0.9v1.4h-0.9zM784.4 414.5h0.9v1.4h-0.9zM781.3 419.7h0.9v1.4h-0.9zM780.5 417.7h0.9v1.4h-0.9zM782.4 416.9h0.9v1.4h-0.9zM888.5 419.1h0.9v1.4h-0.9zM891.4 411.9h0.9v1.4h-0.9zM677.3 529.1h0.9v1.4h-0.9zM678.2 525.5h0.9v1.4h-0.9zM826.6 527.0h0.9v1.4h-0.9zM332.4 399.0h0.9v1.1h-0.9zM97.9 626.4h0.9v1.1h-0.9zM368.0 795.4h0.9v1.9h-0.9zM388.9 856.4h0.9v1.5h-0.9zM379.6 831.5h0.9v1.5h-0.9zM349.2 749.6h0.9v1.9h-0.9zM394.7 845.9h0.9v1.7h-0.9zM369.0 791.7h0.9v1.6h-0.9zM345.6 739.0h0.9v1.3h-0.9zM370.3 798.3h0.9v1.4h-0.9zM381.9 817.8h0.9v2.1h-0.9zM389.1 857.8h0.9v1.9h-0.9zM350.7 756.5h0.9v1.1h-0.9zM366.2 800.5h0.9v1.0h-0.9zM368.3 787.3h0.9v1.5h-0.9zM352.9 773.6h0.9v1.8h-0.9zM639.3 772.2h0.9v2.1h-0.9zM658.6 841.9h0.9v1.2h-0.9zM636.3 750.4h0.9v1.3h-0.9zM637.0 755.6h0.9v1.7h-0.9zM654.1 848.0h0.9v1.1h-0.9zM649.7 787.9h0.9v1.3h-0.9zM662.8 891.8h0.9v1.7h-0.9zM660.8 833.5h0.9v1.0h-0.9zM776.5 905.3h0.9v1.7h-0.9zM772.5 848.9h0.9v1.2h-0.9zM770.4 857.0h0.9v1.9h-0.9zM770.7 849.9h0.9v1.9h-0.9zM781.4 852.6h0.9v1.4h-0.9zM753.4 748.8h0.9v2.0h-0.9zM782.9 899.3h0.9v2.2h-0.9zM774.7 868.8h0.9v1.4h-0.9zM679.0 887.8h0.9v1.1h-0.9z"/>
<path fill="#4cffb2" d="M366.0 413.7h0.9v1.4h-0.9zM391.1 426.8h0.9v1.4h-0.9zM388.1 419.8h0.9v1.4h-0.9zM380.7 409.3h0.9v1.4h-0.9zM381.5 416.1h0.9v1.4h-0.9zM377.4 407.5h0.9v1.4h-0.9zM506.1 409.9h0.9v1.4h-0.9zM501.1 403.3h0.9v1.4h-0.9zM498.3 417.8h0.9v1.4h-0.9zM499.2 413.7h0.9v1.4h-0.9zM506.1 416.3h0.9v1.4h-0.9zM558.9 412.7h0.9v1.4h-0.9zM557.5 412.1h0.9v1.4h-0.9zM558.2 415.9h0.9v1.4h-0.9zM560.5 418.1h0.9v1.4h-0.9zM558.9 417.5h0.9v1.4h-0.9zM561.8 412.9h0.9v1.4h-0.9zM777.6 410.1h0.9v1.4h-0.9zM785.1 417.5h0.9v1.4h-0.9zM777.0 415.0h0.9v1.4h-0.9zM888.3 404.0h0.9v1.4h-0.9zM892.7 425.9h0.9v1.4h-0.9zM892.1 422.8h0.9v1.4h-0.9zM680.1 524.9h0.9v1.4h-0.9zM680.7 523.7h0.9v1.4h-0.9zM677.5 519.1h0.9v1.4h-0.9zM829.0 521.2h0.9v1.4h-0.9zM827.0 517.7h0.9v1.4h-0.9zM469.1 490.4h0.9v1.1h-0.9zM884.3 385.4h0.9v1.1h-0.9zM345.5 744.3h0.9v1.8h-0.9zM398.3 907.3h0.9v2.1h-0.9zM354.0 768.3h0.9v1.2h-0.9zM640.5 760.2h0.9v1.9h-0.9zM764.4 858.4h0.9v2.0h-0.9zM788.0 904.0h0.9v2.1h-0.9zM760.1 787.3h0.9v2.1h-0.9zM755.3 762.8h0.9v1.6h-0.9zM768.8 835.5h0.9v1.4h-0.9zM765.0 757.1h0.9v2.0h-0.9zM774.9 910.5h0.9v1.5h-0.9zM820.0 804.2h1.0v1.8h-1.0zM813.1 766.3h1.0v3.9h-1.0zM200.5 795.5h0.9v1.1h-0.9z"/>
<path fill="#cbff33" d="M380.4 422.6h0.9v1.4h-0.9zM378.3 418.6h0.9v1.4h-0.9zM382.7 419.6h0.9v1.4h-0.9zM375.1 413.9h0.9v1.4h-0.9zM380.9 407.4h0.9v1.4h-0.9zM506.6 421.1h0.9v1.4h-0.9zM501.4 419.7h0.9v1.4h-0.9zM501.6 414.8h0.9v1.4h-0.9zM498.7 415.9h0.9v1.4h-0.9zM500.3 406.0h0.9v1.4h-0.9zM562.5 413.9h0.9v1.4h-0.9zM562.0 413.0h0.9v1.4h-0.9zM889.1 415.0h0.9v1.4h-0.9zM889.9 417.2h0.9v1.4h-0.9zM679.3 524.6h0.9v1.4h-0.9zM316.6 408.3h0.9v1.1h-0.9zM966.5 793.9h0.9v1.1h-0.9z"/>
<path fill="#ffff00" d="M380.4 418.0h0.9v1.4h-0.9zM378.1 407.2h0.9v1.4h-0.9zM384.9 416.6h0.9v1.4h-0.9zM383.3 415.2h0.9v1.4h-0.9zM378.3 413.9h0.9v1.4h-0.9zM383.3 417.3h0.9v1.4h-0.9zM502.3 414.6h0.9v1.4h-0.9zM504.4 422.2h0.9v1.4h-0.9zM385.1 833.2h0.9v1.6h-0.9zM345.5 748.4h0.9v1.6h-0.9zM358.8 780.2h0.9v1.7h-0.9zM392.7 898.0h0.9v1.0h-0.9zM347.9 748.3h0.9v1.7h-0.9zM454.0 857.5h0.9v1.8h-0.9zM451.4 798.0h0.9v1.8h-0.9zM463.5 856.4h0.9v2.0h-0.9zM660.8 869.6h0.9v1.1h-0.9zM648.0 778.1h0.9v1.9h-0.9zM770.3 844.9h0.9v1.7h-0.9zM763.8 780.8h0.9v2.2h-0.9zM771.4 819.1h0.9v1.7h-0.9zM766.5 823.1h0.9v1.2h-0.9zM763.6 806.2h0.9v1.3h-0.9zM777.5 821.0h0.9v1.8h-0.9zM584.5 812.9h1.0v4.4h-1.0zM585.5 838.1h1.0v1.8h-1.0z"/>
<path fill="#ffe500" d="M379.7 414.2h0.9v1.4h-0.9zM500.5 410.0h0.9v1.4h-0.9zM339.4 743.7h0.9v1.6h-0.9zM377.1 815.4h0.9v1.9h-0.9zM388.5 889.5h0.9v1.8h-0.9zM344.3 760.5h0.9v1.5h-0.9zM392.6 905.2h0.9v1.6h-0.9zM350.0 756.5h0.9v2.0h-0.9zM349.0 751.8h0.9v1.2h-0.9zM437.6 774.7h0.9v1.0h-0.9zM456.6 892.4h0.9v1.3h-0.9zM437.6 757.9h0.9v2.1h-0.9zM438.8 791.3h0.9v1.1h-0.9zM651.1 809.1h0.9v2.0h-0.9zM665.3 895.5h0.9v1.9h-0.9zM668.5 889.8h0.9v1.4h-0.9zM656.4 840.6h0.9v1.7h-0.9zM765.9 808.6h0.9v1.7h-0.9zM764.0 839.7h0.9v2.1h-0.9zM753.5 766.5h0.9v1.4h-0.9zM706.3 791.2h1.0v2.0h-1.0zM624.5 898.5h0.9v1.6h-0.9zM751.4 894.4h1.0v1.8h-1.0z"/>
<path fill="#ffcb00" d="M381.8 413.3h0.9v1.4h-0.9zM382.3 414.0h0.9v1.4h-0.9zM383.4 420.1h0.9v1.4h-0.9zM499.7 419.0h0.9v1.4h-0.9zM345.4 736.0h0.9v1.1h-0.9zM359.2 776.6h0.9v1.8h-0.9zM376.8 806.9h0.9v1.3h-0.9zM357.3 780.8h0.9v2.1h-0.9zM456.9 854.8h0.9v1.6h-0.9zM435.5 760.2h0.9v1.5h-0.9zM443.6 831.4h0.9v1.3h-0.9zM440.6 794.5h0.9v1.1h-0.9zM462.9 889.2h0.9v1.8h-0.9zM445.0 774.3h0.9v1.3h-0.9zM653.4 838.2h0.9v1.6h-0.9zM647.6 811.7h0.9v1.9h-0.9zM655.3 824.0h0.9v2.0h-0.9zM789.6 884.5h0.9v1.5h-0.9zM774.4 822.7h0.9v1.3h-0.9zM767.7 763.0h0.9v1.3h-0.9zM767.5 769.5h0.9v1.5h-0.9zM777.8 911.8h0.9v1.7h-0.9zM777.9 864.5h0.9v2.2h-0.9zM816.1 776.8h1.0v1.5h-1.0zM691.7 774.4h1.0v2.9h-1.0zM733.4 796.4h1.0v3.2h-1.0zM743.2 863.7h1.0v1.3h-1.0zM742.2 851.8h1.0v3.3h-1.0zM754.5 876.8h1.0v3.8h-1.0zM734.3 808.9h1.0v3.5h-1.0zM728.4 743.6h1.0v1.4h-1.0zM749.9 882.8h1.0v1.8h-1.0z"/>
<path fill="#99ff65" d="M384.8 423.4h0.9v1.4h-0.9zM379.1 406.2h0.9v1.4h-0.9zM379.8 423.0h0.9v1.4h-0.9zM375.0 418.3h0.9v1.4h-0.9zM386.7 415.9h0.9v1.4h-0.9zM388.7 421.1h0.9v1.4h-0.9zM502.5 421.5h0.9v1.4h-0.9zM507.2 422.4h0.9v1.4h-0.9zM498.6 406.1h0.9v1.4h-0.9zM496.6 408.7h0.9v1.4h-0.9zM500.8 414.4h0.9v1.4h-0.9zM504.2 415.3h0.9v1.4h-0.9zM497.2 405.2h0.9v1.4h-0.9zM502.0 413.0h0.9v1.4h-0.9zM562.9 411.0h0.9v1.4h-0.9zM559.6 416.6h0.9v1.4h-0.9zM560.5 413.2h0.9v1.4h-0.9zM558.3 413.1h0.9v1.4h-0.9zM887.6 418.5h0.9v1.4h-0.9zM894.2 417.5h0.9v1.4h-0.9zM676.7 522.1h0.9v1.4h-0.9zM825.2 518.5h0.9v1.4h-0.9zM221.4 512.9h0.9v1.1h-0.9zM932.0 392.4h0.9v1.1h-0.9zM781.3 888.6h0.9v1.7h-0.9zM768.5 792.5h0.9v2.2h-0.9z"/>
<path fill="#e5ff19" d="M382.0 422.3h0.9v1.4h-0.9zM381.5 425.5h0.9v1.4h-0.9zM381.8 416.5h0.9v1.4h-0.9zM378.5 411.5h0.9v1.4h-0.9zM383.7 424.3h0.9v1.4h-0.9zM376.7 408.6h0.9v1.4h-0.9zM500.0 410.7h0.9v1.4h-0.9zM780.9 414.6h0.9v1.4h-0.9zM385.9 512.5h0.9v1.1h-0.9zM211.9 590.6h0.9v1.1h-0.9zM379.4 806.2h0.9v1.5h-0.9zM452.0 909.7h0.9v2.1h-0.9zM454.5 825.4h0.9v1.3h-0.9zM456.7 850.4h0.9v1.3h-0.9zM758.7 766.4h0.9v1.4h-0.9zM783.9 908.6h0.9v1.5h-0.9zM754.5 796.0h0.9v1.0h-0.9zM765.5 779.9h0.9v1.2h-0.9zM780.1 871.8h0.9v1.9h-0.9zM829.5 849.3h1.0v1.4h-1.0zM582.7 802.9h1.0v4.8h-1.0zM585.4 872.0h1.0v4.1h-1.0zM746.1 877.7h1.0v2.7h-1.0zM756.7 894.6h1.0v3.4h-1.0zM740.1 815.0h1.0v4.6h-1.0zM463.6 751.3h0.9v1.1h-0.9z"/>
<path fill="#ff9900" d="M381.3 417.3h0.9v1.4h-0.9zM395.6 898.4h0.9v2.2h-0.9zM344.8 745.5h0.9v1.4h-0.9zM364.7 792.5h0.9v1.8h-0.9zM460.1 865.4h0.9v1.9h-0.9zM452.1 838.4h0.9v1.3h-0.9zM429.9 771.4h0.9v1.6h-0.9zM650.6 797.0h0.9v1.9h-0.9zM666.7 850.2h0.9v1.5h-0.9zM648.0 805.1h0.9v1.6h-0.9zM656.8 828.4h0.9v2.1h-0.9zM642.5 770.2h0.9v1.4h-0.9zM784.3 897.7h0.9v1.9h-0.9zM767.3 776.6h0.9v1.2h-0.9zM765.8 820.8h0.9v1.1h-0.9zM766.4 821.0h0.9v1.8h-0.9zM775.4 798.9h0.9v1.9h-0.9zM766.5 787.0h0.9v1.8h-0.9zM776.8 867.1h0.9v1.0h-0.9zM765.7 819.1h0.9v1.2h-0.9zM825.1 820.1h1.0v3.6h-1.0zM701.6 860.5h1.0v3.0h-1.0zM679.9 745.8h1.0v1.4h-1.0zM587.3 913.0h1.0v3.7h-1.0zM750.4 874.4h1.0v2.6h-1.0z"/>
<path fill="#ffb200" d="M501.7 419.4h0.9v1.4h-0.9zM386.7 854.0h0.9v1.2h-0.9zM460.3 881.4h0.9v1.3h-0.9zM449.4 807.3h0.9v1.5h-0.9zM452.9 865.6h0.9v2.0h-0.9zM453.5 840.4h0.9v1.3h-0.9zM428.7 747.8h0.9v1.4h-0.9zM448.2 802.6h0.9v1.1h-0.9zM439.9 786.0h0.9v2.0h-0.9zM458.3 878.9h0.9v1.7h-0.9zM424.9 760.4h0.9v1.8h-0.9zM646.5 781.6h0.9v1.9h-0.9zM644.8 792.6h0.9v1.8h-0.9zM637.5 758.6h0.9v1.6h-0.9zM636.9 748.6h0.9v1.0h-0.9zM763.1 825.3h0.9v1.4h-0.9zM773.4 831.4h0.9v1.3h-0.9zM757.5 739.9h0.9v1.9h-0.9zM755.8 744.8h0.9v1.3h-0.9zM763.1 776.3h0.9v1.6h-0.9zM763.5 823.5h0.9v1.2h-0.9zM762.6 743.3h0.9v1.8h-0.9zM755.1 763.7h0.9v1.7h-0.9zM783.9 873.4h0.9v1.6h-0.9zM775.4 840.4h0.9v1.0h-0.9zM768.2 770.5h0.9v1.2h-0.9zM779.9 911.1h0.9v1.3h-0.9zM781.8 905.7h0.9v1.6h-0.9zM812.9 763.6h1.0v2.9h-1.0zM585.1 888.1h1.0v2.2h-1.0zM747.4 876.0h1.0v1.5h-1.0zM735.2 824.8h1.0v3.3h-1.0zM731.2 755.1h1.0v4.4h-1.0z"/>
<path fill="#ff4c00" d="M397.5 900.8h0.9v1.5h-0.9zM427.0 746.7h0.9v1.5h-0.9zM433.2 774.9h0.9v1.7h-0.9zM429.6 755.9h0.9v2.1h-0.9zM433.8 779.4h0.9v1.1h-0.9zM639.2 752.9h0.9v2.2h-0.9zM756.6 777.0h0.9v1.5h-0.9zM763.3 753.2h0.9v1.7h-0.9zM772.9 805.4h0.9v2.0h-0.9zM761.8 740.3h0.9v1.0h-0.9zM782.4 892.3h0.9v1.8h-0.9zM764.1 807.9h0.9v1.1h-0.9zM814.9 777.6h1.0v1.9h-1.0zM807.6 911.0h1.0v2.7h-1.0zM797.4 765.6h1.0v1.6h-1.0z"/>
<path fill="#ff3300" d="M369.2 798.0h0.9v1.1h-0.9zM350.6 754.5h0.9v1.9h-0.9zM473.0 899.1h0.9v1.9h-0.9zM460.6 899.8h0.9v1.8h-0.9zM459.6 862.8h0.9v1.2h-0.9zM437.0 772.8h0.9v1.0h-0.9zM660.0 877.1h0.9v2.0h-0.9zM661.3 884.2h0.9v1.5h-0.9zM646.4 793.6h0.9v1.2h-0.9zM662.6 875.0h0.9v1.4h-0.9zM765.8 807.4h0.9v1.5h-0.9zM781.8 888.3h0.9v1.7h-0.9zM784.2 880.3h0.9v1.8h-0.9zM767.5 793.9h0.9v1.8h-0.9zM787.5 907.9h0.9v2.0h-0.9zM763.7 761.4h0.9v1.2h-0.9zM770.5 813.2h0.9v1.8h-0.9zM757.7 760.9h0.9v1.3h-0.9zM827.0 840.2h1.0v1.3h-1.0zM585.9 847.5h1.0v2.4h-1.0zM738.8 812.9h1.0v2.3h-1.0zM801.9 785.6h1.0v1.5h-1.0z"/>
<path fill="#ff7f00" d="M379.6 845.6h0.9v2.1h-0.9zM450.1 823.7h0.9v1.4h-0.9zM465.4 885.2h0.9v1.1h-0.9zM661.3 862.5h0.9v1.5h-0.9zM641.0 811.0h0.9v1.0h-0.9zM759.6 767.4h0.9v1.2h-0.9zM775.0 845.5h0.9v1.2h-0.9zM774.8 889.7h0.9v1.8h-0.9zM770.3 818.7h0.9v2.0h-0.9zM760.9 755.3h0.9v1.8h-0.9zM748.7 749.3h0.9v2.2h-0.9zM826.9 837.7h1.0v3.8h-1.0zM810.1 750.1h1.0v3.0h-1.0zM585.4 863.8h1.0v4.8h-1.0zM741.5 807.8h1.0v3.1h-1.0zM734.7 803.7h1.0v2.4h-1.0z"/>
<path fill="#ff6500" d="M385.2 886.9h0.9v2.2h-0.9zM442.5 868.4h0.9v1.2h-0.9zM422.0 776.3h0.9v1.8h-0.9zM426.4 779.3h0.9v1.7h-0.9zM452.6 825.6h0.9v2.0h-0.9zM666.8 878.1h0.9v1.9h-0.9zM766.8 783.0h0.9v1.2h-0.9zM769.5 839.2h0.9v2.0h-0.9zM767.7 778.1h0.9v2.0h-0.9zM762.3 826.0h0.9v1.9h-0.9zM777.3 875.6h0.9v1.7h-0.9zM695.1 745.9h1.0v3.7h-1.0z"/>
<path fill="#ff1900" d="M433.0 802.4h0.9v1.3h-0.9zM468.1 862.4h0.9v1.1h-0.9zM443.1 802.6h0.9v1.8h-0.9zM461.9 840.4h0.9v1.7h-0.9zM664.7 914.4h0.9v1.5h-0.9zM763.2 792.6h0.9v1.6h-0.9zM750.8 737.9h0.9v1.8h-0.9zM768.2 844.2h0.9v1.1h-0.9zM778.3 879.6h0.9v1.8h-0.9zM760.3 791.1h0.9v1.2h-0.9zM777.9 880.0h0.9v1.7h-0.9zM725.9 762.8h1.0v3.4h-1.0z"/>
<ellipse cx="0" cy="0" rx="2.8" ry="7" fill="url(#gWarm)" opacity="1" transform="translate(166.5 413.6) rotate(-42)"/>
<ellipse cx="0" cy="0" rx="1.8" ry="3.2" fill="url(#gCy)" opacity="1" transform="translate(326.2 414.4) rotate(-20)"/>
<ellipse cx="0" cy="0" rx="4.8" ry="12" fill="url(#gWarm)" opacity="1" transform="translate(363.4 413.8) rotate(-20)"/>
<ellipse cx="0" cy="0" rx="9.5" ry="20" fill="url(#gHot)" opacity="1" transform="translate(379.6 414.2) rotate(-24)"/>
<ellipse cx="0" cy="0" rx="4.6" ry="12.5" fill="url(#gCore)" opacity="1" transform="translate(376.4 410.6) rotate(-20)"/>
<ellipse cx="0" cy="0" rx="4.4" ry="11.5" fill="url(#gCore)" opacity="1" transform="translate(383 417.8) rotate(-22)"/>
<ellipse cx="0" cy="0" rx="2.6" ry="6" fill="url(#gYel)" opacity="0.7" transform="translate(388 427) rotate(-25)"/>
<ellipse cx="0" cy="0" rx="6.2" ry="15.5" fill="url(#gWarm)" opacity="0.95" transform="translate(500.7 413.2) rotate(-20)"/>
<ellipse cx="0" cy="0" rx="3.8" ry="11.5" fill="url(#gYel)" opacity="0.9" transform="translate(561.2 412.8) rotate(-16)"/>
<ellipse cx="0" cy="0" rx="1.8" ry="5.5" fill="url(#gWarm)" opacity="0.9" transform="translate(561 412.4) rotate(-16)"/>
<ellipse cx="0" cy="0" rx="3" ry="10" fill="url(#gBl)" opacity="0.7" transform="translate(658.5 413.6) rotate(-10)"/>
<ellipse cx="0" cy="0" rx="5" ry="11" fill="url(#gCy)" opacity="0.5" transform="translate(781 414) rotate(-8)"/>
<ellipse cx="0" cy="0" rx="5" ry="12" fill="url(#gYel)" opacity="0.55" transform="translate(890.5 413.6) rotate(-8)"/>
<ellipse cx="0" cy="0" rx="3.5" ry="9" fill="url(#gBl)" opacity="0.6" transform="translate(945.4 412.4) rotate(-6)"/>
<ellipse cx="0" cy="0" rx="3.5" ry="10" fill="url(#gCy)" opacity="0.6" transform="translate(678.5 529) rotate(-8)"/>
<ellipse cx="0" cy="0" rx="4.5" ry="12" fill="url(#gCy)" opacity="0.7" transform="translate(826.9 529) rotate(-5)"/>
<rect x="340" y="416.0" width="654.5" height="0.9" fill="#000080"/>
<ellipse cx="0" cy="0" rx="4.3" ry="13.5" fill="url(#gYel)" opacity="1" transform="translate(177.3 598.3) rotate(-38)"/>
<ellipse cx="0" cy="0" rx="4.2" ry="11.5" fill="url(#gCy)" opacity="1" transform="translate(336.2 597.6) rotate(-16)"/>
<ellipse cx="0" cy="0" rx="2.6" ry="4.5" fill="url(#gBl)" opacity="0.9" transform="translate(398.6 617.5) rotate(-20)"/>
<ellipse cx="0" cy="0" rx="8.2" ry="21.5" fill="url(#gHot2)" opacity="1" transform="translate(389.7 598) rotate(-21)"/>
<ellipse cx="0" cy="0" rx="5.5" ry="17.5" fill="url(#gBl)" opacity="0.95" transform="translate(521.6 597.6) rotate(-14)"/>
<ellipse cx="0" cy="0" rx="2.2" ry="14" fill="url(#gCy)" opacity="0.9" transform="translate(521.4 597) rotate(-14)"/>
<ellipse cx="0" cy="0" rx="3.6" ry="14" fill="url(#gBl)" opacity="0.9" transform="translate(588.7 597.6) rotate(-12)"/>
<ellipse cx="0" cy="0" rx="1.5" ry="11" fill="url(#gCy)" opacity="0.9" transform="translate(588.5 597) rotate(-12)"/>
<ellipse cx="0" cy="0" rx="2" ry="11" fill="url(#gBl)" opacity="0.8" transform="translate(684.7 597.6) rotate(-10)"/>
<ellipse cx="0" cy="0" rx="2.6" ry="21" fill="url(#gBl)" opacity="0.95" transform="translate(917.9 600) rotate(-7)"/>
<ellipse cx="0" cy="0" rx="1.1" ry="13" fill="url(#gCy)" opacity="0.8" transform="translate(917.2 598) rotate(-7)"/>
<ellipse cx="0" cy="0" rx="1.2" ry="9" fill="url(#gBl)" opacity="0.7" transform="translate(925 607) rotate(-5)"/>
<ellipse cx="0" cy="0" rx="2" ry="13" fill="url(#gBl)" opacity="0.7" transform="translate(986.5 597.6) rotate(-4)"/>
<ellipse cx="0" cy="0" rx="1.4" ry="5" fill="url(#gBl)" opacity="0.8" transform="translate(794.4 603.9) rotate(0)"/>
<ellipse cx="0" cy="0" rx="4" ry="11" fill="url(#gBl)" opacity="0.9" transform="translate(698.5 716) rotate(0)"/>
<ellipse cx="0" cy="0" rx="5" ry="12" fill="url(#gBl)" opacity="0.6" transform="translate(801.9 715) rotate(0)"/>
<ellipse cx="0" cy="0" rx="6" ry="17" fill="url(#gCy)" opacity="0.75" transform="translate(863 714) rotate(0)"/>
<ellipse cx="0" cy="0" rx="2.2" ry="3" fill="url(#gBl)" opacity="0.9" transform="translate(383.1 720) rotate(0)"/>
<path d="M66.1 503.9h7.8M66.1 462.7h7.8M66.1 421.6h7.8M66.1 380.5h7.8M88.0 540.3v-7.6M196.1 540.3v-7.6M312.8 540.3v-7.6M429.4 540.3v-7.6M546.1 540.3v-7.6M662.7 540.3v-7.6M779.4 540.3v-7.6M896.0 540.3v-7.6" stroke="#fff" stroke-width="1.6" fill="none"/>
<path d="M66.1 524.4h3.9M66.1 483.3h3.9M66.1 442.2h3.9M66.1 401.1h3.9M66.1 359.9h3.9M146.5 540.3v-3.6M254.4 540.3v-3.6M371.1 540.3v-3.6M487.7 540.3v-3.6M604.4 540.3v-3.6M721.0 540.3v-3.6M837.6 540.3v-3.6M954.3 540.3v-3.6" stroke="#fff" stroke-width="1.1" fill="none"/>
<path d="M66.1 693.4h7.8M66.1 652.2h7.8M66.1 611.1h7.8M66.1 570.0h7.8M88.6 729.7v-7.6M205.2 729.7v-7.6M321.8 729.7v-7.6M438.4 729.7v-7.6M555.0 729.7v-7.6M671.6 729.7v-7.6M788.2 729.7v-7.6M904.8 729.7v-7.6" stroke="#fff" stroke-width="1.6" fill="none"/>
<path d="M66.1 713.9h3.9M66.1 672.8h3.9M66.1 631.7h3.9M66.1 590.6h3.9M66.1 549.4h3.9M146.9 729.7v-3.6M263.5 729.7v-3.6M380.1 729.7v-3.6M496.7 729.7v-3.6M613.3 729.7v-3.6M729.9 729.7v-3.6M846.5 729.7v-3.6M963.1 729.7v-3.6" stroke="#fff" stroke-width="1.1" fill="none"/>
<path d="M66.1 882.8h7.8M66.1 841.6h7.8M66.1 800.5h7.8M66.1 759.4h7.8M88.6 919.4v-7.6M205.2 919.4v-7.6M321.8 919.4v-7.6M438.4 919.4v-7.6M555.0 919.4v-7.6M671.6 919.4v-7.6M788.2 919.4v-7.6M904.8 919.4v-7.6" stroke="#fff" stroke-width="1.6" fill="none"/>
<path d="M66.1 903.3h3.9M66.1 862.2h3.9M66.1 821.1h3.9M66.1 780.0h3.9M66.1 738.8h3.9M146.9 919.4v-3.6M263.5 919.4v-3.6M380.1 919.4v-3.6M496.7 919.4v-3.6M613.3 919.4v-3.6M729.9 919.4v-3.6M846.5 919.4v-3.6M963.1 919.4v-3.6" stroke="#fff" stroke-width="1.1" fill="none"/>
<rect x="66.1" y="540.3" width="930.4" height="4.2" fill="#fff"/>
<rect x="66.1" y="729.7" width="930.4" height="4.2" fill="#fff"/>
<text class="tk" x="56.2" y="510.9" text-anchor="end" textLength="24.4" lengthAdjust="spacingAndGlyphs">0.2</text>
<text class="tk" x="56.2" y="469.7" text-anchor="end" textLength="24.4" lengthAdjust="spacingAndGlyphs">0.4</text>
<text class="tk" x="56.2" y="428.6" text-anchor="end" textLength="24.4" lengthAdjust="spacingAndGlyphs">0.6</text>
<text class="tk" x="56.2" y="387.5" text-anchor="end" textLength="24.4" lengthAdjust="spacingAndGlyphs">0.8</text>
<text class="tk" x="56.2" y="700.4" text-anchor="end" textLength="24.4" lengthAdjust="spacingAndGlyphs">0.2</text>
<text class="tk" x="56.2" y="659.2" text-anchor="end" textLength="24.4" lengthAdjust="spacingAndGlyphs">0.4</text>
<text class="tk" x="56.2" y="618.1" text-anchor="end" textLength="24.4" lengthAdjust="spacingAndGlyphs">0.6</text>
<text class="tk" x="56.2" y="577.0" text-anchor="end" textLength="24.4" lengthAdjust="spacingAndGlyphs">0.8</text>
<text class="tk" x="56.2" y="889.8" text-anchor="end" textLength="24.4" lengthAdjust="spacingAndGlyphs">0.2</text>
<text class="tk" x="56.2" y="848.6" text-anchor="end" textLength="24.4" lengthAdjust="spacingAndGlyphs">0.4</text>
<text class="tk" x="56.2" y="807.5" text-anchor="end" textLength="24.4" lengthAdjust="spacingAndGlyphs">0.6</text>
<text class="tk" x="56.2" y="766.4" text-anchor="end" textLength="24.4" lengthAdjust="spacingAndGlyphs">0.8</text>
<text class="tk" x="87.8" y="942.8" text-anchor="middle" textLength="25.0" lengthAdjust="spacingAndGlyphs">0.5</text>
<text class="tk" x="204.4" y="942.8" text-anchor="middle" textLength="25.0" lengthAdjust="spacingAndGlyphs">1.0</text>
<text class="tk" x="321.0" y="942.8" text-anchor="middle" textLength="25.0" lengthAdjust="spacingAndGlyphs">1.5</text>
<text class="tk" x="437.6" y="942.8" text-anchor="middle" textLength="25.0" lengthAdjust="spacingAndGlyphs">2.0</text>
<text class="tk" x="554.2" y="942.8" text-anchor="middle" textLength="25.0" lengthAdjust="spacingAndGlyphs">2.5</text>
<text class="tk" x="670.8" y="942.8" text-anchor="middle" textLength="25.0" lengthAdjust="spacingAndGlyphs">3.0</text>
<text class="tk" x="787.4" y="942.8" text-anchor="middle" textLength="25.0" lengthAdjust="spacingAndGlyphs">3.5</text>
<text class="tk" x="904.0" y="942.8" text-anchor="middle" textLength="25.0" lengthAdjust="spacingAndGlyphs">4.0</text>
<text font-family="Liberation Sans, sans-serif" fill="#000" font-size="20.6" transform="translate(20.2 452.04999999999995) rotate(-90)" text-anchor="middle"><tspan font-style="italic">q</tspan><tspan font-style="italic" font-size="14.5" dy="3.8">z</tspan><tspan dy="-3.8"> [Å</tspan><tspan font-size="13.6" dy="-7.8">−1</tspan><tspan dy="7.8">]</tspan></text>
<text font-family="Liberation Sans, sans-serif" fill="#000" font-size="20.6" transform="translate(20.2 641.5) rotate(-90)" text-anchor="middle"><tspan font-style="italic">q</tspan><tspan font-style="italic" font-size="14.5" dy="3.8">z</tspan><tspan dy="-3.8"> [Å</tspan><tspan font-size="13.6" dy="-7.8">−1</tspan><tspan dy="7.8">]</tspan></text>
<text font-family="Liberation Sans, sans-serif" fill="#000" font-size="20.6" transform="translate(20.2 831.05) rotate(-90)" text-anchor="middle"><tspan font-style="italic">q</tspan><tspan font-style="italic" font-size="14.5" dy="3.8">z</tspan><tspan dy="-3.8"> [Å</tspan><tspan font-size="13.6" dy="-7.8">−1</tspan><tspan dy="7.8">]</tspan></text>
<text font-family="Liberation Sans, sans-serif" fill="#000" font-size="20.6"><tspan font-style="italic" x="490.2" y="972.7">q</tspan><tspan font-style="italic" font-size="17" x="501.5" y="978" letter-spacing="1.8">//</tspan><tspan x="521.6" y="972.7">[</tspan><tspan font-style="italic" x="526.2" y="972.7">Å</tspan><tspan font-size="13.6" x="541" y="964.9">−1</tspan><tspan x="557" y="972.7">]</tspan></text>
<text class="dj" font-size="25.8" fill="#ba7029" stroke="#ba7029" stroke-width="0.5" transform="translate(170.3 407.1) rotate(-36.2)">101</text>
<text class="dj" font-size="25.8" fill="#ba7029" stroke="#ba7029" stroke-width="0.5" transform="translate(341.5 406.8) rotate(-36.2)">011</text>
<text class="dj" font-size="25.8" fill="#ba7029" stroke="#ba7029" stroke-width="0.5" transform="translate(391.7 407.1) rotate(-36.2)">111</text>
<text class="dj" font-size="25.8" fill="#ba7029" stroke="#ba7029" stroke-width="0.5" transform="translate(381.4 470.9) rotate(-36.2)">201</text>
<text class="dj" font-size="25.8" fill="#ba7029" stroke="#ba7029" stroke-width="0.5" transform="translate(473.9 407.0) rotate(-36.2)">211</text>
<text class="dj" font-size="25.8" fill="#ba7029" stroke="#ba7029" stroke-width="0.5" transform="translate(532.1 407.0) rotate(-36.2)">301</text>
<text class="dj" font-size="25.8" fill="#ba7029" stroke="#ba7029" stroke-width="0.5" transform="translate(625.0 407.1) rotate(-36.2)">311</text>
<text class="dj" font-size="25.8" fill="#ba7029" stroke="#ba7029" stroke-width="0.5" transform="translate(721.2 407.0) rotate(-36.2)">121</text>
<text class="dj" font-size="25.8" fill="#ba7029" stroke="#ba7029" stroke-width="0.5" transform="translate(771.0 406.8) rotate(-36.2)">401</text>
<text class="dj" font-size="25.8" fill="#ba7029" stroke="#ba7029" stroke-width="0.5" transform="translate(780.5 465.0) rotate(-36.2)">221</text>
<text class="dj" font-size="25.8" fill="#ba7029" stroke="#ba7029" stroke-width="0.5" transform="translate(703.5 529.5) rotate(-36.2)">020</text>
<text class="dj" font-size="25.8" fill="#ba7029" stroke="#ba7029" stroke-width="0.5" transform="translate(844.5 529.0) rotate(-36.2)">220</text>
<text class="dj" font-size="25.8" fill="#ba7029" stroke="#ba7029" stroke-width="0.5" transform="translate(868.5 407.4) rotate(-36.2)">411</text>
<text class="dj" font-size="25.8" fill="#ba7029" stroke="#ba7029" stroke-width="0.5" transform="translate(934.0 407.1) rotate(-36.2)">321</text>
<text class="dj" font-size="25.8" fill="#00ff00" stroke="#00ff00" stroke-width="0.5" transform="translate(181.0 587.4) rotate(-36.2)">101</text>
<text class="dj" font-size="25.8" fill="#00ff00" stroke="#00ff00" stroke-width="0.5" transform="translate(337.7 587.2) rotate(-36.2)">011</text>
<text class="dj" font-size="25.8" fill="#00ff00" stroke="#00ff00" stroke-width="0.5" transform="translate(392.7 587.4) rotate(-36.2)">111</text>
<text class="dj" font-size="25.8" fill="#00ff00" stroke="#00ff00" stroke-width="0.5" transform="translate(368.4 660.1) rotate(-36.2)">201</text>
<text class="dj" font-size="25.8" fill="#00ff00" stroke="#00ff00" stroke-width="0.5" transform="translate(403.8 710.0) rotate(-36.2)">200</text>
<text class="dj" font-size="25.8" fill="#00ff00" stroke="#00ff00" stroke-width="0.5" transform="translate(500.1 587.5) rotate(-36.2)">211</text>
<text class="dj" font-size="25.8" fill="#00ff00" stroke="#00ff00" stroke-width="0.5" transform="translate(572.7 587.2) rotate(-36.2)">301</text>
<text class="dj" font-size="25.8" fill="#00ff00" stroke="#00ff00" stroke-width="0.5" transform="translate(661.2 587.2) rotate(-36.2)">311</text>
<text class="dj" font-size="25.8" fill="#00ff00" stroke="#00ff00" stroke-width="0.5" transform="translate(710.7 716.4) rotate(-36.2)">020</text>
<text class="dj" font-size="25.8" fill="#00ff00" stroke="#00ff00" stroke-width="0.5" transform="translate(776.2 587.5) rotate(-36.2)">401</text>
<text class="dj" font-size="25.8" fill="#00ff00" stroke="#00ff00" stroke-width="0.5" transform="translate(807.3 640.1) rotate(-36.2)">221</text>
<text class="dj" font-size="25.8" fill="#00ff00" stroke="#00ff00" stroke-width="0.5" transform="translate(789.0 689.1) rotate(-36.2)">400</text>
<text class="dj" font-size="25.8" fill="#00ff00" stroke="#00ff00" stroke-width="0.5" transform="translate(820.0 700.2) rotate(-36.2)">220</text>
<text class="dj" font-size="25.8" fill="#00ff00" stroke="#00ff00" stroke-width="0.5" transform="translate(883.2 716.2) rotate(-36.2)">410</text>
<text class="dj" font-size="25.8" fill="#00ff00" stroke="#00ff00" stroke-width="0.5" transform="translate(898.4 587.5) rotate(-36.2)">411</text>
<text class="dj" font-size="25.8" fill="#00ff00" stroke="#00ff00" stroke-width="0.5" transform="translate(950.2 587.2) rotate(-36.2)">321</text>
<text class="dj" font-size="25.8" fill="#e4e4fa" stroke="#e4e4fa" stroke-width="0.5" transform="translate(309.6 795.0) rotate(-36.2)">111</text>
<text class="dj" font-size="25.8" fill="#e4e4fa" stroke="#e4e4fa" stroke-width="0.5" transform="translate(457.5 789.0) rotate(-36.2)">002</text>
<text class="dj" font-size="25.8" fill="#e4e4fa" stroke="#e4e4fa" stroke-width="0.5" transform="translate(588.2 794.3) rotate(-36.2)">022</text>
<text class="dj" font-size="25.8" fill="#e4e4fa" stroke="#e4e4fa" stroke-width="0.5" transform="translate(699.8 791.0) rotate(-36.2)">113</text>
<text class="dj" font-size="25.8" fill="#e4e4fa" stroke="#e4e4fa" stroke-width="0.5" transform="translate(835.8 785.2) rotate(-36.2)">222</text>
<text class="dj" font-size="25.8" fill="#e4e4fa" stroke="#e4e4fa" stroke-width="0.5" transform="translate(954.8 786.7) rotate(-36.2)">004</text>
<text class="dj" font-weight="bold" font-size="100" fill="#fff" transform="translate(83.4 399.9) scale(0.424 0.4526)">d</text>
<text class="dj" font-weight="bold" font-size="100" fill="#fff" transform="translate(83.4 581.4) scale(0.405 0.466)">e</text>
<text class="dj" font-weight="bold" font-size="100" fill="#fff" transform="translate(84.1 780.8) scale(0.414 0.47)">f</text>
<text class="dj" font-size="25.75" fill="#fff" x="78.9" y="519.7">NaBr + PbBr<tspan font-size="18.0" dy="4.2">2</tspan></text>
<text class="dj" font-size="26.75" fill="#fff" x="78.8" y="708.8">NaCl + PbCl<tspan font-size="18.7" dy="4.4">2</tspan></text>
<text class="dj" font-size="30.5" fill="#fff" x="78.5" y="902.2">NaF + PbF<tspan font-size="21.3" dy="5.0">2</tspan></text>
</svg></body></html>
